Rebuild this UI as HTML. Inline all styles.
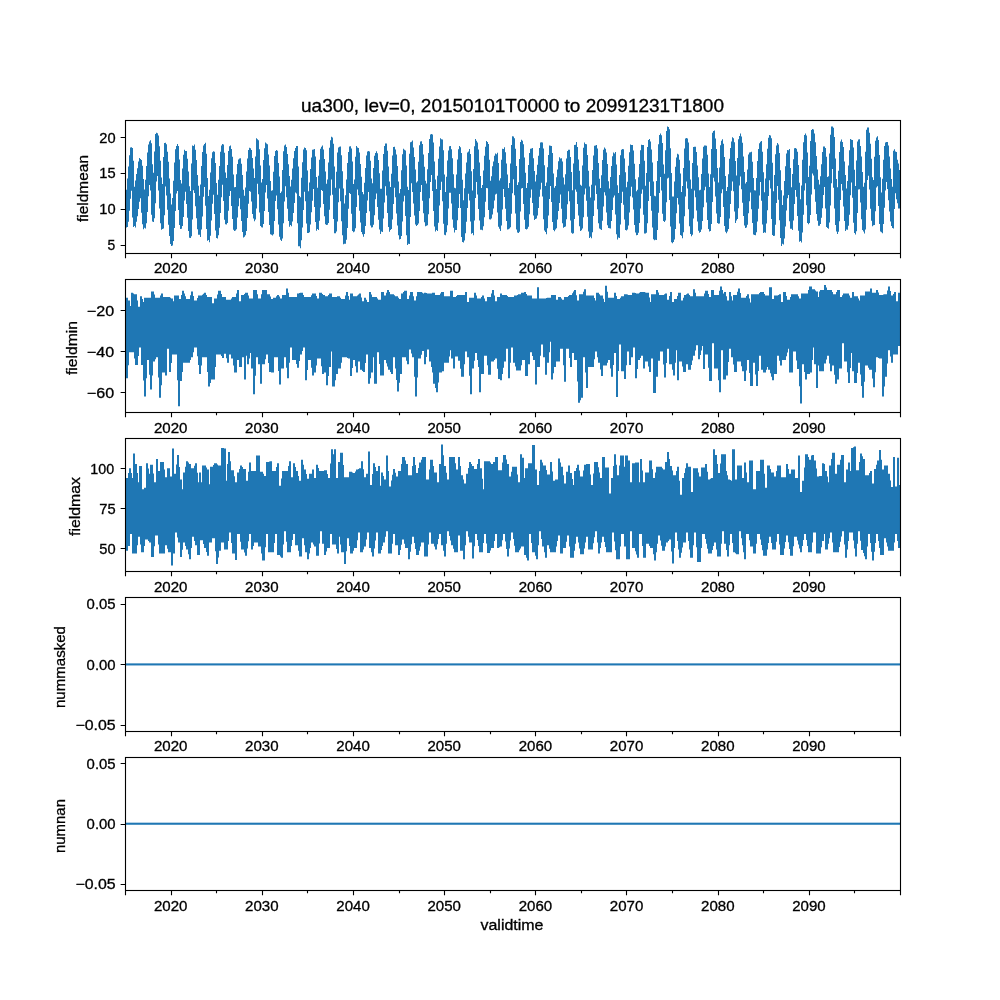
<!DOCTYPE html><html><head><meta charset="utf-8"><style>html,body{margin:0;padding:0;background:#fff;}svg{display:block;}text{font-family:"Liberation Sans",sans-serif;fill:#000;stroke:#000;stroke-width:0.3px;}</style></head><body>
<svg width="1000" height="1000" viewBox="0 0 1000 1000">
<rect width="1000" height="1000" fill="#fff"/>
<path d="M125.0 190.0 L126.0 190.0 L126.0 189.8 L127.0 189.8 L127.0 178.4 L128.0 178.4 L128.0 166.5 L129.0 166.5 L129.0 155.2 L130.0 155.2 L130.0 147.6 L131.0 147.6 L131.0 147.2 L132.0 147.2 L132.0 148.1 L133.0 148.1 L133.0 160.8 L134.0 160.8 L134.0 186.7 L135.0 186.7 L135.0 180.6 L136.0 180.6 L136.0 173.9 L137.0 173.9 L137.0 168.3 L138.0 168.3 L138.0 161.5 L139.0 161.5 L139.0 157.9 L140.0 157.9 L140.0 158.9 L141.0 158.9 L141.0 160.0 L142.0 160.0 L142.0 165.7 L143.0 165.7 L143.0 179.0 L144.0 179.0 L144.0 189.4 L145.0 189.4 L145.0 179.8 L146.0 179.8 L146.0 166.1 L147.0 166.1 L147.0 152.4 L148.0 152.4 L148.0 144.5 L149.0 144.5 L149.0 141.5 L150.0 141.5 L150.0 140.3 L151.0 140.3 L151.0 143.2 L152.0 143.2 L152.0 164.2 L153.0 164.2 L153.0 172.8 L154.0 172.8 L154.0 151.6 L155.0 151.6 L155.0 133.9 L156.0 133.9 L156.0 132.8 L157.0 132.8 L157.0 133.3 L158.0 133.3 L158.0 135.5 L159.0 135.5 L159.0 146.2 L160.0 146.2 L160.0 160.7 L161.0 160.7 L161.0 177.5 L162.0 177.5 L162.0 184.1 L163.0 184.1 L163.0 157.1 L164.0 157.1 L164.0 143.0 L165.0 143.0 L165.0 142.8 L166.0 142.8 L166.0 144.3 L167.0 144.3 L167.0 151.8 L168.0 151.8 L168.0 161.7 L169.0 161.7 L169.0 178.5 L170.0 178.5 L170.0 193.5 L171.0 193.5 L171.0 204.5 L172.0 204.5 L172.0 198.1 L173.0 198.1 L173.0 180.8 L174.0 180.8 L174.0 162.5 L175.0 162.5 L175.0 149.3 L176.0 149.3 L176.0 146.1 L177.0 146.1 L177.0 143.9 L178.0 143.9 L178.0 145.9 L179.0 145.9 L179.0 159.5 L180.0 159.5 L180.0 180.1 L181.0 180.1 L181.0 183.6 L182.0 183.6 L182.0 168.5 L183.0 168.5 L183.0 154.7 L184.0 154.7 L184.0 149.7 L185.0 149.7 L185.0 150.9 L186.0 150.9 L186.0 150.9 L187.0 150.9 L187.0 158.8 L188.0 158.8 L188.0 171.6 L189.0 171.6 L189.0 186.2 L190.0 186.2 L190.0 190.9 L191.0 190.9 L191.0 163.4 L192.0 163.4 L192.0 145.4 L193.0 145.4 L193.0 145.9 L194.0 145.9 L194.0 144.4 L195.0 144.4 L195.0 149.8 L196.0 149.8 L196.0 159.9 L197.0 159.9 L197.0 175.1 L198.0 175.1 L198.0 185.8 L199.0 185.8 L199.0 195.8 L200.0 195.8 L200.0 184.4 L201.0 184.4 L201.0 165.9 L202.0 165.9 L202.0 152.0 L203.0 152.0 L203.0 145.6 L204.0 145.6 L204.0 144.0 L205.0 144.0 L205.0 142.7 L206.0 142.7 L206.0 153.7 L207.0 153.7 L207.0 177.9 L208.0 177.9 L208.0 195.9 L209.0 195.9 L209.0 189.7 L210.0 189.7 L210.0 172.4 L211.0 172.4 L211.0 158.2 L212.0 158.2 L212.0 152.3 L213.0 152.3 L213.0 151.2 L214.0 151.2 L214.0 151.8 L215.0 151.8 L215.0 162.9 L216.0 162.9 L216.0 183.1 L217.0 183.1 L217.0 194.7 L218.0 194.7 L218.0 179.8 L219.0 179.8 L219.0 166.1 L220.0 166.1 L220.0 151.7 L221.0 151.7 L221.0 145.5 L222.0 145.5 L222.0 144.0 L223.0 144.0 L223.0 144.4 L224.0 144.4 L224.0 152.8 L225.0 152.8 L225.0 172.4 L226.0 172.4 L226.0 178.0 L227.0 178.0 L227.0 165.1 L228.0 165.1 L228.0 151.1 L229.0 151.1 L229.0 146.3 L230.0 146.3 L230.0 145.4 L231.0 145.4 L231.0 149.1 L232.0 149.1 L232.0 156.7 L233.0 156.7 L233.0 174.5 L234.0 174.5 L234.0 187.2 L235.0 187.2 L235.0 186.9 L236.0 186.9 L236.0 174.2 L237.0 174.2 L237.0 163.9 L238.0 163.9 L238.0 159.5 L239.0 159.5 L239.0 158.4 L240.0 158.4 L240.0 158.2 L241.0 158.2 L241.0 163.7 L242.0 163.7 L242.0 174.9 L243.0 174.9 L243.0 189.7 L244.0 189.7 L244.0 195.8 L245.0 195.8 L245.0 187.4 L246.0 187.4 L246.0 171.4 L247.0 171.4 L247.0 158.6 L248.0 158.6 L248.0 149.9 L249.0 149.9 L249.0 147.7 L250.0 147.7 L250.0 148.3 L251.0 148.3 L251.0 150.1 L252.0 150.1 L252.0 158.0 L253.0 158.0 L253.0 168.5 L254.0 168.5 L254.0 178.0 L255.0 178.0 L255.0 156.5 L256.0 156.5 L256.0 138.3 L257.0 138.3 L257.0 139.3 L258.0 139.3 L258.0 140.3 L259.0 140.3 L259.0 149.2 L260.0 149.2 L260.0 165.5 L261.0 165.5 L261.0 182.5 L262.0 182.5 L262.0 179.0 L263.0 179.0 L263.0 160.0 L264.0 160.0 L264.0 148.3 L265.0 148.3 L265.0 142.5 L266.0 142.5 L266.0 143.4 L267.0 143.4 L267.0 144.3 L268.0 144.3 L268.0 154.6 L269.0 154.6 L269.0 165.5 L270.0 165.5 L270.0 181.0 L271.0 181.0 L271.0 190.8 L272.0 190.8 L272.0 190.3 L273.0 190.3 L273.0 171.8 L274.0 171.8 L274.0 156.1 L275.0 156.1 L275.0 151.0 L276.0 151.0 L276.0 150.0 L277.0 150.0 L277.0 150.7 L278.0 150.7 L278.0 163.1 L279.0 163.1 L279.0 176.5 L280.0 176.5 L280.0 193.0 L281.0 193.0 L281.0 191.4 L282.0 191.4 L282.0 170.0 L283.0 170.0 L283.0 151.3 L284.0 151.3 L284.0 145.5 L285.0 145.5 L285.0 144.5 L286.0 144.5 L286.0 147.1 L287.0 147.1 L287.0 153.9 L288.0 153.9 L288.0 164.3 L289.0 164.3 L289.0 176.0 L290.0 176.0 L290.0 186.6 L291.0 186.6 L291.0 179.7 L292.0 179.7 L292.0 168.6 L293.0 168.6 L293.0 158.3 L294.0 158.3 L294.0 151.1 L295.0 151.1 L295.0 148.0 L296.0 148.0 L296.0 146.1 L297.0 146.1 L297.0 146.0 L298.0 146.0 L298.0 166.5 L299.0 166.5 L299.0 196.1 L300.0 196.1 L300.0 197.3 L301.0 197.3 L301.0 177.7 L302.0 177.7 L302.0 162.3 L303.0 162.3 L303.0 149.4 L304.0 149.4 L304.0 147.5 L305.0 147.5 L305.0 148.1 L306.0 148.1 L306.0 150.2 L307.0 150.2 L307.0 170.6 L308.0 170.6 L308.0 191.2 L309.0 191.2 L309.0 182.6 L310.0 182.6 L310.0 169.0 L311.0 169.0 L311.0 157.6 L312.0 157.6 L312.0 149.7 L313.0 149.7 L313.0 149.6 L314.0 149.6 L314.0 149.0 L315.0 149.0 L315.0 156.6 L316.0 156.6 L316.0 177.1 L317.0 177.1 L317.0 187.8 L318.0 187.8 L318.0 175.8 L319.0 175.8 L319.0 159.8 L320.0 159.8 L320.0 148.8 L321.0 148.8 L321.0 146.8 L322.0 146.8 L322.0 145.4 L323.0 145.4 L323.0 149.5 L324.0 149.5 L324.0 159.1 L325.0 159.1 L325.0 171.6 L326.0 171.6 L326.0 183.7 L327.0 183.7 L327.0 179.6 L328.0 179.6 L328.0 162.4 L329.0 162.4 L329.0 147.8 L330.0 147.8 L330.0 140.2 L331.0 140.2 L331.0 136.8 L332.0 136.8 L332.0 137.6 L333.0 137.6 L333.0 143.8 L334.0 143.8 L334.0 166.5 L335.0 166.5 L335.0 187.8 L336.0 187.8 L336.0 171.7 L337.0 171.7 L337.0 152.5 L338.0 152.5 L338.0 147.6 L339.0 147.6 L339.0 146.7 L340.0 146.7 L340.0 146.6 L341.0 146.6 L341.0 155.2 L342.0 155.2 L342.0 171.3 L343.0 171.3 L343.0 188.6 L344.0 188.6 L344.0 203.5 L345.0 203.5 L345.0 195.2 L346.0 195.2 L346.0 179.4 L347.0 179.4 L347.0 162.9 L348.0 162.9 L348.0 152.0 L349.0 152.0 L349.0 146.4 L350.0 146.4 L350.0 146.3 L351.0 146.3 L351.0 148.6 L352.0 148.6 L352.0 161.4 L353.0 161.4 L353.0 183.9 L354.0 183.9 L354.0 179.6 L355.0 179.6 L355.0 156.7 L356.0 156.7 L356.0 146.1 L357.0 146.1 L357.0 147.4 L358.0 147.4 L358.0 147.9 L359.0 147.9 L359.0 152.4 L360.0 152.4 L360.0 163.9 L361.0 163.9 L361.0 176.8 L362.0 176.8 L362.0 192.1 L363.0 192.1 L363.0 194.3 L364.0 194.3 L364.0 182.7 L365.0 182.7 L365.0 168.0 L366.0 168.0 L366.0 155.5 L367.0 155.5 L367.0 151.4 L368.0 151.4 L368.0 151.0 L369.0 151.0 L369.0 151.4 L370.0 151.4 L370.0 160.7 L371.0 160.7 L371.0 178.4 L372.0 178.4 L372.0 183.3 L373.0 183.3 L373.0 168.1 L374.0 168.1 L374.0 155.8 L375.0 155.8 L375.0 152.9 L376.0 152.9 L376.0 151.3 L377.0 151.3 L377.0 153.3 L378.0 153.3 L378.0 159.9 L379.0 159.9 L379.0 173.3 L380.0 173.3 L380.0 188.7 L381.0 188.7 L381.0 188.7 L382.0 188.7 L382.0 170.4 L383.0 170.4 L383.0 154.1 L384.0 154.1 L384.0 145.9 L385.0 145.9 L385.0 143.5 L386.0 143.5 L386.0 143.5 L387.0 143.5 L387.0 150.8 L388.0 150.8 L388.0 166.5 L389.0 166.5 L389.0 181.6 L390.0 181.6 L390.0 186.9 L391.0 186.9 L391.0 173.8 L392.0 173.8 L392.0 155.6 L393.0 155.6 L393.0 147.0 L394.0 147.0 L394.0 146.8 L395.0 146.8 L395.0 149.5 L396.0 149.5 L396.0 154.4 L397.0 154.4 L397.0 166.1 L398.0 166.1 L398.0 181.4 L399.0 181.4 L399.0 193.2 L400.0 193.2 L400.0 189.0 L401.0 189.0 L401.0 170.3 L402.0 170.3 L402.0 154.2 L403.0 154.2 L403.0 148.7 L404.0 148.7 L404.0 149.8 L405.0 149.8 L405.0 150.6 L406.0 150.6 L406.0 165.5 L407.0 165.5 L407.0 186.7 L408.0 186.7 L408.0 190.1 L409.0 190.1 L409.0 153.7 L410.0 153.7 L410.0 142.2 L411.0 142.2 L411.0 141.7 L412.0 141.7 L412.0 140.5 L413.0 140.5 L413.0 147.6 L414.0 147.6 L414.0 157.1 L415.0 157.1 L415.0 169.6 L416.0 169.6 L416.0 182.4 L417.0 182.4 L417.0 181.2 L418.0 181.2 L418.0 161.8 L419.0 161.8 L419.0 145.2 L420.0 145.2 L420.0 141.5 L421.0 141.5 L421.0 141.2 L422.0 141.2 L422.0 143.9 L423.0 143.9 L423.0 154.5 L424.0 154.5 L424.0 166.8 L425.0 166.8 L425.0 180.8 L426.0 180.8 L426.0 183.4 L427.0 183.4 L427.0 169.2 L428.0 169.2 L428.0 152.9 L429.0 152.9 L429.0 138.9 L430.0 138.9 L430.0 134.4 L431.0 134.4 L431.0 134.0 L432.0 134.0 L432.0 134.6 L433.0 134.6 L433.0 142.6 L434.0 142.6 L434.0 161.5 L435.0 161.5 L435.0 179.4 L436.0 179.4 L436.0 189.0 L437.0 189.0 L437.0 175.7 L438.0 175.7 L438.0 158.8 L439.0 158.8 L439.0 146.4 L440.0 146.4 L440.0 138.3 L441.0 138.3 L441.0 139.3 L442.0 139.3 L442.0 139.4 L443.0 139.4 L443.0 150.3 L444.0 150.3 L444.0 174.6 L445.0 174.6 L445.0 191.9 L446.0 191.9 L446.0 176.7 L447.0 176.7 L447.0 160.4 L448.0 160.4 L448.0 150.6 L449.0 150.6 L449.0 146.3 L450.0 146.3 L450.0 146.0 L451.0 146.0 L451.0 149.2 L452.0 149.2 L452.0 158.2 L453.0 158.2 L453.0 174.2 L454.0 174.2 L454.0 187.7 L455.0 187.7 L455.0 188.3 L456.0 188.3 L456.0 174.4 L457.0 174.4 L457.0 159.6 L458.0 159.6 L458.0 149.2 L459.0 149.2 L459.0 146.0 L460.0 146.0 L460.0 147.2 L461.0 147.2 L461.0 153.0 L462.0 153.0 L462.0 179.7 L463.0 179.7 L463.0 200.3 L464.0 200.3 L464.0 188.2 L465.0 188.2 L465.0 173.4 L466.0 173.4 L466.0 162.5 L467.0 162.5 L467.0 152.4 L468.0 152.4 L468.0 151.6 L469.0 151.6 L469.0 149.1 L470.0 149.1 L470.0 153.9 L471.0 153.9 L471.0 171.2 L472.0 171.2 L472.0 190.6 L473.0 190.6 L473.0 168.9 L474.0 168.9 L474.0 146.2 L475.0 146.2 L475.0 139.0 L476.0 139.0 L476.0 140.7 L477.0 140.7 L477.0 142.5 L478.0 142.5 L478.0 149.5 L479.0 149.5 L479.0 162.4 L480.0 162.4 L480.0 175.9 L481.0 175.9 L481.0 188.0 L482.0 188.0 L482.0 184.9 L483.0 184.9 L483.0 170.4 L484.0 170.4 L484.0 155.8 L485.0 155.8 L485.0 146.7 L486.0 146.7 L486.0 141.1 L487.0 141.1 L487.0 142.1 L488.0 142.1 L488.0 143.9 L489.0 143.9 L489.0 159.8 L490.0 159.8 L490.0 180.7 L491.0 180.7 L491.0 176.2 L492.0 176.2 L492.0 166.2 L493.0 166.2 L493.0 161.4 L494.0 161.4 L494.0 155.8 L495.0 155.8 L495.0 153.5 L496.0 153.5 L496.0 154.3 L497.0 154.3 L497.0 152.8 L498.0 152.8 L498.0 163.0 L499.0 163.0 L499.0 180.6 L500.0 180.6 L500.0 178.2 L501.0 178.2 L501.0 159.8 L502.0 159.8 L502.0 148.8 L503.0 148.8 L503.0 149.0 L504.0 149.0 L504.0 147.2 L505.0 147.2 L505.0 152.2 L506.0 152.2 L506.0 163.5 L507.0 163.5 L507.0 174.5 L508.0 174.5 L508.0 188.1 L509.0 188.1 L509.0 182.9 L510.0 182.9 L510.0 163.4 L511.0 163.4 L511.0 144.9 L512.0 144.9 L512.0 136.2 L513.0 136.2 L513.0 136.4 L514.0 136.4 L514.0 138.3 L515.0 138.3 L515.0 148.7 L516.0 148.7 L516.0 165.9 L517.0 165.9 L517.0 184.9 L518.0 184.9 L518.0 182.2 L519.0 182.2 L519.0 158.9 L520.0 158.9 L520.0 142.0 L521.0 142.0 L521.0 139.8 L522.0 139.8 L522.0 140.8 L523.0 140.8 L523.0 144.3 L524.0 144.3 L524.0 157.6 L525.0 157.6 L525.0 172.8 L526.0 172.8 L526.0 188.0 L527.0 188.0 L527.0 182.9 L528.0 182.9 L528.0 165.0 L529.0 165.0 L529.0 153.0 L530.0 153.0 L530.0 148.7 L531.0 148.7 L531.0 148.4 L532.0 148.4 L532.0 148.0 L533.0 148.0 L533.0 158.2 L534.0 158.2 L534.0 171.1 L535.0 171.1 L535.0 181.6 L536.0 181.6 L536.0 174.8 L537.0 174.8 L537.0 164.8 L538.0 164.8 L538.0 155.7 L539.0 155.7 L539.0 147.9 L540.0 147.9 L540.0 142.6 L541.0 142.6 L541.0 142.3 L542.0 142.3 L542.0 142.6 L543.0 142.6 L543.0 148.5 L544.0 148.5 L544.0 165.2 L545.0 165.2 L545.0 186.1 L546.0 186.1 L546.0 182.6 L547.0 182.6 L547.0 167.3 L548.0 167.3 L548.0 155.0 L549.0 155.0 L549.0 145.6 L550.0 145.6 L550.0 145.8 L551.0 145.8 L551.0 145.9 L552.0 145.9 L552.0 152.9 L553.0 152.9 L553.0 173.6 L554.0 173.6 L554.0 187.7 L555.0 187.7 L555.0 186.0 L556.0 186.0 L556.0 177.3 L557.0 177.3 L557.0 169.6 L558.0 169.6 L558.0 161.2 L559.0 161.2 L559.0 157.2 L560.0 157.2 L560.0 158.6 L561.0 158.6 L561.0 158.2 L562.0 158.2 L562.0 161.4 L563.0 161.4 L563.0 177.4 L564.0 177.4 L564.0 184.5 L565.0 184.5 L565.0 174.2 L566.0 174.2 L566.0 158.5 L567.0 158.5 L567.0 151.0 L568.0 151.0 L568.0 149.7 L569.0 149.7 L569.0 149.8 L570.0 149.8 L570.0 157.0 L571.0 157.0 L571.0 171.9 L572.0 171.9 L572.0 190.2 L573.0 190.2 L573.0 163.4 L574.0 163.4 L574.0 144.9 L575.0 144.9 L575.0 144.7 L576.0 144.7 L576.0 142.1 L577.0 142.1 L577.0 146.9 L578.0 146.9 L578.0 159.4 L579.0 159.4 L579.0 170.8 L580.0 170.8 L580.0 184.8 L581.0 184.8 L581.0 185.7 L582.0 185.7 L582.0 165.5 L583.0 165.5 L583.0 147.8 L584.0 147.8 L584.0 142.4 L585.0 142.4 L585.0 143.9 L586.0 143.9 L586.0 144.3 L587.0 144.3 L587.0 154.9 L588.0 154.9 L588.0 170.8 L589.0 170.8 L589.0 186.6 L590.0 186.6 L590.0 197.5 L591.0 197.5 L591.0 184.7 L592.0 184.7 L592.0 170.0 L593.0 170.0 L593.0 155.6 L594.0 155.6 L594.0 145.8 L595.0 145.8 L595.0 145.4 L596.0 145.4 L596.0 145.1 L597.0 145.1 L597.0 148.6 L598.0 148.6 L598.0 163.0 L599.0 163.0 L599.0 178.7 L600.0 178.7 L600.0 187.9 L601.0 187.9 L601.0 175.2 L602.0 175.2 L602.0 159.9 L603.0 159.9 L603.0 149.7 L604.0 149.7 L604.0 147.5 L605.0 147.5 L605.0 148.8 L606.0 148.8 L606.0 152.4 L607.0 152.4 L607.0 164.1 L608.0 164.1 L608.0 181.3 L609.0 181.3 L609.0 188.4 L610.0 188.4 L610.0 177.1 L611.0 177.1 L611.0 165.9 L612.0 165.9 L612.0 156.3 L613.0 156.3 L613.0 152.6 L614.0 152.6 L614.0 153.5 L615.0 153.5 L615.0 152.0 L616.0 152.0 L616.0 164.6 L617.0 164.6 L617.0 185.2 L618.0 185.2 L618.0 192.9 L619.0 192.9 L619.0 175.1 L620.0 175.1 L620.0 155.2 L621.0 155.2 L621.0 149.7 L622.0 149.7 L622.0 149.0 L623.0 149.0 L623.0 149.2 L624.0 149.2 L624.0 158.6 L625.0 158.6 L625.0 172.2 L626.0 172.2 L626.0 187.3 L627.0 187.3 L627.0 181.7 L628.0 181.7 L628.0 165.8 L629.0 165.8 L629.0 152.2 L630.0 152.2 L630.0 144.4 L631.0 144.4 L631.0 145.0 L632.0 145.0 L632.0 145.1 L633.0 145.1 L633.0 150.6 L634.0 150.6 L634.0 163.8 L635.0 163.8 L635.0 179.3 L636.0 179.3 L636.0 191.2 L637.0 191.2 L637.0 189.7 L638.0 189.7 L638.0 177.3 L639.0 177.3 L639.0 164.1 L640.0 164.1 L640.0 150.2 L641.0 150.2 L641.0 144.7 L642.0 144.7 L642.0 145.1 L643.0 145.1 L643.0 145.1 L644.0 145.1 L644.0 160.8 L645.0 160.8 L645.0 185.7 L646.0 185.7 L646.0 172.9 L647.0 172.9 L647.0 147.1 L648.0 147.1 L648.0 139.9 L649.0 139.9 L649.0 139.0 L650.0 139.0 L650.0 141.6 L651.0 141.6 L651.0 149.5 L652.0 149.5 L652.0 162.5 L653.0 162.5 L653.0 181.6 L654.0 181.6 L654.0 195.8 L655.0 195.8 L655.0 196.3 L656.0 196.3 L656.0 181.0 L657.0 181.0 L657.0 161.0 L658.0 161.0 L658.0 144.2 L659.0 144.2 L659.0 135.1 L660.0 135.1 L660.0 133.4 L661.0 133.4 L661.0 135.3 L662.0 135.3 L662.0 143.1 L663.0 143.1 L663.0 164.4 L664.0 164.4 L664.0 173.8 L665.0 173.8 L665.0 150.2 L666.0 150.2 L666.0 130.9 L667.0 130.9 L667.0 126.4 L668.0 126.4 L668.0 127.0 L669.0 127.0 L669.0 129.3 L670.0 129.3 L670.0 148.2 L671.0 148.2 L671.0 173.1 L672.0 173.1 L672.0 196.6 L673.0 196.6 L673.0 196.5 L674.0 196.5 L674.0 181.5 L675.0 181.5 L675.0 166.8 L676.0 166.8 L676.0 157.4 L677.0 157.4 L677.0 153.7 L678.0 153.7 L678.0 154.4 L679.0 154.4 L679.0 159.7 L680.0 159.7 L680.0 173.4 L681.0 173.4 L681.0 192.1 L682.0 192.1 L682.0 186.0 L683.0 186.0 L683.0 168.0 L684.0 168.0 L684.0 148.5 L685.0 148.5 L685.0 138.6 L686.0 138.6 L686.0 138.1 L687.0 138.1 L687.0 138.4 L688.0 138.4 L688.0 142.4 L689.0 142.4 L689.0 160.5 L690.0 160.5 L690.0 179.4 L691.0 179.4 L691.0 188.8 L692.0 188.8 L692.0 162.9 L693.0 162.9 L693.0 147.0 L694.0 147.0 L694.0 146.8 L695.0 146.8 L695.0 146.8 L696.0 146.8 L696.0 152.0 L697.0 152.0 L697.0 165.4 L698.0 165.4 L698.0 177.3 L699.0 177.3 L699.0 190.3 L700.0 190.3 L700.0 189.8 L701.0 189.8 L701.0 174.1 L702.0 174.1 L702.0 158.5 L703.0 158.5 L703.0 146.8 L704.0 146.8 L704.0 145.4 L705.0 145.4 L705.0 145.5 L706.0 145.5 L706.0 145.7 L707.0 145.7 L707.0 154.8 L708.0 154.8 L708.0 173.6 L709.0 173.6 L709.0 187.1 L710.0 187.1 L710.0 174.2 L711.0 174.2 L711.0 149.0 L712.0 149.0 L712.0 132.7 L713.0 132.7 L713.0 131.1 L714.0 131.1 L714.0 130.6 L715.0 130.6 L715.0 138.5 L716.0 138.5 L716.0 148.9 L717.0 148.9 L717.0 168.0 L718.0 168.0 L718.0 182.4 L719.0 182.4 L719.0 167.5 L720.0 167.5 L720.0 145.2 L721.0 145.2 L721.0 140.7 L722.0 140.7 L722.0 139.2 L723.0 139.2 L723.0 143.7 L724.0 143.7 L724.0 157.0 L725.0 157.0 L725.0 176.0 L726.0 176.0 L726.0 191.1 L727.0 191.1 L727.0 187.0 L728.0 187.0 L728.0 174.2 L729.0 174.2 L729.0 158.8 L730.0 158.8 L730.0 148.0 L731.0 148.0 L731.0 141.5 L732.0 141.5 L732.0 137.3 L733.0 137.3 L733.0 138.3 L734.0 138.3 L734.0 142.2 L735.0 142.2 L735.0 161.1 L736.0 161.1 L736.0 175.5 L737.0 175.5 L737.0 157.9 L738.0 157.9 L738.0 139.2 L739.0 139.2 L739.0 135.9 L740.0 135.9 L740.0 133.6 L741.0 133.6 L741.0 136.5 L742.0 136.5 L742.0 142.7 L743.0 142.7 L743.0 156.5 L744.0 156.5 L744.0 171.9 L745.0 171.9 L745.0 183.5 L746.0 183.5 L746.0 182.1 L747.0 182.1 L747.0 169.4 L748.0 169.4 L748.0 154.6 L749.0 154.6 L749.0 152.5 L750.0 152.5 L750.0 152.3 L751.0 152.3 L751.0 151.7 L752.0 151.7 L752.0 161.7 L753.0 161.7 L753.0 178.1 L754.0 178.1 L754.0 190.3 L755.0 190.3 L755.0 190.5 L756.0 190.5 L756.0 178.0 L757.0 178.0 L757.0 160.9 L758.0 160.9 L758.0 149.0 L759.0 149.0 L759.0 143.3 L760.0 143.3 L760.0 141.7 L761.0 141.7 L761.0 141.1 L762.0 141.1 L762.0 151.8 L763.0 151.8 L763.0 172.2 L764.0 172.2 L764.0 192.3 L765.0 192.3 L765.0 178.4 L766.0 178.4 L766.0 164.3 L767.0 164.3 L767.0 148.7 L768.0 148.7 L768.0 137.7 L769.0 137.7 L769.0 135.1 L770.0 135.1 L770.0 135.6 L771.0 135.6 L771.0 138.2 L772.0 138.2 L772.0 162.7 L773.0 162.7 L773.0 191.3 L774.0 191.3 L774.0 175.1 L775.0 175.1 L775.0 154.3 L776.0 154.3 L776.0 145.5 L777.0 145.5 L777.0 143.1 L778.0 143.1 L778.0 144.5 L779.0 144.5 L779.0 153.1 L780.0 153.1 L780.0 170.3 L781.0 170.3 L781.0 190.3 L782.0 190.3 L782.0 205.1 L783.0 205.1 L783.0 195.4 L784.0 195.4 L784.0 180.9 L785.0 180.9 L785.0 166.3 L786.0 166.3 L786.0 153.4 L787.0 153.4 L787.0 150.1 L788.0 150.1 L788.0 150.2 L789.0 150.2 L789.0 149.0 L790.0 149.0 L790.0 168.1 L791.0 168.1 L791.0 187.2 L792.0 187.2 L792.0 174.1 L793.0 174.1 L793.0 159.2 L794.0 159.2 L794.0 148.2 L795.0 148.2 L795.0 147.9 L796.0 147.9 L796.0 148.8 L797.0 148.8 L797.0 151.7 L798.0 151.7 L798.0 165.1 L799.0 165.1 L799.0 182.7 L800.0 182.7 L800.0 199.2 L801.0 199.2 L801.0 185.5 L802.0 185.5 L802.0 159.7 L803.0 159.7 L803.0 142.3 L804.0 142.3 L804.0 134.9 L805.0 134.9 L805.0 133.4 L806.0 133.4 L806.0 135.4 L807.0 135.4 L807.0 152.4 L808.0 152.4 L808.0 176.9 L809.0 176.9 L809.0 165.7 L810.0 165.7 L810.0 140.9 L811.0 140.9 L811.0 130.0 L812.0 130.0 L812.0 128.9 L813.0 128.9 L813.0 129.6 L814.0 129.6 L814.0 133.6 L815.0 133.6 L815.0 142.3 L816.0 142.3 L816.0 155.9 L817.0 155.9 L817.0 169.5 L818.0 169.5 L818.0 179.8 L819.0 179.8 L819.0 184.5 L820.0 184.5 L820.0 176.2 L821.0 176.2 L821.0 164.3 L822.0 164.3 L822.0 152.1 L823.0 152.1 L823.0 146.6 L824.0 146.6 L824.0 146.6 L825.0 146.6 L825.0 148.1 L826.0 148.1 L826.0 156.8 L827.0 156.8 L827.0 177.1 L828.0 177.1 L828.0 176.2 L829.0 176.2 L829.0 153.5 L830.0 153.5 L830.0 134.7 L831.0 134.7 L831.0 126.4 L832.0 126.4 L832.0 126.5 L833.0 126.5 L833.0 127.7 L834.0 127.7 L834.0 136.9 L835.0 136.9 L835.0 158.4 L836.0 158.4 L836.0 178.9 L837.0 178.9 L837.0 187.3 L838.0 187.3 L838.0 170.7 L839.0 170.7 L839.0 151.9 L840.0 151.9 L840.0 141.5 L841.0 141.5 L841.0 139.6 L842.0 139.6 L842.0 142.0 L843.0 142.0 L843.0 146.9 L844.0 146.9 L844.0 161.5 L845.0 161.5 L845.0 174.9 L846.0 174.9 L846.0 188.4 L847.0 188.4 L847.0 180.9 L848.0 180.9 L848.0 165.5 L849.0 165.5 L849.0 150.2 L850.0 150.2 L850.0 139.1 L851.0 139.1 L851.0 139.8 L852.0 139.8 L852.0 140.1 L853.0 140.1 L853.0 147.6 L854.0 147.6 L854.0 169.7 L855.0 169.7 L855.0 186.0 L856.0 186.0 L856.0 160.5 L857.0 160.5 L857.0 141.5 L858.0 141.5 L858.0 139.6 L859.0 139.6 L859.0 139.2 L860.0 139.2 L860.0 145.9 L861.0 145.9 L861.0 156.4 L862.0 156.4 L862.0 172.1 L863.0 172.1 L863.0 186.7 L864.0 186.7 L864.0 182.7 L865.0 182.7 L865.0 151.8 L866.0 151.8 L866.0 129.8 L867.0 129.8 L867.0 127.4 L868.0 127.4 L868.0 127.5 L869.0 127.5 L869.0 132.8 L870.0 132.8 L870.0 143.8 L871.0 143.8 L871.0 158.7 L872.0 158.7 L872.0 177.3 L873.0 177.3 L873.0 180.0 L874.0 180.0 L874.0 156.7 L875.0 156.7 L875.0 140.8 L876.0 140.8 L876.0 137.6 L877.0 137.6 L877.0 136.2 L878.0 136.2 L878.0 140.0 L879.0 140.0 L879.0 155.0 L880.0 155.0 L880.0 177.3 L881.0 177.3 L881.0 192.6 L882.0 192.6 L882.0 178.8 L883.0 178.8 L883.0 159.7 L884.0 159.7 L884.0 146.0 L885.0 146.0 L885.0 142.4 L886.0 142.4 L886.0 142.1 L887.0 142.1 L887.0 141.9 L888.0 141.9 L888.0 145.5 L889.0 145.5 L889.0 156.4 L890.0 156.4 L890.0 168.4 L891.0 168.4 L891.0 179.0 L892.0 179.0 L892.0 186.8 L893.0 186.8 L893.0 150.8 L894.0 150.8 L894.0 149.2 L895.0 149.2 L895.0 151.6 L896.0 151.6 L896.0 152.0 L897.0 152.0 L897.0 159.8 L898.0 159.8 L898.0 163.4 L899.0 163.4 L899.0 170.1 L900.0 170.1 L900.0 208.4 L899.0 208.4 L899.0 208.4 L898.0 208.4 L898.0 203.2 L897.0 203.2 L897.0 199.2 L896.0 199.2 L896.0 193.2 L895.0 193.2 L895.0 208.9 L894.0 208.9 L894.0 228.6 L893.0 228.6 L893.0 228.1 L892.0 228.1 L892.0 226.0 L891.0 226.0 L891.0 221.6 L890.0 221.6 L890.0 211.6 L889.0 211.6 L889.0 200.3 L888.0 200.3 L888.0 189.1 L887.0 189.1 L887.0 181.9 L886.0 181.9 L886.0 190.6 L885.0 190.6 L885.0 207.8 L884.0 207.8 L884.0 223.9 L883.0 223.9 L883.0 233.3 L882.0 233.3 L882.0 232.2 L881.0 232.2 L881.0 231.5 L880.0 231.5 L880.0 224.1 L879.0 224.1 L879.0 206.0 L878.0 206.0 L878.0 186.3 L877.0 186.3 L877.0 187.4 L876.0 187.4 L876.0 211.3 L875.0 211.3 L875.0 225.0 L874.0 225.0 L874.0 225.3 L873.0 225.3 L873.0 226.3 L872.0 226.3 L872.0 220.7 L871.0 220.7 L871.0 208.8 L870.0 208.8 L870.0 189.5 L869.0 189.5 L869.0 175.7 L868.0 175.7 L868.0 180.1 L867.0 180.1 L867.0 209.8 L866.0 209.8 L866.0 229.5 L865.0 229.5 L865.0 233.4 L864.0 233.4 L864.0 231.4 L863.0 231.4 L863.0 230.0 L862.0 230.0 L862.0 219.3 L861.0 219.3 L861.0 202.5 L860.0 202.5 L860.0 189.3 L859.0 189.3 L859.0 189.4 L858.0 189.4 L858.0 212.9 L857.0 212.9 L857.0 231.3 L856.0 231.3 L856.0 234.4 L855.0 234.4 L855.0 233.1 L854.0 233.1 L854.0 222.7 L853.0 222.7 L853.0 197.7 L852.0 197.7 L852.0 182.4 L851.0 182.4 L851.0 195.2 L850.0 195.2 L850.0 214.8 L849.0 214.8 L849.0 225.8 L848.0 225.8 L848.0 229.7 L847.0 229.7 L847.0 229.6 L846.0 229.6 L846.0 231.1 L845.0 231.1 L845.0 221.1 L844.0 221.1 L844.0 206.5 L843.0 206.5 L843.0 190.5 L842.0 190.5 L842.0 184.0 L841.0 184.0 L841.0 199.9 L840.0 199.9 L840.0 221.3 L839.0 221.3 L839.0 231.8 L838.0 231.8 L838.0 233.9 L837.0 233.9 L837.0 231.6 L836.0 231.6 L836.0 225.0 L835.0 225.0 L835.0 208.4 L834.0 208.4 L834.0 187.7 L833.0 187.7 L833.0 169.1 L832.0 169.1 L832.0 183.2 L831.0 183.2 L831.0 205.4 L830.0 205.4 L830.0 222.6 L829.0 222.6 L829.0 228.8 L828.0 228.8 L828.0 227.9 L827.0 227.9 L827.0 226.9 L826.0 226.9 L826.0 208.4 L825.0 208.4 L825.0 187.0 L824.0 187.0 L824.0 194.9 L823.0 194.9 L823.0 208.3 L822.0 208.3 L822.0 217.7 L821.0 217.7 L821.0 224.1 L820.0 224.1 L820.0 225.7 L819.0 225.7 L819.0 225.8 L818.0 225.8 L818.0 220.7 L817.0 220.7 L817.0 214.0 L816.0 214.0 L816.0 201.7 L815.0 201.7 L815.0 189.3 L814.0 189.3 L814.0 175.6 L813.0 175.6 L813.0 173.6 L812.0 173.6 L812.0 194.6 L811.0 194.6 L811.0 215.1 L810.0 215.1 L810.0 223.1 L809.0 223.1 L809.0 224.2 L808.0 224.2 L808.0 222.9 L807.0 222.9 L807.0 205.2 L806.0 205.2 L806.0 183.2 L805.0 183.2 L805.0 190.5 L804.0 190.5 L804.0 214.8 L803.0 214.8 L803.0 232.5 L802.0 232.5 L802.0 242.4 L801.0 242.4 L801.0 241.0 L800.0 241.0 L800.0 241.8 L799.0 241.8 L799.0 230.8 L798.0 230.8 L798.0 216.0 L797.0 216.0 L797.0 196.8 L796.0 196.8 L796.0 189.9 L795.0 189.9 L795.0 204.0 L794.0 204.0 L794.0 220.6 L793.0 220.6 L793.0 230.0 L792.0 230.0 L792.0 228.7 L791.0 228.7 L791.0 228.8 L790.0 228.8 L790.0 221.2 L789.0 221.2 L789.0 195.0 L788.0 195.0 L788.0 198.2 L787.0 198.2 L787.0 210.6 L786.0 210.6 L786.0 226.4 L785.0 226.4 L785.0 238.5 L784.0 238.5 L784.0 244.4 L783.0 244.4 L783.0 243.7 L782.0 243.7 L782.0 246.0 L781.0 246.0 L781.0 237.9 L780.0 237.9 L780.0 220.3 L779.0 220.3 L779.0 199.7 L778.0 199.7 L778.0 186.0 L777.0 186.0 L777.0 203.1 L776.0 203.1 L776.0 224.8 L775.0 224.8 L775.0 235.7 L774.0 235.7 L774.0 235.9 L773.0 235.9 L773.0 235.1 L772.0 235.1 L772.0 219.1 L771.0 219.1 L771.0 188.4 L770.0 188.4 L770.0 180.3 L769.0 180.3 L769.0 195.9 L768.0 195.9 L768.0 210.3 L767.0 210.3 L767.0 223.6 L766.0 223.6 L766.0 232.8 L765.0 232.8 L765.0 232.3 L764.0 232.3 L764.0 233.0 L763.0 233.0 L763.0 224.5 L762.0 224.5 L762.0 200.7 L761.0 200.7 L761.0 182.1 L760.0 182.1 L760.0 195.5 L759.0 195.5 L759.0 208.8 L758.0 208.8 L758.0 221.5 L757.0 221.5 L757.0 232.3 L756.0 232.3 L756.0 235.3 L755.0 235.3 L755.0 234.9 L754.0 234.9 L754.0 234.4 L753.0 234.4 L753.0 223.1 L752.0 223.1 L752.0 209.3 L751.0 209.3 L751.0 192.5 L750.0 192.5 L750.0 201.2 L749.0 201.2 L749.0 213.3 L748.0 213.3 L748.0 224.8 L747.0 224.8 L747.0 227.5 L746.0 227.5 L746.0 228.0 L745.0 228.0 L745.0 225.4 L744.0 225.4 L744.0 215.9 L743.0 215.9 L743.0 202.7 L742.0 202.7 L742.0 189.3 L741.0 189.3 L741.0 176.6 L740.0 176.6 L740.0 185.6 L739.0 185.6 L739.0 208.3 L738.0 208.3 L738.0 219.0 L737.0 219.0 L737.0 220.6 L736.0 220.6 L736.0 223.0 L735.0 223.0 L735.0 211.4 L734.0 211.4 L734.0 191.2 L733.0 191.2 L733.0 181.5 L732.0 181.5 L732.0 190.7 L731.0 190.7 L731.0 204.0 L730.0 204.0 L730.0 218.5 L729.0 218.5 L729.0 229.0 L728.0 229.0 L728.0 231.6 L727.0 231.6 L727.0 233.3 L726.0 233.3 L726.0 231.8 L725.0 231.8 L725.0 226.0 L724.0 226.0 L724.0 207.0 L723.0 207.0 L723.0 189.3 L722.0 189.3 L722.0 193.2 L721.0 193.2 L721.0 216.9 L720.0 216.9 L720.0 223.5 L719.0 223.5 L719.0 223.8 L718.0 223.8 L718.0 223.1 L717.0 223.1 L717.0 213.5 L716.0 213.5 L716.0 196.4 L715.0 196.4 L715.0 181.6 L714.0 181.6 L714.0 177.8 L713.0 177.8 L713.0 202.0 L712.0 202.0 L712.0 223.9 L711.0 223.9 L711.0 231.0 L710.0 231.0 L710.0 231.4 L709.0 231.4 L709.0 229.0 L708.0 229.0 L708.0 220.0 L707.0 220.0 L707.0 202.4 L706.0 202.4 L706.0 186.7 L705.0 186.7 L705.0 190.2 L704.0 190.2 L704.0 207.3 L703.0 207.3 L703.0 221.1 L702.0 221.1 L702.0 229.5 L701.0 229.5 L701.0 231.9 L700.0 231.9 L700.0 232.7 L699.0 232.7 L699.0 230.8 L698.0 230.8 L698.0 221.5 L697.0 221.5 L697.0 210.5 L696.0 210.5 L696.0 197.3 L695.0 197.3 L695.0 190.6 L694.0 190.6 L694.0 218.4 L693.0 218.4 L693.0 234.7 L692.0 234.7 L692.0 236.3 L691.0 236.3 L691.0 233.9 L690.0 233.9 L690.0 226.2 L689.0 226.2 L689.0 209.2 L688.0 209.2 L688.0 188.5 L687.0 188.5 L687.0 181.6 L686.0 181.6 L686.0 196.6 L685.0 196.6 L685.0 216.2 L684.0 216.2 L684.0 232.3 L683.0 232.3 L683.0 238.2 L682.0 238.2 L682.0 235.8 L681.0 235.8 L681.0 235.0 L680.0 235.0 L680.0 223.4 L679.0 223.4 L679.0 204.6 L678.0 204.6 L678.0 197.9 L677.0 197.9 L677.0 213.3 L676.0 213.3 L676.0 229.1 L675.0 229.1 L675.0 239.5 L674.0 239.5 L674.0 242.0 L673.0 242.0 L673.0 243.2 L672.0 243.2 L672.0 242.2 L671.0 242.2 L671.0 226.5 L670.0 226.5 L670.0 200.0 L669.0 200.0 L669.0 177.8 L668.0 177.8 L668.0 178.5 L667.0 178.5 L667.0 202.3 L666.0 202.3 L666.0 220.4 L665.0 220.4 L665.0 222.1 L664.0 222.1 L664.0 220.9 L663.0 220.9 L663.0 213.7 L662.0 213.7 L662.0 190.6 L661.0 190.6 L661.0 177.0 L660.0 177.0 L660.0 193.1 L659.0 193.1 L659.0 212.7 L658.0 212.7 L658.0 229.9 L657.0 229.9 L657.0 240.0 L656.0 240.0 L656.0 239.8 L655.0 239.8 L655.0 240.2 L654.0 240.2 L654.0 239.3 L653.0 239.3 L653.0 227.5 L652.0 227.5 L652.0 210.8 L651.0 210.8 L651.0 196.0 L650.0 196.0 L650.0 181.7 L649.0 181.7 L649.0 201.1 L648.0 201.1 L648.0 223.2 L647.0 223.2 L647.0 232.8 L646.0 232.8 L646.0 233.6 L645.0 233.6 L645.0 233.4 L644.0 233.4 L644.0 214.8 L643.0 214.8 L643.0 189.6 L642.0 189.6 L642.0 193.8 L641.0 193.8 L641.0 208.5 L640.0 208.5 L640.0 222.9 L639.0 222.9 L639.0 232.8 L638.0 232.8 L638.0 235.1 L637.0 235.1 L637.0 235.2 L636.0 235.2 L636.0 232.4 L635.0 232.4 L635.0 224.9 L634.0 224.9 L634.0 209.6 L633.0 209.6 L633.0 197.4 L632.0 197.4 L632.0 186.7 L631.0 186.7 L631.0 196.2 L630.0 196.2 L630.0 212.6 L629.0 212.6 L629.0 225.6 L628.0 225.6 L628.0 229.5 L627.0 229.5 L627.0 230.6 L626.0 230.6 L626.0 229.9 L625.0 229.9 L625.0 219.5 L624.0 219.5 L624.0 204.8 L623.0 204.8 L623.0 191.8 L622.0 191.8 L622.0 203.1 L621.0 203.1 L621.0 224.5 L620.0 224.5 L620.0 237.9 L619.0 237.9 L619.0 237.5 L618.0 237.5 L618.0 239.6 L617.0 239.6 L617.0 234.2 L616.0 234.2 L616.0 214.6 L615.0 214.6 L615.0 195.4 L614.0 195.4 L614.0 197.5 L613.0 197.5 L613.0 209.9 L612.0 209.9 L612.0 220.9 L611.0 220.9 L611.0 228.5 L610.0 228.5 L610.0 228.3 L609.0 228.3 L609.0 228.0 L608.0 228.0 L608.0 225.2 L607.0 225.2 L607.0 212.5 L606.0 212.5 L606.0 195.6 L605.0 195.6 L605.0 192.2 L604.0 192.2 L604.0 206.5 L603.0 206.5 L603.0 220.7 L602.0 220.7 L602.0 230.0 L601.0 230.0 L601.0 229.2 L600.0 229.2 L600.0 228.6 L599.0 228.6 L599.0 223.2 L598.0 223.2 L598.0 209.2 L597.0 209.2 L597.0 194.1 L596.0 194.1 L596.0 185.4 L595.0 185.4 L595.0 200.5 L594.0 200.5 L594.0 215.9 L593.0 215.9 L593.0 232.3 L592.0 232.3 L592.0 238.3 L591.0 238.3 L591.0 236.8 L590.0 236.8 L590.0 238.1 L589.0 238.1 L589.0 231.6 L588.0 231.6 L588.0 216.8 L587.0 216.8 L587.0 200.7 L586.0 200.7 L586.0 188.4 L585.0 188.4 L585.0 194.5 L584.0 194.5 L584.0 217.2 L583.0 217.2 L583.0 228.4 L582.0 228.4 L582.0 230.2 L581.0 230.2 L581.0 231.0 L580.0 231.0 L580.0 226.2 L579.0 226.2 L579.0 215.4 L578.0 215.4 L578.0 204.0 L577.0 204.0 L577.0 191.7 L576.0 191.7 L576.0 189.6 L575.0 189.6 L575.0 218.9 L574.0 218.9 L574.0 233.3 L573.0 233.3 L573.0 233.7 L572.0 233.7 L572.0 232.8 L571.0 232.8 L571.0 220.5 L570.0 220.5 L570.0 201.2 L569.0 201.2 L569.0 191.3 L568.0 191.3 L568.0 204.3 L567.0 204.3 L567.0 219.3 L566.0 219.3 L566.0 226.6 L565.0 226.6 L565.0 227.0 L564.0 227.0 L564.0 227.8 L563.0 227.8 L563.0 223.2 L562.0 223.2 L562.0 208.7 L561.0 208.7 L561.0 194.6 L560.0 194.6 L560.0 203.0 L559.0 203.0 L559.0 211.0 L558.0 211.0 L558.0 219.5 L557.0 219.5 L557.0 228.2 L556.0 228.2 L556.0 229.6 L555.0 229.6 L555.0 231.2 L554.0 231.2 L554.0 230.1 L553.0 230.1 L553.0 221.9 L552.0 221.9 L552.0 202.1 L551.0 202.1 L551.0 186.1 L550.0 186.1 L550.0 198.9 L549.0 198.9 L549.0 215.5 L548.0 215.5 L548.0 228.2 L547.0 228.2 L547.0 234.2 L546.0 234.2 L546.0 231.9 L545.0 231.9 L545.0 230.5 L544.0 230.5 L544.0 219.2 L543.0 219.2 L543.0 196.5 L542.0 196.5 L542.0 182.8 L541.0 182.8 L541.0 189.6 L540.0 189.6 L540.0 196.8 L539.0 196.8 L539.0 208.0 L538.0 208.0 L538.0 215.4 L537.0 215.4 L537.0 218.4 L536.0 218.4 L536.0 218.9 L535.0 218.9 L535.0 220.1 L534.0 220.1 L534.0 215.4 L533.0 215.4 L533.0 202.9 L532.0 202.9 L532.0 189.6 L531.0 189.6 L531.0 197.8 L530.0 197.8 L530.0 214.2 L529.0 214.2 L529.0 226.7 L528.0 226.7 L528.0 228.8 L527.0 228.8 L527.0 229.5 L526.0 229.5 L526.0 229.1 L525.0 229.1 L525.0 219.7 L524.0 219.7 L524.0 203.9 L523.0 203.9 L523.0 187.9 L522.0 187.9 L522.0 188.5 L521.0 188.5 L521.0 211.6 L520.0 211.6 L520.0 231.7 L519.0 231.7 L519.0 233.0 L518.0 233.0 L518.0 232.5 L517.0 232.5 L517.0 229.4 L516.0 229.4 L516.0 213.6 L515.0 213.6 L515.0 195.2 L514.0 195.2 L514.0 179.2 L513.0 179.2 L513.0 193.3 L512.0 193.3 L512.0 213.7 L511.0 213.7 L511.0 227.3 L510.0 227.3 L510.0 228.5 L509.0 228.5 L509.0 229.2 L508.0 229.2 L508.0 229.4 L507.0 229.4 L507.0 221.1 L506.0 221.1 L506.0 208.7 L505.0 208.7 L505.0 197.0 L504.0 197.0 L504.0 188.9 L503.0 188.9 L503.0 209.6 L502.0 209.6 L502.0 225.4 L501.0 225.4 L501.0 231.1 L500.0 231.1 L500.0 228.8 L499.0 228.8 L499.0 226.7 L498.0 226.7 L498.0 212.5 L497.0 212.5 L497.0 193.7 L496.0 193.7 L496.0 194.4 L495.0 194.4 L495.0 200.4 L494.0 200.4 L494.0 208.4 L493.0 208.4 L493.0 214.4 L492.0 214.4 L492.0 218.6 L491.0 218.6 L491.0 219.5 L490.0 219.5 L490.0 219.2 L489.0 219.2 L489.0 209.9 L488.0 209.9 L488.0 188.3 L487.0 188.3 L487.0 188.0 L486.0 188.0 L486.0 201.7 L485.0 201.7 L485.0 217.3 L484.0 217.3 L484.0 226.2 L483.0 226.2 L483.0 230.3 L482.0 230.3 L482.0 229.7 L481.0 229.7 L481.0 229.7 L480.0 229.7 L480.0 220.6 L479.0 220.6 L479.0 209.1 L478.0 209.1 L478.0 194.6 L477.0 194.6 L477.0 182.1 L476.0 182.1 L476.0 197.9 L475.0 197.9 L475.0 220.6 L474.0 220.6 L474.0 235.3 L473.0 235.3 L473.0 232.9 L472.0 232.9 L472.0 233.8 L471.0 233.8 L471.0 221.5 L470.0 221.5 L470.0 200.4 L469.0 200.4 L469.0 193.7 L468.0 193.7 L468.0 207.9 L467.0 207.9 L467.0 221.7 L466.0 221.7 L466.0 233.3 L465.0 233.3 L465.0 240.5 L464.0 240.5 L464.0 242.6 L463.0 242.6 L463.0 241.9 L462.0 241.9 L462.0 237.0 L461.0 237.0 L461.0 207.9 L460.0 207.9 L460.0 193.9 L459.0 193.9 L459.0 208.0 L458.0 208.0 L458.0 220.3 L457.0 220.3 L457.0 230.0 L456.0 230.0 L456.0 230.0 L455.0 230.0 L455.0 232.5 L454.0 232.5 L454.0 227.7 L453.0 227.7 L453.0 219.6 L452.0 219.6 L452.0 203.5 L451.0 203.5 L451.0 192.7 L450.0 192.7 L450.0 192.7 L449.0 192.7 L449.0 208.6 L448.0 208.6 L448.0 225.3 L447.0 225.3 L447.0 232.2 L446.0 232.2 L446.0 235.3 L445.0 235.3 L445.0 234.7 L444.0 234.7 L444.0 223.7 L443.0 223.7 L443.0 201.3 L442.0 201.3 L442.0 181.7 L441.0 181.7 L441.0 190.0 L440.0 190.0 L440.0 205.6 L439.0 205.6 L439.0 222.8 L438.0 222.8 L438.0 231.1 L437.0 231.1 L437.0 230.1 L436.0 230.1 L436.0 231.4 L435.0 231.4 L435.0 226.5 L434.0 226.5 L434.0 211.0 L433.0 211.0 L433.0 191.0 L432.0 191.0 L432.0 175.1 L431.0 175.1 L431.0 182.0 L430.0 182.0 L430.0 198.2 L429.0 198.2 L429.0 214.2 L428.0 214.2 L428.0 225.2 L427.0 225.2 L427.0 225.7 L426.0 225.7 L426.0 226.3 L425.0 226.3 L425.0 222.2 L424.0 222.2 L424.0 213.2 L423.0 213.2 L423.0 200.8 L422.0 200.8 L422.0 184.9 L421.0 184.9 L421.0 191.9 L420.0 191.9 L420.0 210.9 L419.0 210.9 L419.0 223.4 L418.0 223.4 L418.0 225.0 L417.0 225.0 L417.0 225.9 L416.0 225.9 L416.0 224.4 L415.0 224.4 L415.0 215.5 L414.0 215.5 L414.0 203.5 L413.0 203.5 L413.0 191.9 L412.0 191.9 L412.0 183.3 L411.0 183.3 L411.0 217.0 L410.0 217.0 L410.0 244.1 L409.0 244.1 L409.0 243.8 L408.0 243.8 L408.0 245.1 L407.0 245.1 L407.0 235.3 L406.0 235.3 L406.0 216.0 L405.0 216.0 L405.0 195.8 L404.0 195.8 L404.0 201.6 L403.0 201.6 L403.0 221.5 L402.0 221.5 L402.0 236.0 L401.0 236.0 L401.0 239.1 L400.0 239.1 L400.0 239.4 L399.0 239.4 L399.0 235.3 L398.0 235.3 L398.0 225.6 L397.0 225.6 L397.0 213.5 L396.0 213.5 L396.0 197.2 L395.0 197.2 L395.0 187.8 L394.0 187.8 L394.0 204.1 L393.0 204.1 L393.0 219.5 L392.0 219.5 L392.0 229.1 L391.0 229.1 L391.0 230.1 L390.0 230.1 L390.0 231.8 L389.0 231.8 L389.0 227.0 L388.0 227.0 L388.0 213.0 L387.0 213.0 L387.0 195.6 L386.0 195.6 L386.0 186.3 L385.0 186.3 L385.0 202.4 L384.0 202.4 L384.0 218.4 L383.0 218.4 L383.0 231.9 L382.0 231.9 L382.0 231.5 L381.0 231.5 L381.0 234.1 L380.0 234.1 L380.0 229.6 L379.0 229.6 L379.0 219.8 L378.0 219.8 L378.0 207.1 L377.0 207.1 L377.0 193.5 L376.0 193.5 L376.0 199.2 L375.0 199.2 L375.0 215.2 L374.0 215.2 L374.0 224.8 L373.0 224.8 L373.0 227.3 L372.0 227.3 L372.0 227.4 L371.0 227.4 L371.0 225.5 L370.0 225.5 L370.0 211.3 L369.0 211.3 L369.0 192.1 L368.0 192.1 L368.0 200.5 L367.0 200.5 L367.0 213.0 L366.0 213.0 L366.0 225.9 L365.0 225.9 L365.0 234.1 L364.0 234.1 L364.0 236.8 L363.0 236.8 L363.0 234.2 L362.0 234.2 L362.0 232.1 L361.0 232.1 L361.0 222.5 L360.0 222.5 L360.0 210.7 L359.0 210.7 L359.0 195.2 L358.0 195.2 L358.0 189.5 L357.0 189.5 L357.0 207.1 L356.0 207.1 L356.0 228.3 L355.0 228.3 L355.0 231.4 L354.0 231.4 L354.0 232.2 L353.0 232.2 L353.0 230.9 L352.0 230.9 L352.0 213.7 L351.0 213.7 L351.0 193.9 L350.0 193.9 L350.0 193.0 L349.0 193.0 L349.0 208.7 L348.0 208.7 L348.0 228.0 L347.0 228.0 L347.0 239.7 L346.0 239.7 L346.0 243.7 L345.0 243.7 L345.0 243.7 L344.0 243.7 L344.0 244.2 L343.0 244.2 L343.0 235.3 L342.0 235.3 L342.0 221.3 L341.0 221.3 L341.0 201.3 L340.0 201.3 L340.0 188.5 L339.0 188.5 L339.0 202.3 L338.0 202.3 L338.0 221.6 L337.0 221.6 L337.0 231.4 L336.0 231.4 L336.0 233.2 L335.0 233.2 L335.0 233.3 L334.0 233.3 L334.0 219.0 L333.0 219.0 L333.0 194.8 L332.0 194.8 L332.0 179.5 L331.0 179.5 L331.0 195.6 L330.0 195.6 L330.0 209.8 L329.0 209.8 L329.0 222.9 L328.0 222.9 L328.0 224.7 L327.0 224.7 L327.0 225.1 L326.0 225.1 L326.0 224.2 L325.0 224.2 L325.0 216.3 L324.0 216.3 L324.0 204.1 L323.0 204.1 L323.0 191.1 L322.0 191.1 L322.0 190.1 L321.0 190.1 L321.0 207.4 L320.0 207.4 L320.0 220.8 L319.0 220.8 L319.0 230.1 L318.0 230.1 L318.0 229.0 L317.0 229.0 L317.0 230.8 L316.0 230.8 L316.0 222.0 L315.0 222.0 L315.0 207.0 L314.0 207.0 L314.0 189.1 L313.0 189.1 L313.0 200.8 L312.0 200.8 L312.0 212.3 L311.0 212.3 L311.0 224.4 L310.0 224.4 L310.0 232.2 L309.0 232.2 L309.0 232.9 L308.0 232.9 L308.0 233.0 L307.0 233.0 L307.0 223.4 L306.0 223.4 L306.0 201.3 L305.0 201.3 L305.0 191.8 L304.0 191.8 L304.0 209.9 L303.0 209.9 L303.0 227.5 L302.0 227.5 L302.0 240.2 L301.0 240.2 L301.0 248.2 L300.0 248.2 L300.0 246.3 L299.0 246.3 L299.0 246.3 L298.0 246.3 L298.0 223.3 L297.0 223.3 L297.0 193.5 L296.0 193.5 L296.0 192.6 L295.0 192.6 L295.0 202.9 L294.0 202.9 L294.0 212.9 L293.0 212.9 L293.0 221.4 L292.0 221.4 L292.0 226.2 L291.0 226.2 L291.0 225.0 L290.0 225.0 L290.0 226.7 L289.0 226.7 L289.0 220.9 L288.0 220.9 L288.0 208.7 L287.0 208.7 L287.0 197.2 L286.0 197.2 L286.0 186.2 L285.0 186.2 L285.0 201.5 L284.0 201.5 L284.0 223.2 L283.0 223.2 L283.0 238.5 L282.0 238.5 L282.0 241.1 L281.0 241.1 L281.0 239.7 L280.0 239.7 L280.0 236.7 L279.0 236.7 L279.0 224.4 L278.0 224.4 L278.0 209.3 L277.0 209.3 L277.0 195.6 L276.0 195.6 L276.0 201.1 L275.0 201.1 L275.0 221.0 L274.0 221.0 L274.0 234.3 L273.0 234.3 L273.0 235.6 L272.0 235.6 L272.0 234.7 L271.0 234.7 L271.0 234.2 L270.0 234.2 L270.0 224.9 L269.0 224.9 L269.0 211.9 L268.0 211.9 L268.0 198.6 L267.0 198.6 L267.0 185.1 L266.0 185.1 L266.0 192.4 L265.0 192.4 L265.0 210.9 L264.0 210.9 L264.0 223.9 L263.0 223.9 L263.0 227.4 L262.0 227.4 L262.0 227.2 L261.0 227.2 L261.0 225.9 L260.0 225.9 L260.0 212.6 L259.0 212.6 L259.0 194.3 L258.0 194.3 L258.0 183.7 L257.0 183.7 L257.0 208.6 L256.0 208.6 L256.0 219.4 L255.0 219.4 L255.0 221.3 L254.0 221.3 L254.0 218.4 L253.0 218.4 L253.0 214.1 L252.0 214.1 L252.0 201.5 L251.0 201.5 L251.0 191.8 L250.0 191.8 L250.0 191.1 L249.0 191.1 L249.0 203.7 L248.0 203.7 L248.0 217.9 L247.0 217.9 L247.0 230.9 L246.0 230.9 L246.0 235.2 L245.0 235.2 L245.0 236.7 L244.0 236.7 L244.0 237.4 L243.0 237.4 L243.0 232.0 L242.0 232.0 L242.0 221.0 L241.0 221.0 L241.0 209.3 L240.0 209.3 L240.0 198.3 L239.0 198.3 L239.0 206.3 L238.0 206.3 L238.0 217.5 L237.0 217.5 L237.0 229.2 L236.0 229.2 L236.0 230.4 L235.0 230.4 L235.0 231.0 L234.0 231.0 L234.0 229.7 L233.0 229.7 L233.0 218.9 L232.0 218.9 L232.0 205.9 L231.0 205.9 L231.0 191.1 L230.0 191.1 L230.0 196.1 L229.0 196.1 L229.0 210.8 L228.0 210.8 L228.0 223.0 L227.0 223.0 L227.0 224.5 L226.0 224.5 L226.0 224.3 L225.0 224.3 L225.0 219.7 L224.0 219.7 L224.0 200.9 L223.0 200.9 L223.0 184.7 L222.0 184.7 L222.0 197.3 L221.0 197.3 L221.0 213.0 L220.0 213.0 L220.0 227.7 L219.0 227.7 L219.0 235.3 L218.0 235.3 L218.0 238.4 L217.0 238.4 L217.0 238.1 L216.0 238.1 L216.0 230.5 L215.0 230.5 L215.0 213.9 L214.0 213.9 L214.0 194.8 L213.0 194.8 L213.0 203.7 L212.0 203.7 L212.0 220.4 L211.0 220.4 L211.0 235.8 L210.0 235.8 L210.0 242.2 L209.0 242.2 L209.0 239.9 L208.0 239.9 L208.0 240.8 L207.0 240.8 L207.0 228.9 L206.0 228.9 L206.0 205.8 L205.0 205.8 L205.0 187.0 L204.0 187.0 L204.0 196.8 L203.0 196.8 L203.0 216.5 L202.0 216.5 L202.0 229.6 L201.0 229.6 L201.0 236.9 L200.0 236.9 L200.0 234.8 L199.0 234.8 L199.0 234.7 L198.0 234.7 L198.0 229.3 L197.0 229.3 L197.0 218.3 L196.0 218.3 L196.0 206.2 L195.0 206.2 L195.0 192.9 L194.0 192.9 L194.0 190.2 L193.0 190.2 L193.0 219.4 L192.0 219.4 L192.0 236.3 L191.0 236.3 L191.0 238.1 L190.0 238.1 L190.0 237.8 L189.0 237.8 L189.0 231.0 L188.0 231.0 L188.0 217.8 L187.0 217.8 L187.0 204.1 L186.0 204.1 L186.0 191.7 L185.0 191.7 L185.0 200.5 L184.0 200.5 L184.0 217.0 L183.0 217.0 L183.0 226.1 L182.0 226.1 L182.0 228.8 L181.0 228.8 L181.0 229.0 L180.0 229.0 L180.0 224.9 L179.0 224.9 L179.0 210.0 L178.0 210.0 L178.0 190.9 L177.0 190.9 L177.0 193.5 L176.0 193.5 L176.0 211.1 L175.0 211.1 L175.0 227.9 L174.0 227.9 L174.0 240.9 L173.0 240.9 L173.0 245.5 L172.0 245.5 L172.0 245.9 L171.0 245.9 L171.0 244.1 L170.0 244.1 L170.0 236.1 L169.0 236.1 L169.0 224.8 L168.0 224.8 L168.0 209.8 L167.0 209.8 L167.0 195.5 L166.0 195.5 L166.0 186.6 L165.0 186.6 L165.0 215.2 L164.0 215.2 L164.0 228.4 L163.0 228.4 L163.0 228.9 L162.0 228.9 L162.0 229.7 L161.0 229.7 L161.0 223.2 L160.0 223.2 L160.0 208.4 L159.0 208.4 L159.0 190.4 L158.0 190.4 L158.0 176.1 L157.0 176.1 L157.0 181.4 L156.0 181.4 L156.0 203.3 L155.0 203.3 L155.0 218.3 L154.0 218.3 L154.0 222.0 L153.0 222.0 L153.0 221.6 L152.0 221.6 L152.0 214.7 L151.0 214.7 L151.0 190.4 L150.0 190.4 L150.0 185.0 L149.0 185.0 L149.0 196.3 L148.0 196.3 L148.0 211.9 L147.0 211.9 L147.0 223.3 L146.0 223.3 L146.0 228.6 L145.0 228.6 L145.0 227.7 L144.0 227.7 L144.0 229.3 L143.0 229.3 L143.0 224.2 L142.0 224.2 L142.0 212.8 L141.0 212.8 L141.0 198.3 L140.0 198.3 L140.0 201.8 L139.0 201.8 L139.0 209.1 L138.0 209.1 L138.0 216.2 L137.0 216.2 L137.0 221.8 L136.0 221.8 L136.0 227.4 L135.0 227.4 L135.0 225.9 L134.0 225.9 L134.0 226.9 L133.0 226.9 L133.0 217.4 L132.0 217.4 L132.0 190.7 L131.0 190.7 L131.0 198.7 L130.0 198.7 L130.0 210.7 L129.0 210.7 L129.0 221.7 L128.0 221.7 L128.0 227.0 L127.0 227.0 L127.0 227.4 L126.0 227.4 L126.0 226.4 L125.0 226.4Z" fill="#1f77b4"/>
<path d="M125.0 297.7 L126.0 297.7 L126.0 297.7 L127.0 297.7 L127.0 297.7 L128.0 297.7 L128.0 300.5 L129.0 300.5 L129.0 300.5 L130.0 300.5 L130.0 306.1 L131.0 306.1 L131.0 292.8 L132.0 292.8 L132.0 292.8 L133.0 292.8 L133.0 293.5 L134.0 293.5 L134.0 294.2 L135.0 294.2 L135.0 294.2 L136.0 294.2 L136.0 294.2 L137.0 294.2 L137.0 300.5 L138.0 300.5 L138.0 306.8 L139.0 306.8 L139.0 306.8 L140.0 306.8 L140.0 296.3 L141.0 296.3 L141.0 296.3 L142.0 296.3 L142.0 299.1 L143.0 299.1 L143.0 301.9 L144.0 301.9 L144.0 297.7 L145.0 297.7 L145.0 297.7 L146.0 297.7 L146.0 297.7 L147.0 297.7 L147.0 297.7 L148.0 297.7 L148.0 297.7 L149.0 297.7 L149.0 297.7 L150.0 297.7 L150.0 297.7 L151.0 297.7 L151.0 291.4 L152.0 291.4 L152.0 291.4 L153.0 291.4 L153.0 291.4 L154.0 291.4 L154.0 294.5 L155.0 294.5 L155.0 297.7 L156.0 297.7 L156.0 297.7 L157.0 297.7 L157.0 297.7 L158.0 297.7 L158.0 297.7 L159.0 297.7 L159.0 297.7 L160.0 297.7 L160.0 295.6 L161.0 295.6 L161.0 293.5 L162.0 293.5 L162.0 293.5 L163.0 293.5 L163.0 297.0 L164.0 297.0 L164.0 297.0 L165.0 297.0 L165.0 297.0 L166.0 297.0 L166.0 297.0 L167.0 297.0 L167.0 297.0 L168.0 297.0 L168.0 297.0 L169.0 297.0 L169.0 297.0 L170.0 297.0 L170.0 297.7 L171.0 297.7 L171.0 298.4 L172.0 298.4 L172.0 298.4 L173.0 298.4 L173.0 301.2 L174.0 301.2 L174.0 295.6 L175.0 295.6 L175.0 295.6 L176.0 295.6 L176.0 295.6 L177.0 295.6 L177.0 295.6 L178.0 295.6 L178.0 295.6 L179.0 295.6 L179.0 299.1 L180.0 299.1 L180.0 299.1 L181.0 299.1 L181.0 294.9 L182.0 294.9 L182.0 290.7 L183.0 290.7 L183.0 290.7 L184.0 290.7 L184.0 293.5 L185.0 293.5 L185.0 296.3 L186.0 296.3 L186.0 299.1 L187.0 299.1 L187.0 299.1 L188.0 299.1 L188.0 299.1 L189.0 299.1 L189.0 299.1 L190.0 299.1 L190.0 295.2 L191.0 295.2 L191.0 291.4 L192.0 291.4 L192.0 291.4 L193.0 291.4 L193.0 295.9 L194.0 295.9 L194.0 300.5 L195.0 300.5 L195.0 300.5 L196.0 300.5 L196.0 300.5 L197.0 300.5 L197.0 298.1 L198.0 298.1 L198.0 295.6 L199.0 295.6 L199.0 295.6 L200.0 295.6 L200.0 295.6 L201.0 295.6 L201.0 295.6 L202.0 295.6 L202.0 294.7 L203.0 294.7 L203.0 293.7 L204.0 293.7 L204.0 292.8 L205.0 292.8 L205.0 292.8 L206.0 292.8 L206.0 294.9 L207.0 294.9 L207.0 297.0 L208.0 297.0 L208.0 297.0 L209.0 297.0 L209.0 297.0 L210.0 297.0 L210.0 297.0 L211.0 297.0 L211.0 297.0 L212.0 297.0 L212.0 303.3 L213.0 303.3 L213.0 303.3 L214.0 303.3 L214.0 298.4 L215.0 298.4 L215.0 298.4 L216.0 298.4 L216.0 298.4 L217.0 298.4 L217.0 294.5 L218.0 294.5 L218.0 290.7 L219.0 290.7 L219.0 290.7 L220.0 290.7 L220.0 290.7 L221.0 290.7 L221.0 293.9 L222.0 293.9 L222.0 297.0 L223.0 297.0 L223.0 297.0 L224.0 297.0 L224.0 297.0 L225.0 297.0 L225.0 297.0 L226.0 297.0 L226.0 299.8 L227.0 299.8 L227.0 299.8 L228.0 299.8 L228.0 299.8 L229.0 299.8 L229.0 299.8 L230.0 299.8 L230.0 299.8 L231.0 299.8 L231.0 298.4 L232.0 298.4 L232.0 297.0 L233.0 297.0 L233.0 297.0 L234.0 297.0 L234.0 297.0 L235.0 297.0 L235.0 297.0 L236.0 297.0 L236.0 293.5 L237.0 293.5 L237.0 290.0 L238.0 290.0 L238.0 290.0 L239.0 290.0 L239.0 301.2 L240.0 301.2 L240.0 301.2 L241.0 301.2 L241.0 294.9 L242.0 294.9 L242.0 294.9 L243.0 294.9 L243.0 294.9 L244.0 294.9 L244.0 293.9 L245.0 293.9 L245.0 292.8 L246.0 292.8 L246.0 292.8 L247.0 292.8 L247.0 292.8 L248.0 292.8 L248.0 295.6 L249.0 295.6 L249.0 298.4 L250.0 298.4 L250.0 298.4 L251.0 298.4 L251.0 298.4 L252.0 298.4 L252.0 298.4 L253.0 298.4 L253.0 290.0 L254.0 290.0 L254.0 290.0 L255.0 290.0 L255.0 290.0 L256.0 290.0 L256.0 290.0 L257.0 290.0 L257.0 294.2 L258.0 294.2 L258.0 298.4 L259.0 298.4 L259.0 298.4 L260.0 298.4 L260.0 298.4 L261.0 298.4 L261.0 294.2 L262.0 294.2 L262.0 290.0 L263.0 290.0 L263.0 290.0 L264.0 290.0 L264.0 290.0 L265.0 290.0 L265.0 290.0 L266.0 290.0 L266.0 290.0 L267.0 290.0 L267.0 294.2 L268.0 294.2 L268.0 294.2 L269.0 294.2 L269.0 294.2 L270.0 294.2 L270.0 296.6 L271.0 296.6 L271.0 299.1 L272.0 299.1 L272.0 299.1 L273.0 299.1 L273.0 297.7 L274.0 297.7 L274.0 297.7 L275.0 297.7 L275.0 297.7 L276.0 297.7 L276.0 296.3 L277.0 296.3 L277.0 294.9 L278.0 294.9 L278.0 294.9 L279.0 294.9 L279.0 296.6 L280.0 296.6 L280.0 298.4 L281.0 298.4 L281.0 298.4 L282.0 298.4 L282.0 294.9 L283.0 294.9 L283.0 294.9 L284.0 294.9 L284.0 294.9 L285.0 294.9 L285.0 294.9 L286.0 294.9 L286.0 288.6 L287.0 288.6 L287.0 288.6 L288.0 288.6 L288.0 292.8 L289.0 292.8 L289.0 297.0 L290.0 297.0 L290.0 297.0 L291.0 297.0 L291.0 297.0 L292.0 297.0 L292.0 297.0 L293.0 297.0 L293.0 297.0 L294.0 297.0 L294.0 297.0 L295.0 297.0 L295.0 297.0 L296.0 297.0 L296.0 297.0 L297.0 297.0 L297.0 293.5 L298.0 293.5 L298.0 293.5 L299.0 293.5 L299.0 293.1 L300.0 293.1 L300.0 292.8 L301.0 292.8 L301.0 292.8 L302.0 292.8 L302.0 292.8 L303.0 292.8 L303.0 294.9 L304.0 294.9 L304.0 297.0 L305.0 297.0 L305.0 297.0 L306.0 297.0 L306.0 297.0 L307.0 297.0 L307.0 297.0 L308.0 297.0 L308.0 297.0 L309.0 297.0 L309.0 297.0 L310.0 297.0 L310.0 297.0 L311.0 297.0 L311.0 295.2 L312.0 295.2 L312.0 293.5 L313.0 293.5 L313.0 293.5 L314.0 293.5 L314.0 293.5 L315.0 293.5 L315.0 293.5 L316.0 293.5 L316.0 295.9 L317.0 295.9 L317.0 298.4 L318.0 298.4 L318.0 298.4 L319.0 298.4 L319.0 292.8 L320.0 292.8 L320.0 292.8 L321.0 292.8 L321.0 292.8 L322.0 292.8 L322.0 293.9 L323.0 293.9 L323.0 294.9 L324.0 294.9 L324.0 294.9 L325.0 294.9 L325.0 296.3 L326.0 296.3 L326.0 296.3 L327.0 296.3 L327.0 296.3 L328.0 296.3 L328.0 294.9 L329.0 294.9 L329.0 293.5 L330.0 293.5 L330.0 293.5 L331.0 293.5 L331.0 293.5 L332.0 293.5 L332.0 297.0 L333.0 297.0 L333.0 297.0 L334.0 297.0 L334.0 297.0 L335.0 297.0 L335.0 297.0 L336.0 297.0 L336.0 297.0 L337.0 297.0 L337.0 296.3 L338.0 296.3 L338.0 296.3 L339.0 296.3 L339.0 296.3 L340.0 296.3 L340.0 297.7 L341.0 297.7 L341.0 299.1 L342.0 299.1 L342.0 299.1 L343.0 299.1 L343.0 299.1 L344.0 299.1 L344.0 299.1 L345.0 299.1 L345.0 295.6 L346.0 295.6 L346.0 292.1 L347.0 292.1 L347.0 292.1 L348.0 292.1 L348.0 296.0 L349.0 296.0 L349.0 299.8 L350.0 299.8 L350.0 293.5 L351.0 293.5 L351.0 293.5 L352.0 293.5 L352.0 293.5 L353.0 293.5 L353.0 296.3 L354.0 296.3 L354.0 296.3 L355.0 296.3 L355.0 296.3 L356.0 296.3 L356.0 296.3 L357.0 296.3 L357.0 295.4 L358.0 295.4 L358.0 294.4 L359.0 294.4 L359.0 293.5 L360.0 293.5 L360.0 293.5 L361.0 293.5 L361.0 297.4 L362.0 297.4 L362.0 301.2 L363.0 301.2 L363.0 301.2 L364.0 301.2 L364.0 297.7 L365.0 297.7 L365.0 297.7 L366.0 297.7 L366.0 299.8 L367.0 299.8 L367.0 301.9 L368.0 301.9 L368.0 301.9 L369.0 301.9 L369.0 292.1 L370.0 292.1 L370.0 292.1 L371.0 292.1 L371.0 294.6 L372.0 294.6 L372.0 297.0 L373.0 297.0 L373.0 297.0 L374.0 297.0 L374.0 297.0 L375.0 297.0 L375.0 297.0 L376.0 297.0 L376.0 297.0 L377.0 297.0 L377.0 298.4 L378.0 298.4 L378.0 299.8 L379.0 299.8 L379.0 299.8 L380.0 299.8 L380.0 299.8 L381.0 299.8 L381.0 292.1 L382.0 292.1 L382.0 292.1 L383.0 292.1 L383.0 292.1 L384.0 292.1 L384.0 295.6 L385.0 295.6 L385.0 295.6 L386.0 295.6 L386.0 292.8 L387.0 292.8 L387.0 290.0 L388.0 290.0 L388.0 290.0 L389.0 290.0 L389.0 292.1 L390.0 292.1 L390.0 294.2 L391.0 294.2 L391.0 294.2 L392.0 294.2 L392.0 294.2 L393.0 294.2 L393.0 294.2 L394.0 294.2 L394.0 295.2 L395.0 295.2 L395.0 296.3 L396.0 296.3 L396.0 296.3 L397.0 296.3 L397.0 296.3 L398.0 296.3 L398.0 297.7 L399.0 297.7 L399.0 299.1 L400.0 299.1 L400.0 299.1 L401.0 299.1 L401.0 293.5 L402.0 293.5 L402.0 293.5 L403.0 293.5 L403.0 292.1 L404.0 292.1 L404.0 290.7 L405.0 290.7 L405.0 290.7 L406.0 290.7 L406.0 290.7 L407.0 290.7 L407.0 299.1 L408.0 299.1 L408.0 299.1 L409.0 299.1 L409.0 295.6 L410.0 295.6 L410.0 292.1 L411.0 292.1 L411.0 292.1 L412.0 292.1 L412.0 292.1 L413.0 292.1 L413.0 296.3 L414.0 296.3 L414.0 300.5 L415.0 300.5 L415.0 300.5 L416.0 300.5 L416.0 296.3 L417.0 296.3 L417.0 292.1 L418.0 292.1 L418.0 292.1 L419.0 292.1 L419.0 292.1 L420.0 292.1 L420.0 292.1 L421.0 292.1 L421.0 292.1 L422.0 292.1 L422.0 292.8 L423.0 292.8 L423.0 293.5 L424.0 293.5 L424.0 292.8 L425.0 292.8 L425.0 292.8 L426.0 292.8 L426.0 293.1 L427.0 293.1 L427.0 293.5 L428.0 293.5 L428.0 293.5 L429.0 293.5 L429.0 293.5 L430.0 293.5 L430.0 293.5 L431.0 293.5 L431.0 293.5 L432.0 293.5 L432.0 292.8 L433.0 292.8 L433.0 292.8 L434.0 292.8 L434.0 292.8 L435.0 292.8 L435.0 294.9 L436.0 294.9 L436.0 294.9 L437.0 294.9 L437.0 294.9 L438.0 294.9 L438.0 294.9 L439.0 294.9 L439.0 294.9 L440.0 294.9 L440.0 293.5 L441.0 293.5 L441.0 292.1 L442.0 292.1 L442.0 292.1 L443.0 292.1 L443.0 292.1 L444.0 292.1 L444.0 296.3 L445.0 296.3 L445.0 296.3 L446.0 296.3 L446.0 296.3 L447.0 296.3 L447.0 296.3 L448.0 296.3 L448.0 296.3 L449.0 296.3 L449.0 296.3 L450.0 296.3 L450.0 290.7 L451.0 290.7 L451.0 290.7 L452.0 290.7 L452.0 290.7 L453.0 290.7 L453.0 297.0 L454.0 297.0 L454.0 297.0 L455.0 297.0 L455.0 297.0 L456.0 297.0 L456.0 295.9 L457.0 295.9 L457.0 294.9 L458.0 294.9 L458.0 294.9 L459.0 294.9 L459.0 294.9 L460.0 294.9 L460.0 294.9 L461.0 294.9 L461.0 294.9 L462.0 294.9 L462.0 294.9 L463.0 294.9 L463.0 294.9 L464.0 294.9 L464.0 294.9 L465.0 294.9 L465.0 292.1 L466.0 292.1 L466.0 292.1 L467.0 292.1 L467.0 301.9 L468.0 301.9 L468.0 301.9 L469.0 301.9 L469.0 297.7 L470.0 297.7 L470.0 297.7 L471.0 297.7 L471.0 297.7 L472.0 297.7 L472.0 297.7 L473.0 297.7 L473.0 297.7 L474.0 297.7 L474.0 292.8 L475.0 292.8 L475.0 292.8 L476.0 292.8 L476.0 295.6 L477.0 295.6 L477.0 298.4 L478.0 298.4 L478.0 298.4 L479.0 298.4 L479.0 298.4 L480.0 298.4 L480.0 298.4 L481.0 298.4 L481.0 297.0 L482.0 297.0 L482.0 295.6 L483.0 295.6 L483.0 295.6 L484.0 295.6 L484.0 298.4 L485.0 298.4 L485.0 301.2 L486.0 301.2 L486.0 301.2 L487.0 301.2 L487.0 297.0 L488.0 297.0 L488.0 297.0 L489.0 297.0 L489.0 297.0 L490.0 297.0 L490.0 297.0 L491.0 297.0 L491.0 293.5 L492.0 293.5 L492.0 290.0 L493.0 290.0 L493.0 290.0 L494.0 290.0 L494.0 295.6 L495.0 295.6 L495.0 301.2 L496.0 301.2 L496.0 301.2 L497.0 301.2 L497.0 297.0 L498.0 297.0 L498.0 297.0 L499.0 297.0 L499.0 297.0 L500.0 297.0 L500.0 293.5 L501.0 293.5 L501.0 293.5 L502.0 293.5 L502.0 294.9 L503.0 294.9 L503.0 294.9 L504.0 294.9 L504.0 294.9 L505.0 294.9 L505.0 294.9 L506.0 294.9 L506.0 294.9 L507.0 294.9 L507.0 295.9 L508.0 295.9 L508.0 297.0 L509.0 297.0 L509.0 297.0 L510.0 297.0 L510.0 297.0 L511.0 297.0 L511.0 297.0 L512.0 297.0 L512.0 297.0 L513.0 297.0 L513.0 297.0 L514.0 297.0 L514.0 295.6 L515.0 295.6 L515.0 295.6 L516.0 295.6 L516.0 295.6 L517.0 295.6 L517.0 294.9 L518.0 294.9 L518.0 294.2 L519.0 294.2 L519.0 294.2 L520.0 294.2 L520.0 294.2 L521.0 294.2 L521.0 292.8 L522.0 292.8 L522.0 292.8 L523.0 292.8 L523.0 292.8 L524.0 292.8 L524.0 292.1 L525.0 292.1 L525.0 292.1 L526.0 292.1 L526.0 293.9 L527.0 293.9 L527.0 295.6 L528.0 295.6 L528.0 295.6 L529.0 295.6 L529.0 295.6 L530.0 295.6 L530.0 295.6 L531.0 295.6 L531.0 295.6 L532.0 295.6 L532.0 298.4 L533.0 298.4 L533.0 298.4 L534.0 298.4 L534.0 298.4 L535.0 298.4 L535.0 298.4 L536.0 298.4 L536.0 298.4 L537.0 298.4 L537.0 287.2 L538.0 287.2 L538.0 287.2 L539.0 287.2 L539.0 298.4 L540.0 298.4 L540.0 298.4 L541.0 298.4 L541.0 298.4 L542.0 298.4 L542.0 298.4 L543.0 298.4 L543.0 298.4 L544.0 298.4 L544.0 298.4 L545.0 298.4 L545.0 298.4 L546.0 298.4 L546.0 298.0 L547.0 298.0 L547.0 297.7 L548.0 297.7 L548.0 297.7 L549.0 297.7 L549.0 297.7 L550.0 297.7 L550.0 297.7 L551.0 297.7 L551.0 294.9 L552.0 294.9 L552.0 294.9 L553.0 294.9 L553.0 294.9 L554.0 294.9 L554.0 294.9 L555.0 294.9 L555.0 294.9 L556.0 294.9 L556.0 299.8 L557.0 299.8 L557.0 299.8 L558.0 299.8 L558.0 297.0 L559.0 297.0 L559.0 297.0 L560.0 297.0 L560.0 297.0 L561.0 297.0 L561.0 298.4 L562.0 298.4 L562.0 299.8 L563.0 299.8 L563.0 299.8 L564.0 299.8 L564.0 297.0 L565.0 297.0 L565.0 297.0 L566.0 297.0 L566.0 297.0 L567.0 297.0 L567.0 297.0 L568.0 297.0 L568.0 295.9 L569.0 295.9 L569.0 294.9 L570.0 294.9 L570.0 294.9 L571.0 294.9 L571.0 294.9 L572.0 294.9 L572.0 293.3 L573.0 293.3 L573.0 291.6 L574.0 291.6 L574.0 290.0 L575.0 290.0 L575.0 290.0 L576.0 290.0 L576.0 295.2 L577.0 295.2 L577.0 300.5 L578.0 300.5 L578.0 300.5 L579.0 300.5 L579.0 294.2 L580.0 294.2 L580.0 294.2 L581.0 294.2 L581.0 294.2 L582.0 294.2 L582.0 294.2 L583.0 294.2 L583.0 291.8 L584.0 291.8 L584.0 289.3 L585.0 289.3 L585.0 289.3 L586.0 289.3 L586.0 295.6 L587.0 295.6 L587.0 295.6 L588.0 295.6 L588.0 295.6 L589.0 295.6 L589.0 295.6 L590.0 295.6 L590.0 295.6 L591.0 295.6 L591.0 295.6 L592.0 295.6 L592.0 295.6 L593.0 295.6 L593.0 295.6 L594.0 295.6 L594.0 298.1 L595.0 298.1 L595.0 300.5 L596.0 300.5 L596.0 292.8 L597.0 292.8 L597.0 292.8 L598.0 292.8 L598.0 292.8 L599.0 292.8 L599.0 294.2 L600.0 294.2 L600.0 295.6 L601.0 295.6 L601.0 295.6 L602.0 295.6 L602.0 295.6 L603.0 295.6 L603.0 298.8 L604.0 298.8 L604.0 301.9 L605.0 301.9 L605.0 285.8 L606.0 285.8 L606.0 285.8 L607.0 285.8 L607.0 291.8 L608.0 291.8 L608.0 297.7 L609.0 297.7 L609.0 297.7 L610.0 297.7 L610.0 297.7 L611.0 297.7 L611.0 297.7 L612.0 297.7 L612.0 297.7 L613.0 297.7 L613.0 297.7 L614.0 297.7 L614.0 292.8 L615.0 292.8 L615.0 292.8 L616.0 292.8 L616.0 296.0 L617.0 296.0 L617.0 299.1 L618.0 299.1 L618.0 299.1 L619.0 299.1 L619.0 299.1 L620.0 299.1 L620.0 297.7 L621.0 297.7 L621.0 296.3 L622.0 296.3 L622.0 296.3 L623.0 296.3 L623.0 296.3 L624.0 296.3 L624.0 294.2 L625.0 294.2 L625.0 294.2 L626.0 294.2 L626.0 294.2 L627.0 294.2 L627.0 294.5 L628.0 294.5 L628.0 294.9 L629.0 294.9 L629.0 294.9 L630.0 294.9 L630.0 294.9 L631.0 294.9 L631.0 294.9 L632.0 294.9 L632.0 292.8 L633.0 292.8 L633.0 292.8 L634.0 292.8 L634.0 292.8 L635.0 292.8 L635.0 293.1 L636.0 293.1 L636.0 293.5 L637.0 293.5 L637.0 293.5 L638.0 293.5 L638.0 293.5 L639.0 293.5 L639.0 292.8 L640.0 292.8 L640.0 292.1 L641.0 292.1 L641.0 292.1 L642.0 292.1 L642.0 292.1 L643.0 292.1 L643.0 292.1 L644.0 292.1 L644.0 292.1 L645.0 292.1 L645.0 292.5 L646.0 292.5 L646.0 292.8 L647.0 292.8 L647.0 292.8 L648.0 292.8 L648.0 292.8 L649.0 292.8 L649.0 297.4 L650.0 297.4 L650.0 301.9 L651.0 301.9 L651.0 294.2 L652.0 294.2 L652.0 294.2 L653.0 294.2 L653.0 294.2 L654.0 294.2 L654.0 294.2 L655.0 294.2 L655.0 294.2 L656.0 294.2 L656.0 290.0 L657.0 290.0 L657.0 290.0 L658.0 290.0 L658.0 292.4 L659.0 292.4 L659.0 294.9 L660.0 294.9 L660.0 294.9 L661.0 294.9 L661.0 294.9 L662.0 294.9 L662.0 294.9 L663.0 294.9 L663.0 294.9 L664.0 294.9 L664.0 294.2 L665.0 294.2 L665.0 293.5 L666.0 293.5 L666.0 293.5 L667.0 293.5 L667.0 299.8 L668.0 299.8 L668.0 299.8 L669.0 299.8 L669.0 296.0 L670.0 296.0 L670.0 292.1 L671.0 292.1 L671.0 292.1 L672.0 292.1 L672.0 301.9 L673.0 301.9 L673.0 301.9 L674.0 301.9 L674.0 299.1 L675.0 299.1 L675.0 299.1 L676.0 299.1 L676.0 299.1 L677.0 299.1 L677.0 296.0 L678.0 296.0 L678.0 292.8 L679.0 292.8 L679.0 292.8 L680.0 292.8 L680.0 292.8 L681.0 292.8 L681.0 300.5 L682.0 300.5 L682.0 300.5 L683.0 300.5 L683.0 297.7 L684.0 297.7 L684.0 294.9 L685.0 294.9 L685.0 294.9 L686.0 294.9 L686.0 294.2 L687.0 294.2 L687.0 293.5 L688.0 293.5 L688.0 293.5 L689.0 293.5 L689.0 294.9 L690.0 294.9 L690.0 296.3 L691.0 296.3 L691.0 296.3 L692.0 296.3 L692.0 296.3 L693.0 296.3 L693.0 289.3 L694.0 289.3 L694.0 289.3 L695.0 289.3 L695.0 292.8 L696.0 292.8 L696.0 296.3 L697.0 296.3 L697.0 296.3 L698.0 296.3 L698.0 296.3 L699.0 296.3 L699.0 296.3 L700.0 296.3 L700.0 296.3 L701.0 296.3 L701.0 296.3 L702.0 296.3 L702.0 296.3 L703.0 296.3 L703.0 296.3 L704.0 296.3 L704.0 293.5 L705.0 293.5 L705.0 290.7 L706.0 290.7 L706.0 290.7 L707.0 290.7 L707.0 290.7 L708.0 290.7 L708.0 293.9 L709.0 293.9 L709.0 297.0 L710.0 297.0 L710.0 297.0 L711.0 297.0 L711.0 290.0 L712.0 290.0 L712.0 290.0 L713.0 290.0 L713.0 290.0 L714.0 290.0 L714.0 294.9 L715.0 294.9 L715.0 294.9 L716.0 294.9 L716.0 294.9 L717.0 294.9 L717.0 294.9 L718.0 294.9 L718.0 294.9 L719.0 294.9 L719.0 290.7 L720.0 290.7 L720.0 286.5 L721.0 286.5 L721.0 286.5 L722.0 286.5 L722.0 290.0 L723.0 290.0 L723.0 293.5 L724.0 293.5 L724.0 292.1 L725.0 292.1 L725.0 292.1 L726.0 292.1 L726.0 296.3 L727.0 296.3 L727.0 300.5 L728.0 300.5 L728.0 300.5 L729.0 300.5 L729.0 292.1 L730.0 292.1 L730.0 292.1 L731.0 292.1 L731.0 296.3 L732.0 296.3 L732.0 300.5 L733.0 300.5 L733.0 294.9 L734.0 294.9 L734.0 294.9 L735.0 294.9 L735.0 294.9 L736.0 294.9 L736.0 294.9 L737.0 294.9 L737.0 291.8 L738.0 291.8 L738.0 288.6 L739.0 288.6 L739.0 288.6 L740.0 288.6 L740.0 293.1 L741.0 293.1 L741.0 297.7 L742.0 297.7 L742.0 297.7 L743.0 297.7 L743.0 297.7 L744.0 297.7 L744.0 297.7 L745.0 297.7 L745.0 297.7 L746.0 297.7 L746.0 295.9 L747.0 295.9 L747.0 294.2 L748.0 294.2 L748.0 294.2 L749.0 294.2 L749.0 298.4 L750.0 298.4 L750.0 302.6 L751.0 302.6 L751.0 294.2 L752.0 294.2 L752.0 294.2 L753.0 294.2 L753.0 294.2 L754.0 294.2 L754.0 294.2 L755.0 294.2 L755.0 294.2 L756.0 294.2 L756.0 294.2 L757.0 294.2 L757.0 294.2 L758.0 294.2 L758.0 294.2 L759.0 294.2 L759.0 293.1 L760.0 293.1 L760.0 292.1 L761.0 292.1 L761.0 292.1 L762.0 292.1 L762.0 292.1 L763.0 292.1 L763.0 292.1 L764.0 292.1 L764.0 293.9 L765.0 293.9 L765.0 295.6 L766.0 295.6 L766.0 295.6 L767.0 295.6 L767.0 295.6 L768.0 295.6 L768.0 295.6 L769.0 295.6 L769.0 287.2 L770.0 287.2 L770.0 287.2 L771.0 287.2 L771.0 287.2 L772.0 287.2 L772.0 299.1 L773.0 299.1 L773.0 299.1 L774.0 299.1 L774.0 295.6 L775.0 295.6 L775.0 295.6 L776.0 295.6 L776.0 295.6 L777.0 295.6 L777.0 295.6 L778.0 295.6 L778.0 294.9 L779.0 294.9 L779.0 294.2 L780.0 294.2 L780.0 294.2 L781.0 294.2 L781.0 301.9 L782.0 301.9 L782.0 301.9 L783.0 301.9 L783.0 292.1 L784.0 292.1 L784.0 292.1 L785.0 292.1 L785.0 292.1 L786.0 292.1 L786.0 296.0 L787.0 296.0 L787.0 299.8 L788.0 299.8 L788.0 299.8 L789.0 299.8 L789.0 299.8 L790.0 299.8 L790.0 297.0 L791.0 297.0 L791.0 294.2 L792.0 294.2 L792.0 294.2 L793.0 294.2 L793.0 294.2 L794.0 294.2 L794.0 294.2 L795.0 294.2 L795.0 294.2 L796.0 294.2 L796.0 294.2 L797.0 294.2 L797.0 294.2 L798.0 294.2 L798.0 296.3 L799.0 296.3 L799.0 298.4 L800.0 298.4 L800.0 298.4 L801.0 298.4 L801.0 293.5 L802.0 293.5 L802.0 293.5 L803.0 293.5 L803.0 293.5 L804.0 293.5 L804.0 293.5 L805.0 293.5 L805.0 293.5 L806.0 293.5 L806.0 293.5 L807.0 293.5 L807.0 293.5 L808.0 293.5 L808.0 290.0 L809.0 290.0 L809.0 286.5 L810.0 286.5 L810.0 286.5 L811.0 286.5 L811.0 286.5 L812.0 286.5 L812.0 289.3 L813.0 289.3 L813.0 289.3 L814.0 289.3 L814.0 289.3 L815.0 289.3 L815.0 290.4 L816.0 290.4 L816.0 291.4 L817.0 291.4 L817.0 291.4 L818.0 291.4 L818.0 297.0 L819.0 297.0 L819.0 291.4 L820.0 291.4 L820.0 290.0 L821.0 290.0 L821.0 290.0 L822.0 290.0 L822.0 290.0 L823.0 290.0 L823.0 290.0 L824.0 290.0 L824.0 285.1 L825.0 285.1 L825.0 285.1 L826.0 285.1 L826.0 287.6 L827.0 287.6 L827.0 290.0 L828.0 290.0 L828.0 290.0 L829.0 290.0 L829.0 290.0 L830.0 290.0 L830.0 290.0 L831.0 290.0 L831.0 290.0 L832.0 290.0 L832.0 292.1 L833.0 292.1 L833.0 294.2 L834.0 294.2 L834.0 294.2 L835.0 294.2 L835.0 294.2 L836.0 294.2 L836.0 292.1 L837.0 292.1 L837.0 290.0 L838.0 290.0 L838.0 290.0 L839.0 290.0 L839.0 290.0 L840.0 290.0 L840.0 297.0 L841.0 297.0 L841.0 297.0 L842.0 297.0 L842.0 295.2 L843.0 295.2 L843.0 293.5 L844.0 293.5 L844.0 293.5 L845.0 293.5 L845.0 293.5 L846.0 293.5 L846.0 293.5 L847.0 293.5 L847.0 293.5 L848.0 293.5 L848.0 293.5 L849.0 293.5 L849.0 295.6 L850.0 295.6 L850.0 297.7 L851.0 297.7 L851.0 297.7 L852.0 297.7 L852.0 292.1 L853.0 292.1 L853.0 292.1 L854.0 292.1 L854.0 296.3 L855.0 296.3 L855.0 296.3 L856.0 296.3 L856.0 296.3 L857.0 296.3 L857.0 296.3 L858.0 296.3 L858.0 298.4 L859.0 298.4 L859.0 300.5 L860.0 300.5 L860.0 295.6 L861.0 295.6 L861.0 295.6 L862.0 295.6 L862.0 295.6 L863.0 295.6 L863.0 295.6 L864.0 295.6 L864.0 295.6 L865.0 295.6 L865.0 291.4 L866.0 291.4 L866.0 291.4 L867.0 291.4 L867.0 291.4 L868.0 291.4 L868.0 291.4 L869.0 291.4 L869.0 291.4 L870.0 291.4 L870.0 288.6 L871.0 288.6 L871.0 288.6 L872.0 288.6 L872.0 292.8 L873.0 292.8 L873.0 292.8 L874.0 292.8 L874.0 292.8 L875.0 292.8 L875.0 292.8 L876.0 292.8 L876.0 290.0 L877.0 290.0 L877.0 290.0 L878.0 290.0 L878.0 292.4 L879.0 292.4 L879.0 294.9 L880.0 294.9 L880.0 294.9 L881.0 294.9 L881.0 294.9 L882.0 294.9 L882.0 294.9 L883.0 294.9 L883.0 294.5 L884.0 294.5 L884.0 294.2 L885.0 294.2 L885.0 294.2 L886.0 294.2 L886.0 294.2 L887.0 294.2 L887.0 290.4 L888.0 290.4 L888.0 286.5 L889.0 286.5 L889.0 286.5 L890.0 286.5 L890.0 291.1 L891.0 291.1 L891.0 295.6 L892.0 295.6 L892.0 295.6 L893.0 295.6 L893.0 293.9 L894.0 293.9 L894.0 292.1 L895.0 292.1 L895.0 292.1 L896.0 292.1 L896.0 301.2 L897.0 301.2 L897.0 301.2 L898.0 301.2 L898.0 292.8 L899.0 292.8 L899.0 292.8 L900.0 292.8 L900.0 346.0 L899.0 346.0 L899.0 346.0 L898.0 346.0 L898.0 354.4 L897.0 354.4 L897.0 354.4 L896.0 354.4 L896.0 354.4 L895.0 354.4 L895.0 354.4 L894.0 354.4 L894.0 354.4 L893.0 354.4 L893.0 362.8 L892.0 362.8 L892.0 362.8 L891.0 362.8 L891.0 356.5 L890.0 356.5 L890.0 350.2 L889.0 350.2 L889.0 350.2 L888.0 350.2 L888.0 363.5 L887.0 363.5 L887.0 376.8 L886.0 376.8 L886.0 376.8 L885.0 376.8 L885.0 386.6 L884.0 386.6 L884.0 396.4 L883.0 396.4 L883.0 396.4 L882.0 396.4 L882.0 358.6 L881.0 358.6 L881.0 358.6 L880.0 358.6 L880.0 358.6 L879.0 358.6 L879.0 357.9 L878.0 357.9 L878.0 357.2 L877.0 357.2 L877.0 357.2 L876.0 357.2 L876.0 372.2 L875.0 372.2 L875.0 387.3 L874.0 387.3 L874.0 387.3 L873.0 387.3 L873.0 378.6 L872.0 378.6 L872.0 369.8 L871.0 369.8 L871.0 369.8 L870.0 369.8 L870.0 369.8 L869.0 369.8 L869.0 367.7 L868.0 367.7 L868.0 365.6 L867.0 365.6 L867.0 365.6 L866.0 365.6 L866.0 365.6 L865.0 365.6 L865.0 381.7 L864.0 381.7 L864.0 397.8 L863.0 397.8 L863.0 397.8 L862.0 397.8 L862.0 386.1 L861.0 386.1 L861.0 374.5 L860.0 374.5 L860.0 362.8 L859.0 362.8 L859.0 362.8 L858.0 362.8 L858.0 373.0 L857.0 373.0 L857.0 383.1 L856.0 383.1 L856.0 383.1 L855.0 383.1 L855.0 383.1 L854.0 383.1 L854.0 371.2 L853.0 371.2 L853.0 371.2 L852.0 371.2 L852.0 353.0 L851.0 353.0 L851.0 368.1 L850.0 368.1 L850.0 383.1 L849.0 383.1 L849.0 383.1 L848.0 383.1 L848.0 372.2 L847.0 372.2 L847.0 361.4 L846.0 361.4 L846.0 361.4 L845.0 361.4 L845.0 361.4 L844.0 361.4 L844.0 343.2 L843.0 343.2 L843.0 343.2 L842.0 343.2 L842.0 368.4 L841.0 368.4 L841.0 368.4 L840.0 368.4 L840.0 368.4 L839.0 368.4 L839.0 379.6 L838.0 379.6 L838.0 379.6 L837.0 379.6 L837.0 383.8 L836.0 383.8 L836.0 383.8 L835.0 383.8 L835.0 374.7 L834.0 374.7 L834.0 365.6 L833.0 365.6 L833.0 365.6 L832.0 365.6 L832.0 371.2 L831.0 371.2 L831.0 371.2 L830.0 371.2 L830.0 363.5 L829.0 363.5 L829.0 355.8 L828.0 355.8 L828.0 355.8 L827.0 355.8 L827.0 359.6 L826.0 359.6 L826.0 363.5 L825.0 363.5 L825.0 363.5 L824.0 363.5 L824.0 371.2 L823.0 371.2 L823.0 371.2 L822.0 371.2 L822.0 371.2 L821.0 371.2 L821.0 371.2 L820.0 371.2 L820.0 371.2 L819.0 371.2 L819.0 365.6 L818.0 365.6 L818.0 388.0 L817.0 388.0 L817.0 388.0 L816.0 388.0 L816.0 364.2 L815.0 364.2 L815.0 364.2 L814.0 364.2 L814.0 347.4 L813.0 347.4 L813.0 360.0 L812.0 360.0 L812.0 372.6 L811.0 372.6 L811.0 372.6 L810.0 372.6 L810.0 374.0 L809.0 374.0 L809.0 374.0 L808.0 374.0 L808.0 374.0 L807.0 374.0 L807.0 379.6 L806.0 379.6 L806.0 379.6 L805.0 379.6 L805.0 371.9 L804.0 371.9 L804.0 364.2 L803.0 364.2 L803.0 364.2 L802.0 364.2 L802.0 403.4 L801.0 403.4 L801.0 403.4 L800.0 403.4 L800.0 386.2 L799.0 386.2 L799.0 369.1 L798.0 369.1 L798.0 369.1 L797.0 369.1 L797.0 360.4 L796.0 360.4 L796.0 351.6 L795.0 351.6 L795.0 351.6 L794.0 351.6 L794.0 351.6 L793.0 351.6 L793.0 372.6 L792.0 372.6 L792.0 372.6 L791.0 372.6 L791.0 372.6 L790.0 372.6 L790.0 372.6 L789.0 372.6 L789.0 348.8 L788.0 348.8 L788.0 352.5 L787.0 352.5 L787.0 356.3 L786.0 356.3 L786.0 360.0 L785.0 360.0 L785.0 360.0 L784.0 360.0 L784.0 360.0 L783.0 360.0 L783.0 360.0 L782.0 360.0 L782.0 365.6 L781.0 365.6 L781.0 365.6 L780.0 365.6 L780.0 360.7 L779.0 360.7 L779.0 355.8 L778.0 355.8 L778.0 355.8 L777.0 355.8 L777.0 374.0 L776.0 374.0 L776.0 374.0 L775.0 374.0 L775.0 374.0 L774.0 374.0 L774.0 380.3 L773.0 380.3 L773.0 380.3 L772.0 380.3 L772.0 376.8 L771.0 376.8 L771.0 373.3 L770.0 373.3 L770.0 369.8 L769.0 369.8 L769.0 369.8 L768.0 369.8 L768.0 367.0 L767.0 367.0 L767.0 369.8 L766.0 369.8 L766.0 372.6 L765.0 372.6 L765.0 372.6 L764.0 372.6 L764.0 372.6 L763.0 372.6 L763.0 369.8 L762.0 369.8 L762.0 369.8 L761.0 369.8 L761.0 355.8 L760.0 355.8 L760.0 355.8 L759.0 355.8 L759.0 370.9 L758.0 370.9 L758.0 385.9 L757.0 385.9 L757.0 385.9 L756.0 385.9 L756.0 374.4 L755.0 374.4 L755.0 362.8 L754.0 362.8 L754.0 362.8 L753.0 362.8 L753.0 385.9 L752.0 385.9 L752.0 385.9 L751.0 385.9 L751.0 385.9 L750.0 385.9 L750.0 372.9 L749.0 372.9 L749.0 360.0 L748.0 360.0 L748.0 360.0 L747.0 360.0 L747.0 370.5 L746.0 370.5 L746.0 381.0 L745.0 381.0 L745.0 381.0 L744.0 381.0 L744.0 371.2 L743.0 371.2 L743.0 371.2 L742.0 371.2 L742.0 366.3 L741.0 366.3 L741.0 361.4 L740.0 361.4 L740.0 361.4 L739.0 361.4 L739.0 361.4 L738.0 361.4 L738.0 361.4 L737.0 361.4 L737.0 371.9 L736.0 371.9 L736.0 371.9 L735.0 371.9 L735.0 371.9 L734.0 371.9 L734.0 364.5 L733.0 364.5 L733.0 357.2 L732.0 357.2 L732.0 357.2 L731.0 357.2 L731.0 348.8 L730.0 348.8 L730.0 348.8 L729.0 348.8 L729.0 362.1 L728.0 362.1 L728.0 375.4 L727.0 375.4 L727.0 375.4 L726.0 375.4 L726.0 379.6 L725.0 379.6 L725.0 379.6 L724.0 379.6 L724.0 379.6 L723.0 379.6 L723.0 350.2 L722.0 350.2 L722.0 350.2 L721.0 350.2 L721.0 392.2 L720.0 392.2 L720.0 392.2 L719.0 392.2 L719.0 380.3 L718.0 380.3 L718.0 368.4 L717.0 368.4 L717.0 368.4 L716.0 368.4 L716.0 368.4 L715.0 368.4 L715.0 368.4 L714.0 368.4 L714.0 343.2 L713.0 343.2 L713.0 343.2 L712.0 343.2 L712.0 381.0 L711.0 381.0 L711.0 381.0 L710.0 381.0 L710.0 381.0 L709.0 381.0 L709.0 367.7 L708.0 367.7 L708.0 354.4 L707.0 354.4 L707.0 354.4 L706.0 354.4 L706.0 354.4 L705.0 354.4 L705.0 369.1 L704.0 369.1 L704.0 369.1 L703.0 369.1 L703.0 346.0 L702.0 346.0 L702.0 350.4 L701.0 350.4 L701.0 354.9 L700.0 354.9 L700.0 359.3 L699.0 359.3 L699.0 359.3 L698.0 359.3 L698.0 345.3 L697.0 345.3 L697.0 345.3 L696.0 345.3 L696.0 350.6 L695.0 350.6 L695.0 355.8 L694.0 355.8 L694.0 355.8 L693.0 355.8 L693.0 360.5 L692.0 360.5 L692.0 365.1 L691.0 365.1 L691.0 369.8 L690.0 369.8 L690.0 369.8 L689.0 369.8 L689.0 369.8 L688.0 369.8 L688.0 364.2 L687.0 364.2 L687.0 364.2 L686.0 364.2 L686.0 371.9 L685.0 371.9 L685.0 371.9 L684.0 371.9 L684.0 371.9 L683.0 371.9 L683.0 366.6 L682.0 366.6 L682.0 361.4 L681.0 361.4 L681.0 361.4 L680.0 361.4 L680.0 361.4 L679.0 361.4 L679.0 380.3 L678.0 380.3 L678.0 380.3 L677.0 380.3 L677.0 350.2 L676.0 350.2 L676.0 362.8 L675.0 362.8 L675.0 375.4 L674.0 375.4 L674.0 375.4 L673.0 375.4 L673.0 369.8 L672.0 369.8 L672.0 364.2 L671.0 364.2 L671.0 364.2 L670.0 364.2 L670.0 364.2 L669.0 364.2 L669.0 348.8 L668.0 348.8 L668.0 348.8 L667.0 348.8 L667.0 363.1 L666.0 363.1 L666.0 377.5 L665.0 377.5 L665.0 377.5 L664.0 377.5 L664.0 364.6 L663.0 364.6 L663.0 351.6 L662.0 351.6 L662.0 351.6 L661.0 351.6 L661.0 351.6 L660.0 351.6 L660.0 360.7 L659.0 360.7 L659.0 360.7 L658.0 360.7 L658.0 376.8 L657.0 376.8 L657.0 376.8 L656.0 376.8 L656.0 392.9 L655.0 392.9 L655.0 392.9 L654.0 392.9 L654.0 392.9 L653.0 392.9 L653.0 358.6 L652.0 358.6 L652.0 358.6 L651.0 358.6 L651.0 371.9 L650.0 371.9 L650.0 371.9 L649.0 371.9 L649.0 366.6 L648.0 366.6 L648.0 361.4 L647.0 361.4 L647.0 361.4 L646.0 361.4 L646.0 361.4 L645.0 361.4 L645.0 368.4 L644.0 368.4 L644.0 368.4 L643.0 368.4 L643.0 355.8 L642.0 355.8 L642.0 355.8 L641.0 355.8 L641.0 357.9 L640.0 357.9 L640.0 360.0 L639.0 360.0 L639.0 360.0 L638.0 360.0 L638.0 369.1 L637.0 369.1 L637.0 378.2 L636.0 378.2 L636.0 378.2 L635.0 378.2 L635.0 347.4 L634.0 347.4 L634.0 347.4 L633.0 347.4 L633.0 357.2 L632.0 357.2 L632.0 357.2 L631.0 357.2 L631.0 364.9 L630.0 364.9 L630.0 364.9 L629.0 364.9 L629.0 351.6 L628.0 351.6 L628.0 351.6 L627.0 351.6 L627.0 365.2 L626.0 365.2 L626.0 378.9 L625.0 378.9 L625.0 378.9 L624.0 378.9 L624.0 371.2 L623.0 371.2 L623.0 371.2 L622.0 371.2 L622.0 371.2 L621.0 371.2 L621.0 344.6 L620.0 344.6 L620.0 344.6 L619.0 344.6 L619.0 370.9 L618.0 370.9 L618.0 397.1 L617.0 397.1 L617.0 397.1 L616.0 397.1 L616.0 353.0 L615.0 353.0 L615.0 353.0 L614.0 353.0 L614.0 364.9 L613.0 364.9 L613.0 376.8 L612.0 376.8 L612.0 376.8 L611.0 376.8 L611.0 368.4 L610.0 368.4 L610.0 360.0 L609.0 360.0 L609.0 360.0 L608.0 360.0 L608.0 362.8 L607.0 362.8 L607.0 365.6 L606.0 365.6 L606.0 365.6 L605.0 365.6 L605.0 365.6 L604.0 365.6 L604.0 365.6 L603.0 365.6 L603.0 376.1 L602.0 376.1 L602.0 376.1 L601.0 376.1 L601.0 369.5 L600.0 369.5 L600.0 362.8 L599.0 362.8 L599.0 362.8 L598.0 362.8 L598.0 357.2 L597.0 357.2 L597.0 351.6 L596.0 351.6 L596.0 351.6 L595.0 351.6 L595.0 359.3 L594.0 359.3 L594.0 367.0 L593.0 367.0 L593.0 367.0 L592.0 367.0 L592.0 367.0 L591.0 367.0 L591.0 367.0 L590.0 367.0 L590.0 367.0 L589.0 367.0 L589.0 367.0 L588.0 367.0 L588.0 388.0 L587.0 388.0 L587.0 388.0 L586.0 388.0 L586.0 372.6 L585.0 372.6 L585.0 357.2 L584.0 357.2 L584.0 357.2 L583.0 357.2 L583.0 397.8 L582.0 397.8 L582.0 397.8 L581.0 397.8 L581.0 400.2 L580.0 400.2 L580.0 402.7 L579.0 402.7 L579.0 402.7 L578.0 402.7 L578.0 381.4 L577.0 381.4 L577.0 360.0 L576.0 360.0 L576.0 360.0 L575.0 360.0 L575.0 360.0 L574.0 360.0 L574.0 353.0 L573.0 353.0 L573.0 353.0 L572.0 353.0 L572.0 367.0 L571.0 367.0 L571.0 367.0 L570.0 367.0 L570.0 357.9 L569.0 357.9 L569.0 348.8 L568.0 348.8 L568.0 348.8 L567.0 348.8 L567.0 348.8 L566.0 348.8 L566.0 381.7 L565.0 381.7 L565.0 381.7 L564.0 381.7 L564.0 365.2 L563.0 365.2 L563.0 348.8 L562.0 348.8 L562.0 348.8 L561.0 348.8 L561.0 348.8 L560.0 348.8 L560.0 361.4 L559.0 361.4 L559.0 361.4 L558.0 361.4 L558.0 361.4 L557.0 361.4 L557.0 361.4 L556.0 361.4 L556.0 367.0 L555.0 367.0 L555.0 367.0 L554.0 367.0 L554.0 373.3 L553.0 373.3 L553.0 379.6 L552.0 379.6 L552.0 379.6 L551.0 379.6 L551.0 341.8 L550.0 341.8 L550.0 352.3 L549.0 352.3 L549.0 362.8 L548.0 362.8 L548.0 362.8 L547.0 362.8 L547.0 374.7 L546.0 374.7 L546.0 374.7 L545.0 374.7 L545.0 357.2 L544.0 357.2 L544.0 357.2 L543.0 357.2 L543.0 344.6 L542.0 344.6 L542.0 344.6 L541.0 344.6 L541.0 355.8 L540.0 355.8 L540.0 367.0 L539.0 367.0 L539.0 367.0 L538.0 367.0 L538.0 367.0 L537.0 367.0 L537.0 384.5 L536.0 384.5 L536.0 384.5 L535.0 384.5 L535.0 360.0 L534.0 360.0 L534.0 360.0 L533.0 360.0 L533.0 356.1 L532.0 356.1 L532.0 352.3 L531.0 352.3 L531.0 352.3 L530.0 352.3 L530.0 364.2 L529.0 364.2 L529.0 364.2 L528.0 364.2 L528.0 376.1 L527.0 376.1 L527.0 376.1 L526.0 376.1 L526.0 376.1 L525.0 376.1 L525.0 360.0 L524.0 360.0 L524.0 360.0 L523.0 360.0 L523.0 360.0 L522.0 360.0 L522.0 365.2 L521.0 365.2 L521.0 370.5 L520.0 370.5 L520.0 370.5 L519.0 370.5 L519.0 370.5 L518.0 370.5 L518.0 370.5 L517.0 370.5 L517.0 370.5 L516.0 370.5 L516.0 366.6 L515.0 366.6 L515.0 362.8 L514.0 362.8 L514.0 362.8 L513.0 362.8 L513.0 347.4 L512.0 347.4 L512.0 347.4 L511.0 347.4 L511.0 362.8 L510.0 362.8 L510.0 378.2 L509.0 378.2 L509.0 378.2 L508.0 378.2 L508.0 348.8 L507.0 348.8 L507.0 348.8 L506.0 348.8 L506.0 361.4 L505.0 361.4 L505.0 361.4 L504.0 361.4 L504.0 367.7 L503.0 367.7 L503.0 374.0 L502.0 374.0 L502.0 380.3 L501.0 380.3 L501.0 380.3 L500.0 380.3 L500.0 378.9 L499.0 378.9 L499.0 378.9 L498.0 378.9 L498.0 368.8 L497.0 368.8 L497.0 358.6 L496.0 358.6 L496.0 358.6 L495.0 358.6 L495.0 360.0 L494.0 360.0 L494.0 361.4 L493.0 361.4 L493.0 361.4 L492.0 361.4 L492.0 361.4 L491.0 361.4 L491.0 374.7 L490.0 374.7 L490.0 374.7 L489.0 374.7 L489.0 374.7 L488.0 374.7 L488.0 365.2 L487.0 365.2 L487.0 355.8 L486.0 355.8 L486.0 355.8 L485.0 355.8 L485.0 355.8 L484.0 355.8 L484.0 374.0 L483.0 374.0 L483.0 374.0 L482.0 374.0 L482.0 374.0 L481.0 374.0 L481.0 392.2 L480.0 392.2 L480.0 392.2 L479.0 392.2 L479.0 367.0 L478.0 367.0 L478.0 360.0 L477.0 360.0 L477.0 353.0 L476.0 353.0 L476.0 353.0 L475.0 353.0 L475.0 360.7 L474.0 360.7 L474.0 368.4 L473.0 368.4 L473.0 368.4 L472.0 368.4 L472.0 394.3 L471.0 394.3 L471.0 394.3 L470.0 394.3 L470.0 375.8 L469.0 375.8 L469.0 357.2 L468.0 357.2 L468.0 357.2 L467.0 357.2 L467.0 351.6 L466.0 351.6 L466.0 351.6 L465.0 351.6 L465.0 364.2 L464.0 364.2 L464.0 376.8 L463.0 376.8 L463.0 376.8 L462.0 376.8 L462.0 376.8 L461.0 376.8 L461.0 368.8 L460.0 368.8 L460.0 360.7 L459.0 360.7 L459.0 360.7 L458.0 360.7 L458.0 356.5 L457.0 356.5 L457.0 356.5 L456.0 356.5 L456.0 356.5 L455.0 356.5 L455.0 368.4 L454.0 368.4 L454.0 368.4 L453.0 368.4 L453.0 358.6 L452.0 358.6 L452.0 358.6 L451.0 358.6 L451.0 350.2 L450.0 350.2 L450.0 356.5 L449.0 356.5 L449.0 362.8 L448.0 362.8 L448.0 362.8 L447.0 362.8 L447.0 362.8 L446.0 362.8 L446.0 362.8 L445.0 362.8 L445.0 362.8 L444.0 362.8 L444.0 371.2 L443.0 371.2 L443.0 371.2 L442.0 371.2 L442.0 372.6 L441.0 372.6 L441.0 372.6 L440.0 372.6 L440.0 372.6 L439.0 372.6 L439.0 382.4 L438.0 382.4 L438.0 392.2 L437.0 392.2 L437.0 392.2 L436.0 392.2 L436.0 388.0 L435.0 388.0 L435.0 383.8 L434.0 383.8 L434.0 383.8 L433.0 383.8 L433.0 372.6 L432.0 372.6 L432.0 367.0 L431.0 367.0 L431.0 361.4 L430.0 361.4 L430.0 361.4 L429.0 361.4 L429.0 349.5 L428.0 349.5 L428.0 349.5 L427.0 349.5 L427.0 356.9 L426.0 356.9 L426.0 364.2 L425.0 364.2 L425.0 364.2 L424.0 364.2 L424.0 350.9 L423.0 350.9 L423.0 350.9 L422.0 350.9 L422.0 354.8 L421.0 354.8 L421.0 358.6 L420.0 358.6 L420.0 358.6 L419.0 358.6 L419.0 358.6 L418.0 358.6 L418.0 377.5 L417.0 377.5 L417.0 396.4 L416.0 396.4 L416.0 396.4 L415.0 396.4 L415.0 376.8 L414.0 376.8 L414.0 357.2 L413.0 357.2 L413.0 357.2 L412.0 357.2 L412.0 353.4 L411.0 353.4 L411.0 349.5 L410.0 349.5 L410.0 349.5 L409.0 349.5 L409.0 364.2 L408.0 364.2 L408.0 364.2 L407.0 364.2 L407.0 360.7 L406.0 360.7 L406.0 357.2 L405.0 357.2 L405.0 357.2 L404.0 357.2 L404.0 357.2 L403.0 357.2 L403.0 357.2 L402.0 357.2 L402.0 374.0 L401.0 374.0 L401.0 374.0 L400.0 374.0 L400.0 382.8 L399.0 382.8 L399.0 391.5 L398.0 391.5 L398.0 391.5 L397.0 391.5 L397.0 380.1 L396.0 380.1 L396.0 368.6 L395.0 368.6 L395.0 357.2 L394.0 357.2 L394.0 357.2 L393.0 357.2 L393.0 374.0 L392.0 374.0 L392.0 374.0 L391.0 374.0 L391.0 371.9 L390.0 371.9 L390.0 369.8 L389.0 369.8 L389.0 369.8 L388.0 369.8 L388.0 366.5 L387.0 366.5 L387.0 363.3 L386.0 363.3 L386.0 360.0 L385.0 360.0 L385.0 360.0 L384.0 360.0 L384.0 375.4 L383.0 375.4 L383.0 375.4 L382.0 375.4 L382.0 375.4 L381.0 375.4 L381.0 375.4 L380.0 375.4 L380.0 363.9 L379.0 363.9 L379.0 352.3 L378.0 352.3 L378.0 352.3 L377.0 352.3 L377.0 383.8 L376.0 383.8 L376.0 383.8 L375.0 383.8 L375.0 383.8 L374.0 383.8 L374.0 357.2 L373.0 357.2 L373.0 372.6 L372.0 372.6 L372.0 372.6 L371.0 372.6 L371.0 378.2 L370.0 378.2 L370.0 383.8 L369.0 383.8 L369.0 383.8 L368.0 383.8 L368.0 354.4 L367.0 354.4 L367.0 354.4 L366.0 354.4 L366.0 363.1 L365.0 363.1 L365.0 371.9 L364.0 371.9 L364.0 371.9 L363.0 371.9 L363.0 370.9 L362.0 370.9 L362.0 369.8 L361.0 369.8 L361.0 369.8 L360.0 369.8 L360.0 361.4 L359.0 361.4 L359.0 361.4 L358.0 361.4 L358.0 372.6 L357.0 372.6 L357.0 372.6 L356.0 372.6 L356.0 366.3 L355.0 366.3 L355.0 360.0 L354.0 360.0 L354.0 360.0 L353.0 360.0 L353.0 368.1 L352.0 368.1 L352.0 376.1 L351.0 376.1 L351.0 376.1 L350.0 376.1 L350.0 358.6 L349.0 358.6 L349.0 358.6 L348.0 358.6 L348.0 357.9 L347.0 357.9 L347.0 357.2 L346.0 357.2 L346.0 357.2 L345.0 357.2 L345.0 357.2 L344.0 357.2 L344.0 357.2 L343.0 357.2 L343.0 357.2 L342.0 357.2 L342.0 362.8 L341.0 362.8 L341.0 368.4 L340.0 368.4 L340.0 368.4 L339.0 368.4 L339.0 368.4 L338.0 368.4 L338.0 374.0 L337.0 374.0 L337.0 374.0 L336.0 374.0 L336.0 380.3 L335.0 380.3 L335.0 386.6 L334.0 386.6 L334.0 386.6 L333.0 386.6 L333.0 386.6 L332.0 386.6 L332.0 351.6 L331.0 351.6 L331.0 367.0 L330.0 367.0 L330.0 367.0 L329.0 367.0 L329.0 376.1 L328.0 376.1 L328.0 385.2 L327.0 385.2 L327.0 385.2 L326.0 385.2 L326.0 372.6 L325.0 372.6 L325.0 372.6 L324.0 372.6 L324.0 374.0 L323.0 374.0 L323.0 374.0 L322.0 374.0 L322.0 366.3 L321.0 366.3 L321.0 358.6 L320.0 358.6 L320.0 358.6 L319.0 358.6 L319.0 358.6 L318.0 358.6 L318.0 358.6 L317.0 358.6 L317.0 365.6 L316.0 365.6 L316.0 372.6 L315.0 372.6 L315.0 372.6 L314.0 372.6 L314.0 375.4 L313.0 375.4 L313.0 375.4 L312.0 375.4 L312.0 367.7 L311.0 367.7 L311.0 360.0 L310.0 360.0 L310.0 360.0 L309.0 360.0 L309.0 360.0 L308.0 360.0 L308.0 370.1 L307.0 370.1 L307.0 380.3 L306.0 380.3 L306.0 380.3 L305.0 380.3 L305.0 347.4 L304.0 347.4 L304.0 347.4 L303.0 347.4 L303.0 350.9 L302.0 350.9 L302.0 354.4 L301.0 354.4 L301.0 354.4 L300.0 354.4 L300.0 361.0 L299.0 361.0 L299.0 367.7 L298.0 367.7 L298.0 367.7 L297.0 367.7 L297.0 363.9 L296.0 363.9 L296.0 360.0 L295.0 360.0 L295.0 360.0 L294.0 360.0 L294.0 360.0 L293.0 360.0 L293.0 360.0 L292.0 360.0 L292.0 347.4 L291.0 347.4 L291.0 347.4 L290.0 347.4 L290.0 362.8 L289.0 362.8 L289.0 378.2 L288.0 378.2 L288.0 378.2 L287.0 378.2 L287.0 367.7 L286.0 367.7 L286.0 357.2 L285.0 357.2 L285.0 357.2 L284.0 357.2 L284.0 368.4 L283.0 368.4 L283.0 368.4 L282.0 368.4 L282.0 368.4 L281.0 368.4 L281.0 384.5 L280.0 384.5 L280.0 384.5 L279.0 384.5 L279.0 370.9 L278.0 370.9 L278.0 357.2 L277.0 357.2 L277.0 357.2 L276.0 357.2 L276.0 357.2 L275.0 357.2 L275.0 357.2 L274.0 357.2 L274.0 372.6 L273.0 372.6 L273.0 372.6 L272.0 372.6 L272.0 372.6 L271.0 372.6 L271.0 371.9 L270.0 371.9 L270.0 371.9 L269.0 371.9 L269.0 363.1 L268.0 363.1 L268.0 354.4 L267.0 354.4 L267.0 354.4 L266.0 354.4 L266.0 359.3 L265.0 359.3 L265.0 364.2 L264.0 364.2 L264.0 364.2 L263.0 364.2 L263.0 364.2 L262.0 364.2 L262.0 383.8 L261.0 383.8 L261.0 383.8 L260.0 383.8 L260.0 364.2 L259.0 364.2 L259.0 364.2 L258.0 364.2 L258.0 357.2 L257.0 357.2 L257.0 357.2 L256.0 357.2 L256.0 375.8 L255.0 375.8 L255.0 394.3 L254.0 394.3 L254.0 394.3 L253.0 394.3 L253.0 368.4 L252.0 368.4 L252.0 368.4 L251.0 368.4 L251.0 353.0 L250.0 353.0 L250.0 358.6 L249.0 358.6 L249.0 364.2 L248.0 364.2 L248.0 364.2 L247.0 364.2 L247.0 355.8 L246.0 355.8 L246.0 379.6 L245.0 379.6 L245.0 379.6 L244.0 379.6 L244.0 357.2 L243.0 357.2 L243.0 357.2 L242.0 357.2 L242.0 367.0 L241.0 367.0 L241.0 367.0 L240.0 367.0 L240.0 367.0 L239.0 367.0 L239.0 360.0 L238.0 360.0 L238.0 360.0 L237.0 360.0 L237.0 372.6 L236.0 372.6 L236.0 372.6 L235.0 372.6 L235.0 372.6 L234.0 372.6 L234.0 365.6 L233.0 365.6 L233.0 358.6 L232.0 358.6 L232.0 358.6 L231.0 358.6 L231.0 354.4 L230.0 354.4 L230.0 354.4 L229.0 354.4 L229.0 362.8 L228.0 362.8 L228.0 362.8 L227.0 362.8 L227.0 358.2 L226.0 358.2 L226.0 353.7 L225.0 353.7 L225.0 353.7 L224.0 353.7 L224.0 357.9 L223.0 357.9 L223.0 357.9 L222.0 357.9 L222.0 356.1 L221.0 356.1 L221.0 354.4 L220.0 354.4 L220.0 354.4 L219.0 354.4 L219.0 354.4 L218.0 354.4 L218.0 354.4 L217.0 354.4 L217.0 354.4 L216.0 354.4 L216.0 367.0 L215.0 367.0 L215.0 379.6 L214.0 379.6 L214.0 379.6 L213.0 379.6 L213.0 379.6 L212.0 379.6 L212.0 379.6 L211.0 379.6 L211.0 383.1 L210.0 383.1 L210.0 386.6 L209.0 386.6 L209.0 386.6 L208.0 386.6 L208.0 371.9 L207.0 371.9 L207.0 357.2 L206.0 357.2 L206.0 357.2 L205.0 357.2 L205.0 357.2 L204.0 357.2 L204.0 357.2 L203.0 357.2 L203.0 357.2 L202.0 357.2 L202.0 365.6 L201.0 365.6 L201.0 374.0 L200.0 374.0 L200.0 374.0 L199.0 374.0 L199.0 365.1 L198.0 365.1 L198.0 356.3 L197.0 356.3 L197.0 347.4 L196.0 347.4 L196.0 347.4 L195.0 347.4 L195.0 347.4 L194.0 347.4 L194.0 352.3 L193.0 352.3 L193.0 357.2 L192.0 357.2 L192.0 357.2 L191.0 357.2 L191.0 360.0 L190.0 360.0 L190.0 362.8 L189.0 362.8 L189.0 362.8 L188.0 362.8 L188.0 362.8 L187.0 362.8 L187.0 362.8 L186.0 362.8 L186.0 362.8 L185.0 362.8 L185.0 362.8 L184.0 362.8 L184.0 362.8 L183.0 362.8 L183.0 371.9 L182.0 371.9 L182.0 381.0 L181.0 381.0 L181.0 381.0 L180.0 381.0 L180.0 406.2 L179.0 406.2 L179.0 406.2 L178.0 406.2 L178.0 380.3 L177.0 380.3 L177.0 354.4 L176.0 354.4 L176.0 354.4 L175.0 354.4 L175.0 354.4 L174.0 354.4 L174.0 354.4 L173.0 354.4 L173.0 354.4 L172.0 354.4 L172.0 363.1 L171.0 363.1 L171.0 371.9 L170.0 371.9 L170.0 371.9 L169.0 371.9 L169.0 348.8 L168.0 348.8 L168.0 348.8 L167.0 348.8 L167.0 375.4 L166.0 375.4 L166.0 375.4 L165.0 375.4 L165.0 372.6 L164.0 372.6 L164.0 372.6 L163.0 372.6 L163.0 372.6 L162.0 372.6 L162.0 385.2 L161.0 385.2 L161.0 397.8 L160.0 397.8 L160.0 397.8 L159.0 397.8 L159.0 377.5 L158.0 377.5 L158.0 357.2 L157.0 357.2 L157.0 357.2 L156.0 357.2 L156.0 359.3 L155.0 359.3 L155.0 361.4 L154.0 361.4 L154.0 361.4 L153.0 361.4 L153.0 375.4 L152.0 375.4 L152.0 389.4 L151.0 389.4 L151.0 389.4 L150.0 389.4 L150.0 374.7 L149.0 374.7 L149.0 360.0 L148.0 360.0 L148.0 360.0 L147.0 360.0 L147.0 378.2 L146.0 378.2 L146.0 396.4 L145.0 396.4 L145.0 396.4 L144.0 396.4 L144.0 380.6 L143.0 380.6 L143.0 364.9 L142.0 364.9 L142.0 364.9 L141.0 364.9 L141.0 347.4 L140.0 347.4 L140.0 347.4 L139.0 347.4 L139.0 356.1 L138.0 356.1 L138.0 364.9 L137.0 364.9 L137.0 364.9 L136.0 364.9 L136.0 364.9 L135.0 364.9 L135.0 358.6 L134.0 358.6 L134.0 352.3 L133.0 352.3 L133.0 352.3 L132.0 352.3 L132.0 352.3 L131.0 352.3 L131.0 352.3 L130.0 352.3 L130.0 352.3 L129.0 352.3 L129.0 365.2 L128.0 365.2 L128.0 378.2 L127.0 378.2 L127.0 378.2 L126.0 378.2 L126.0 378.2 L125.0 378.2Z" fill="#1f77b4"/>
<path d="M125.0 478.0 L126.0 478.0 L126.0 478.0 L127.0 478.0 L127.0 478.0 L128.0 478.0 L128.0 473.1 L129.0 473.1 L129.0 468.2 L130.0 468.2 L130.0 468.2 L131.0 468.2 L131.0 473.1 L132.0 473.1 L132.0 478.0 L133.0 478.0 L133.0 453.5 L134.0 453.5 L134.0 453.5 L135.0 453.5 L135.0 464.0 L136.0 464.0 L136.0 464.0 L137.0 464.0 L137.0 473.1 L138.0 473.1 L138.0 482.2 L139.0 482.2 L139.0 466.1 L140.0 466.1 L140.0 466.1 L141.0 466.1 L141.0 466.1 L142.0 466.1 L142.0 489.2 L143.0 489.2 L143.0 489.2 L144.0 489.2 L144.0 487.8 L145.0 487.8 L145.0 487.8 L146.0 487.8 L146.0 463.3 L147.0 463.3 L147.0 463.3 L148.0 463.3 L148.0 468.6 L149.0 468.6 L149.0 473.8 L150.0 473.8 L150.0 464.7 L151.0 464.7 L151.0 464.7 L152.0 464.7 L152.0 464.7 L153.0 464.7 L153.0 473.4 L154.0 473.4 L154.0 482.2 L155.0 482.2 L155.0 482.2 L156.0 482.2 L156.0 459.1 L157.0 459.1 L157.0 459.1 L158.0 459.1 L158.0 471.0 L159.0 471.0 L159.0 471.0 L160.0 471.0 L160.0 461.9 L161.0 461.9 L161.0 461.9 L162.0 461.9 L162.0 461.9 L163.0 461.9 L163.0 461.9 L164.0 461.9 L164.0 469.6 L165.0 469.6 L165.0 477.3 L166.0 477.3 L166.0 477.3 L167.0 477.3 L167.0 468.2 L168.0 468.2 L168.0 468.2 L169.0 468.2 L169.0 468.2 L170.0 468.2 L170.0 476.6 L171.0 476.6 L171.0 476.6 L172.0 476.6 L172.0 448.6 L173.0 448.6 L173.0 448.6 L174.0 448.6 L174.0 473.8 L175.0 473.8 L175.0 473.8 L176.0 473.8 L176.0 464.4 L177.0 464.4 L177.0 454.9 L178.0 454.9 L178.0 454.9 L179.0 454.9 L179.0 467.1 L180.0 467.1 L180.0 479.4 L181.0 479.4 L181.0 479.4 L182.0 479.4 L182.0 489.2 L183.0 489.2 L183.0 472.4 L184.0 472.4 L184.0 472.4 L185.0 472.4 L185.0 466.8 L186.0 466.8 L186.0 461.2 L187.0 461.2 L187.0 461.2 L188.0 461.2 L188.0 462.6 L189.0 462.6 L189.0 464.0 L190.0 464.0 L190.0 464.0 L191.0 464.0 L191.0 468.2 L192.0 468.2 L192.0 468.2 L193.0 468.2 L193.0 468.2 L194.0 468.2 L194.0 465.8 L195.0 465.8 L195.0 463.3 L196.0 463.3 L196.0 463.3 L197.0 463.3 L197.0 472.8 L198.0 472.8 L198.0 482.2 L199.0 482.2 L199.0 472.4 L200.0 472.4 L200.0 472.4 L201.0 472.4 L201.0 482.2 L202.0 482.2 L202.0 465.4 L203.0 465.4 L203.0 465.4 L204.0 465.4 L204.0 465.4 L205.0 465.4 L205.0 465.4 L206.0 465.4 L206.0 467.5 L207.0 467.5 L207.0 469.6 L208.0 469.6 L208.0 469.6 L209.0 469.6 L209.0 484.3 L210.0 484.3 L210.0 466.8 L211.0 466.8 L211.0 466.8 L212.0 466.8 L212.0 466.8 L213.0 466.8 L213.0 465.1 L214.0 465.1 L214.0 463.3 L215.0 463.3 L215.0 463.3 L216.0 463.3 L216.0 463.3 L217.0 463.3 L217.0 464.4 L218.0 464.4 L218.0 465.4 L219.0 465.4 L219.0 465.4 L220.0 465.4 L220.0 465.4 L221.0 465.4 L221.0 447.9 L222.0 447.9 L222.0 447.9 L223.0 447.9 L223.0 447.9 L224.0 447.9 L224.0 448.6 L225.0 448.6 L225.0 448.6 L226.0 448.6 L226.0 480.8 L227.0 480.8 L227.0 464.0 L228.0 464.0 L228.0 452.1 L229.0 452.1 L229.0 452.1 L230.0 452.1 L230.0 461.2 L231.0 461.2 L231.0 470.3 L232.0 470.3 L232.0 470.3 L233.0 470.3 L233.0 470.3 L234.0 470.3 L234.0 476.2 L235.0 476.2 L235.0 482.2 L236.0 482.2 L236.0 482.2 L237.0 482.2 L237.0 472.4 L238.0 472.4 L238.0 472.4 L239.0 472.4 L239.0 468.9 L240.0 468.9 L240.0 465.4 L241.0 465.4 L241.0 465.4 L242.0 465.4 L242.0 467.1 L243.0 467.1 L243.0 468.9 L244.0 468.9 L244.0 468.9 L245.0 468.9 L245.0 468.9 L246.0 468.9 L246.0 480.8 L247.0 480.8 L247.0 480.8 L248.0 480.8 L248.0 471.7 L249.0 471.7 L249.0 462.6 L250.0 462.6 L250.0 462.6 L251.0 462.6 L251.0 471.0 L252.0 471.0 L252.0 471.0 L253.0 471.0 L253.0 471.0 L254.0 471.0 L254.0 471.0 L255.0 471.0 L255.0 471.0 L256.0 471.0 L256.0 455.6 L257.0 455.6 L257.0 455.6 L258.0 455.6 L258.0 455.6 L259.0 455.6 L259.0 455.6 L260.0 455.6 L260.0 471.7 L261.0 471.7 L261.0 471.7 L262.0 471.7 L262.0 471.7 L263.0 471.7 L263.0 473.8 L264.0 473.8 L264.0 475.9 L265.0 475.9 L265.0 475.9 L266.0 475.9 L266.0 461.9 L267.0 461.9 L267.0 461.9 L268.0 461.9 L268.0 461.9 L269.0 461.9 L269.0 461.5 L270.0 461.5 L270.0 461.2 L271.0 461.2 L271.0 461.2 L272.0 461.2 L272.0 471.0 L273.0 471.0 L273.0 471.0 L274.0 471.0 L274.0 471.0 L275.0 471.0 L275.0 471.0 L276.0 471.0 L276.0 467.1 L277.0 467.1 L277.0 463.3 L278.0 463.3 L278.0 463.3 L279.0 463.3 L279.0 485.7 L280.0 485.7 L280.0 485.7 L281.0 485.7 L281.0 478.4 L282.0 478.4 L282.0 471.0 L283.0 471.0 L283.0 471.0 L284.0 471.0 L284.0 471.0 L285.0 471.0 L285.0 471.0 L286.0 471.0 L286.0 471.0 L287.0 471.0 L287.0 471.0 L288.0 471.0 L288.0 466.1 L289.0 466.1 L289.0 461.2 L290.0 461.2 L290.0 461.2 L291.0 461.2 L291.0 477.3 L292.0 477.3 L292.0 477.3 L293.0 477.3 L293.0 463.3 L294.0 463.3 L294.0 463.3 L295.0 463.3 L295.0 467.1 L296.0 467.1 L296.0 471.0 L297.0 471.0 L297.0 471.0 L298.0 471.0 L298.0 475.9 L299.0 475.9 L299.0 480.8 L300.0 480.8 L300.0 480.8 L301.0 480.8 L301.0 459.8 L302.0 459.8 L302.0 459.8 L303.0 459.8 L303.0 464.7 L304.0 464.7 L304.0 469.6 L305.0 469.6 L305.0 469.6 L306.0 469.6 L306.0 474.1 L307.0 474.1 L307.0 478.7 L308.0 478.7 L308.0 478.7 L309.0 478.7 L309.0 473.8 L310.0 473.8 L310.0 473.8 L311.0 473.8 L311.0 473.8 L312.0 473.8 L312.0 469.6 L313.0 469.6 L313.0 469.6 L314.0 469.6 L314.0 478.0 L315.0 478.0 L315.0 478.0 L316.0 478.0 L316.0 464.7 L317.0 464.7 L317.0 464.7 L318.0 464.7 L318.0 467.9 L319.0 467.9 L319.0 471.0 L320.0 471.0 L320.0 471.0 L321.0 471.0 L321.0 471.0 L322.0 471.0 L322.0 471.0 L323.0 471.0 L323.0 471.0 L324.0 471.0 L324.0 470.3 L325.0 470.3 L325.0 470.3 L326.0 470.3 L326.0 470.3 L327.0 470.3 L327.0 474.1 L328.0 474.1 L328.0 478.0 L329.0 478.0 L329.0 478.0 L330.0 478.0 L330.0 463.6 L331.0 463.6 L331.0 449.3 L332.0 449.3 L332.0 449.3 L333.0 449.3 L333.0 454.2 L334.0 454.2 L334.0 449.3 L335.0 449.3 L335.0 449.3 L336.0 449.3 L336.0 478.0 L337.0 478.0 L337.0 478.0 L338.0 478.0 L338.0 461.9 L339.0 461.9 L339.0 461.9 L340.0 461.9 L340.0 452.8 L341.0 452.8 L341.0 452.8 L342.0 452.8 L342.0 452.8 L343.0 452.8 L343.0 465.1 L344.0 465.1 L344.0 477.3 L345.0 477.3 L345.0 477.3 L346.0 477.3 L346.0 477.3 L347.0 477.3 L347.0 477.3 L348.0 477.3 L348.0 477.3 L349.0 477.3 L349.0 471.7 L350.0 471.7 L350.0 471.7 L351.0 471.7 L351.0 471.7 L352.0 471.7 L352.0 472.4 L353.0 472.4 L353.0 473.1 L354.0 473.1 L354.0 473.1 L355.0 473.1 L355.0 471.4 L356.0 471.4 L356.0 469.6 L357.0 469.6 L357.0 469.6 L358.0 469.6 L358.0 468.9 L359.0 468.9 L359.0 468.2 L360.0 468.2 L360.0 468.2 L361.0 468.2 L361.0 461.2 L362.0 461.2 L362.0 461.2 L363.0 461.2 L363.0 469.2 L364.0 469.2 L364.0 477.3 L365.0 477.3 L365.0 477.3 L366.0 477.3 L366.0 473.8 L367.0 473.8 L367.0 473.8 L368.0 473.8 L368.0 451.4 L369.0 451.4 L369.0 451.4 L370.0 451.4 L370.0 485.0 L371.0 485.0 L371.0 485.0 L372.0 485.0 L372.0 474.1 L373.0 474.1 L373.0 463.3 L374.0 463.3 L374.0 463.3 L375.0 463.3 L375.0 467.1 L376.0 467.1 L376.0 471.0 L377.0 471.0 L377.0 471.0 L378.0 471.0 L378.0 466.1 L379.0 466.1 L379.0 466.1 L380.0 466.1 L380.0 485.7 L381.0 485.7 L381.0 472.4 L382.0 472.4 L382.0 472.4 L383.0 472.4 L383.0 475.9 L384.0 475.9 L384.0 479.4 L385.0 479.4 L385.0 479.4 L386.0 479.4 L386.0 455.6 L387.0 455.6 L387.0 455.6 L388.0 455.6 L388.0 471.0 L389.0 471.0 L389.0 486.4 L390.0 486.4 L390.0 486.4 L391.0 486.4 L391.0 480.6 L392.0 480.6 L392.0 474.7 L393.0 474.7 L393.0 468.9 L394.0 468.9 L394.0 468.9 L395.0 468.9 L395.0 472.8 L396.0 472.8 L396.0 476.6 L397.0 476.6 L397.0 476.6 L398.0 476.6 L398.0 471.0 L399.0 471.0 L399.0 471.0 L400.0 471.0 L400.0 471.0 L401.0 471.0 L401.0 464.0 L402.0 464.0 L402.0 457.0 L403.0 457.0 L403.0 457.0 L404.0 457.0 L404.0 457.0 L405.0 457.0 L405.0 460.5 L406.0 460.5 L406.0 464.0 L407.0 464.0 L407.0 464.0 L408.0 464.0 L408.0 475.2 L409.0 475.2 L409.0 475.2 L410.0 475.2 L410.0 475.2 L411.0 475.2 L411.0 475.2 L412.0 475.2 L412.0 466.1 L413.0 466.1 L413.0 457.0 L414.0 457.0 L414.0 457.0 L415.0 457.0 L415.0 465.1 L416.0 465.1 L416.0 473.1 L417.0 473.1 L417.0 473.1 L418.0 473.1 L418.0 467.9 L419.0 467.9 L419.0 462.6 L420.0 462.6 L420.0 462.6 L421.0 462.6 L421.0 459.8 L422.0 459.8 L422.0 457.0 L423.0 457.0 L423.0 457.0 L424.0 457.0 L424.0 457.0 L425.0 457.0 L425.0 457.0 L426.0 457.0 L426.0 479.4 L427.0 479.4 L427.0 479.4 L428.0 479.4 L428.0 479.4 L429.0 479.4 L429.0 469.6 L430.0 469.6 L430.0 459.8 L431.0 459.8 L431.0 459.8 L432.0 459.8 L432.0 459.8 L433.0 459.8 L433.0 466.1 L434.0 466.1 L434.0 472.4 L435.0 472.4 L435.0 472.4 L436.0 472.4 L436.0 472.4 L437.0 472.4 L437.0 482.2 L438.0 482.2 L438.0 482.2 L439.0 482.2 L439.0 464.0 L440.0 464.0 L440.0 464.0 L441.0 464.0 L441.0 444.4 L442.0 444.4 L442.0 444.4 L443.0 444.4 L443.0 455.2 L444.0 455.2 L444.0 466.1 L445.0 466.1 L445.0 466.1 L446.0 466.1 L446.0 472.8 L447.0 472.8 L447.0 479.4 L448.0 479.4 L448.0 479.4 L449.0 479.4 L449.0 457.0 L450.0 457.0 L450.0 457.0 L451.0 457.0 L451.0 457.0 L452.0 457.0 L452.0 457.0 L453.0 457.0 L453.0 457.0 L454.0 457.0 L454.0 457.0 L455.0 457.0 L455.0 463.3 L456.0 463.3 L456.0 469.6 L457.0 469.6 L457.0 469.6 L458.0 469.6 L458.0 457.0 L459.0 457.0 L459.0 457.0 L460.0 457.0 L460.0 466.1 L461.0 466.1 L461.0 475.2 L462.0 475.2 L462.0 475.2 L463.0 475.2 L463.0 479.4 L464.0 479.4 L464.0 483.6 L465.0 483.6 L465.0 483.6 L466.0 483.6 L466.0 473.8 L467.0 473.8 L467.0 473.8 L468.0 473.8 L468.0 467.9 L469.0 467.9 L469.0 461.9 L470.0 461.9 L470.0 461.9 L471.0 461.9 L471.0 464.0 L472.0 464.0 L472.0 466.1 L473.0 466.1 L473.0 466.1 L474.0 466.1 L474.0 468.9 L475.0 468.9 L475.0 468.9 L476.0 468.9 L476.0 468.9 L477.0 468.9 L477.0 464.0 L478.0 464.0 L478.0 459.1 L479.0 459.1 L479.0 459.1 L480.0 459.1 L480.0 468.2 L481.0 468.2 L481.0 468.2 L482.0 468.2 L482.0 478.7 L483.0 478.7 L483.0 489.2 L484.0 489.2 L484.0 461.2 L485.0 461.2 L485.0 461.2 L486.0 461.2 L486.0 461.2 L487.0 461.2 L487.0 461.2 L488.0 461.2 L488.0 461.2 L489.0 461.2 L489.0 461.2 L490.0 461.2 L490.0 462.6 L491.0 462.6 L491.0 464.0 L492.0 464.0 L492.0 464.0 L493.0 464.0 L493.0 461.9 L494.0 461.9 L494.0 461.9 L495.0 461.9 L495.0 457.0 L496.0 457.0 L496.0 457.0 L497.0 457.0 L497.0 457.0 L498.0 457.0 L498.0 470.3 L499.0 470.3 L499.0 470.3 L500.0 470.3 L500.0 470.3 L501.0 470.3 L501.0 470.3 L502.0 470.3 L502.0 462.6 L503.0 462.6 L503.0 454.9 L504.0 454.9 L504.0 454.9 L505.0 454.9 L505.0 454.9 L506.0 454.9 L506.0 459.4 L507.0 459.4 L507.0 464.0 L508.0 464.0 L508.0 464.0 L509.0 464.0 L509.0 476.6 L510.0 476.6 L510.0 476.6 L511.0 476.6 L511.0 471.7 L512.0 471.7 L512.0 466.8 L513.0 466.8 L513.0 466.8 L514.0 466.8 L514.0 466.8 L515.0 466.8 L515.0 466.8 L516.0 466.8 L516.0 466.8 L517.0 466.8 L517.0 474.5 L518.0 474.5 L518.0 482.2 L519.0 482.2 L519.0 482.2 L520.0 482.2 L520.0 454.2 L521.0 454.2 L521.0 454.2 L522.0 454.2 L522.0 457.7 L523.0 457.7 L523.0 457.7 L524.0 457.7 L524.0 478.0 L525.0 478.0 L525.0 468.2 L526.0 468.2 L526.0 468.2 L527.0 468.2 L527.0 468.2 L528.0 468.2 L528.0 463.3 L529.0 463.3 L529.0 463.3 L530.0 463.3 L530.0 463.3 L531.0 463.3 L531.0 463.3 L532.0 463.3 L532.0 445.1 L533.0 445.1 L533.0 445.1 L534.0 445.1 L534.0 445.1 L535.0 445.1 L535.0 469.6 L536.0 469.6 L536.0 469.6 L537.0 469.6 L537.0 485.0 L538.0 485.0 L538.0 485.0 L539.0 485.0 L539.0 471.0 L540.0 471.0 L540.0 459.8 L541.0 459.8 L541.0 459.8 L542.0 459.8 L542.0 462.6 L543.0 462.6 L543.0 465.4 L544.0 465.4 L544.0 465.4 L545.0 465.4 L545.0 465.4 L546.0 465.4 L546.0 469.9 L547.0 469.9 L547.0 474.5 L548.0 474.5 L548.0 474.5 L549.0 474.5 L549.0 474.5 L550.0 474.5 L550.0 461.9 L551.0 461.9 L551.0 461.9 L552.0 461.9 L552.0 471.4 L553.0 471.4 L553.0 480.8 L554.0 480.8 L554.0 480.8 L555.0 480.8 L555.0 479.4 L556.0 479.4 L556.0 479.4 L557.0 479.4 L557.0 479.4 L558.0 479.4 L558.0 458.4 L559.0 458.4 L559.0 458.4 L560.0 458.4 L560.0 462.6 L561.0 462.6 L561.0 466.8 L562.0 466.8 L562.0 466.8 L563.0 466.8 L563.0 475.2 L564.0 475.2 L564.0 483.6 L565.0 483.6 L565.0 483.6 L566.0 483.6 L566.0 471.7 L567.0 471.7 L567.0 471.7 L568.0 471.7 L568.0 465.4 L569.0 465.4 L569.0 465.4 L570.0 465.4 L570.0 473.1 L571.0 473.1 L571.0 473.1 L572.0 473.1 L572.0 479.1 L573.0 479.1 L573.0 485.0 L574.0 485.0 L574.0 471.0 L575.0 471.0 L575.0 471.0 L576.0 471.0 L576.0 467.9 L577.0 467.9 L577.0 464.7 L578.0 464.7 L578.0 464.7 L579.0 464.7 L579.0 470.6 L580.0 470.6 L580.0 476.6 L581.0 476.6 L581.0 476.6 L582.0 476.6 L582.0 476.6 L583.0 476.6 L583.0 470.6 L584.0 470.6 L584.0 464.7 L585.0 464.7 L585.0 464.7 L586.0 464.7 L586.0 464.0 L587.0 464.0 L587.0 464.0 L588.0 464.0 L588.0 464.0 L589.0 464.0 L589.0 464.0 L590.0 464.0 L590.0 474.5 L591.0 474.5 L591.0 485.0 L592.0 485.0 L592.0 485.0 L593.0 485.0 L593.0 473.4 L594.0 473.4 L594.0 461.9 L595.0 461.9 L595.0 461.9 L596.0 461.9 L596.0 461.9 L597.0 461.9 L597.0 461.9 L598.0 461.9 L598.0 467.3 L599.0 467.3 L599.0 472.6 L600.0 472.6 L600.0 478.0 L601.0 478.0 L601.0 478.0 L602.0 478.0 L602.0 457.0 L603.0 457.0 L603.0 457.0 L604.0 457.0 L604.0 457.0 L605.0 457.0 L605.0 467.5 L606.0 467.5 L606.0 467.5 L607.0 467.5 L607.0 467.5 L608.0 467.5 L608.0 467.5 L609.0 467.5 L609.0 493.4 L610.0 493.4 L610.0 493.4 L611.0 493.4 L611.0 478.0 L612.0 478.0 L612.0 478.0 L613.0 478.0 L613.0 466.1 L614.0 466.1 L614.0 454.2 L615.0 454.2 L615.0 454.2 L616.0 454.2 L616.0 464.7 L617.0 464.7 L617.0 475.2 L618.0 475.2 L618.0 475.2 L619.0 475.2 L619.0 465.4 L620.0 465.4 L620.0 455.6 L621.0 455.6 L621.0 455.6 L622.0 455.6 L622.0 455.6 L623.0 455.6 L623.0 455.6 L624.0 455.6 L624.0 466.8 L625.0 466.8 L625.0 455.6 L626.0 455.6 L626.0 455.6 L627.0 455.6 L627.0 455.6 L628.0 455.6 L628.0 460.5 L629.0 460.5 L629.0 460.5 L630.0 460.5 L630.0 482.2 L631.0 482.2 L631.0 482.2 L632.0 482.2 L632.0 463.3 L633.0 463.3 L633.0 463.3 L634.0 463.3 L634.0 463.3 L635.0 463.3 L635.0 462.6 L636.0 462.6 L636.0 462.6 L637.0 462.6 L637.0 462.6 L638.0 462.6 L638.0 462.6 L639.0 462.6 L639.0 482.2 L640.0 482.2 L640.0 459.1 L641.0 459.1 L641.0 459.1 L642.0 459.1 L642.0 470.6 L643.0 470.6 L643.0 482.2 L644.0 482.2 L644.0 482.2 L645.0 482.2 L645.0 472.4 L646.0 472.4 L646.0 472.4 L647.0 472.4 L647.0 472.4 L648.0 472.4 L648.0 472.4 L649.0 472.4 L649.0 460.5 L650.0 460.5 L650.0 460.5 L651.0 460.5 L651.0 460.5 L652.0 460.5 L652.0 469.2 L653.0 469.2 L653.0 478.0 L654.0 478.0 L654.0 478.0 L655.0 478.0 L655.0 472.4 L656.0 472.4 L656.0 466.8 L657.0 466.8 L657.0 466.8 L658.0 466.8 L658.0 466.8 L659.0 466.8 L659.0 466.8 L660.0 466.8 L660.0 466.8 L661.0 466.8 L661.0 466.8 L662.0 466.8 L662.0 468.2 L663.0 468.2 L663.0 469.6 L664.0 469.6 L664.0 469.6 L665.0 469.6 L665.0 461.9 L666.0 461.9 L666.0 461.9 L667.0 461.9 L667.0 452.1 L668.0 452.1 L668.0 452.1 L669.0 452.1 L669.0 459.1 L670.0 459.1 L670.0 466.1 L671.0 466.1 L671.0 466.1 L672.0 466.1 L672.0 470.6 L673.0 470.6 L673.0 475.2 L674.0 475.2 L674.0 475.2 L675.0 475.2 L675.0 475.2 L676.0 475.2 L676.0 471.0 L677.0 471.0 L677.0 466.8 L678.0 466.8 L678.0 466.8 L679.0 466.8 L679.0 480.8 L680.0 480.8 L680.0 494.8 L681.0 494.8 L681.0 494.8 L682.0 494.8 L682.0 478.0 L683.0 478.0 L683.0 478.0 L684.0 478.0 L684.0 473.1 L685.0 473.1 L685.0 468.2 L686.0 468.2 L686.0 463.3 L687.0 463.3 L687.0 463.3 L688.0 463.3 L688.0 466.8 L689.0 466.8 L689.0 466.8 L690.0 466.8 L690.0 466.8 L691.0 466.8 L691.0 492.0 L692.0 492.0 L692.0 492.0 L693.0 492.0 L693.0 468.2 L694.0 468.2 L694.0 468.2 L695.0 468.2 L695.0 468.2 L696.0 468.2 L696.0 468.2 L697.0 468.2 L697.0 468.2 L698.0 468.2 L698.0 472.4 L699.0 472.4 L699.0 476.6 L700.0 476.6 L700.0 476.6 L701.0 476.6 L701.0 467.5 L702.0 467.5 L702.0 467.5 L703.0 467.5 L703.0 467.5 L704.0 467.5 L704.0 467.5 L705.0 467.5 L705.0 464.0 L706.0 464.0 L706.0 464.0 L707.0 464.0 L707.0 471.7 L708.0 471.7 L708.0 479.4 L709.0 479.4 L709.0 479.4 L710.0 479.4 L710.0 478.7 L711.0 478.7 L711.0 478.0 L712.0 478.0 L712.0 478.0 L713.0 478.0 L713.0 449.3 L714.0 449.3 L714.0 449.3 L715.0 449.3 L715.0 454.9 L716.0 454.9 L716.0 454.9 L717.0 454.9 L717.0 464.0 L718.0 464.0 L718.0 473.1 L719.0 473.1 L719.0 473.1 L720.0 473.1 L720.0 463.6 L721.0 463.6 L721.0 454.2 L722.0 454.2 L722.0 454.2 L723.0 454.2 L723.0 454.2 L724.0 454.2 L724.0 454.2 L725.0 454.2 L725.0 454.2 L726.0 454.2 L726.0 471.0 L727.0 471.0 L727.0 475.2 L728.0 475.2 L728.0 479.4 L729.0 479.4 L729.0 479.4 L730.0 479.4 L730.0 480.1 L731.0 480.1 L731.0 480.8 L732.0 480.8 L732.0 449.3 L733.0 449.3 L733.0 449.3 L734.0 449.3 L734.0 449.3 L735.0 449.3 L735.0 479.4 L736.0 479.4 L736.0 479.4 L737.0 479.4 L737.0 465.4 L738.0 465.4 L738.0 465.4 L739.0 465.4 L739.0 465.4 L740.0 465.4 L740.0 465.4 L741.0 465.4 L741.0 465.4 L742.0 465.4 L742.0 478.0 L743.0 478.0 L743.0 478.0 L744.0 478.0 L744.0 462.6 L745.0 462.6 L745.0 462.6 L746.0 462.6 L746.0 472.4 L747.0 472.4 L747.0 482.2 L748.0 482.2 L748.0 482.2 L749.0 482.2 L749.0 460.5 L750.0 460.5 L750.0 460.5 L751.0 460.5 L751.0 460.5 L752.0 460.5 L752.0 460.5 L753.0 460.5 L753.0 489.2 L754.0 489.2 L754.0 489.2 L755.0 489.2 L755.0 489.2 L756.0 489.2 L756.0 471.0 L757.0 471.0 L757.0 471.0 L758.0 471.0 L758.0 471.0 L759.0 471.0 L759.0 471.0 L760.0 471.0 L760.0 459.8 L761.0 459.8 L761.0 459.8 L762.0 459.8 L762.0 459.8 L763.0 459.8 L763.0 459.8 L764.0 459.8 L764.0 473.8 L765.0 473.8 L765.0 487.8 L766.0 487.8 L766.0 487.8 L767.0 487.8 L767.0 465.4 L768.0 465.4 L768.0 465.4 L769.0 465.4 L769.0 465.4 L770.0 465.4 L770.0 468.9 L771.0 468.9 L771.0 472.4 L772.0 472.4 L772.0 472.4 L773.0 472.4 L773.0 472.4 L774.0 472.4 L774.0 476.6 L775.0 476.6 L775.0 476.6 L776.0 476.6 L776.0 471.0 L777.0 471.0 L777.0 465.4 L778.0 465.4 L778.0 465.4 L779.0 465.4 L779.0 465.4 L780.0 465.4 L780.0 465.4 L781.0 465.4 L781.0 477.3 L782.0 477.3 L782.0 477.3 L783.0 477.3 L783.0 477.3 L784.0 477.3 L784.0 477.3 L785.0 477.3 L785.0 477.3 L786.0 477.3 L786.0 464.0 L787.0 464.0 L787.0 464.0 L788.0 464.0 L788.0 468.9 L789.0 468.9 L789.0 473.8 L790.0 473.8 L790.0 473.8 L791.0 473.8 L791.0 469.6 L792.0 469.6 L792.0 469.6 L793.0 469.6 L793.0 469.6 L794.0 469.6 L794.0 469.6 L795.0 469.6 L795.0 478.0 L796.0 478.0 L796.0 478.0 L797.0 478.0 L797.0 478.0 L798.0 478.0 L798.0 455.6 L799.0 455.6 L799.0 455.6 L800.0 455.6 L800.0 492.0 L801.0 492.0 L801.0 492.0 L802.0 492.0 L802.0 480.8 L803.0 480.8 L803.0 480.8 L804.0 480.8 L804.0 467.5 L805.0 467.5 L805.0 454.2 L806.0 454.2 L806.0 454.2 L807.0 454.2 L807.0 454.2 L808.0 454.2 L808.0 457.0 L809.0 457.0 L809.0 459.8 L810.0 459.8 L810.0 459.8 L811.0 459.8 L811.0 455.6 L812.0 455.6 L812.0 454.9 L813.0 454.9 L813.0 454.9 L814.0 454.9 L814.0 460.5 L815.0 460.5 L815.0 460.5 L816.0 460.5 L816.0 468.6 L817.0 468.6 L817.0 476.6 L818.0 476.6 L818.0 476.6 L819.0 476.6 L819.0 475.9 L820.0 475.9 L820.0 475.9 L821.0 475.9 L821.0 475.9 L822.0 475.9 L822.0 463.3 L823.0 463.3 L823.0 463.3 L824.0 463.3 L824.0 464.0 L825.0 464.0 L825.0 471.0 L826.0 471.0 L826.0 471.0 L827.0 471.0 L827.0 476.6 L828.0 476.6 L828.0 482.2 L829.0 482.2 L829.0 465.4 L830.0 465.4 L830.0 465.4 L831.0 465.4 L831.0 459.1 L832.0 459.1 L832.0 452.8 L833.0 452.8 L833.0 452.8 L834.0 452.8 L834.0 452.8 L835.0 452.8 L835.0 473.8 L836.0 473.8 L836.0 473.8 L837.0 473.8 L837.0 464.7 L838.0 464.7 L838.0 464.7 L839.0 464.7 L839.0 464.7 L840.0 464.7 L840.0 459.8 L841.0 459.8 L841.0 454.9 L842.0 454.9 L842.0 454.9 L843.0 454.9 L843.0 454.9 L844.0 454.9 L844.0 482.2 L845.0 482.2 L845.0 482.2 L846.0 482.2 L846.0 469.6 L847.0 469.6 L847.0 469.6 L848.0 469.6 L848.0 462.6 L849.0 462.6 L849.0 462.6 L850.0 462.6 L850.0 471.0 L851.0 471.0 L851.0 447.9 L852.0 447.9 L852.0 447.9 L853.0 447.9 L853.0 447.2 L854.0 447.2 L854.0 446.5 L855.0 446.5 L855.0 446.5 L856.0 446.5 L856.0 470.3 L857.0 470.3 L857.0 470.3 L858.0 470.3 L858.0 470.3 L859.0 470.3 L859.0 461.9 L860.0 461.9 L860.0 453.5 L861.0 453.5 L861.0 453.5 L862.0 453.5 L862.0 456.3 L863.0 456.3 L863.0 459.1 L864.0 459.1 L864.0 459.1 L865.0 459.1 L865.0 475.2 L866.0 475.2 L866.0 475.2 L867.0 475.2 L867.0 475.2 L868.0 475.2 L868.0 475.2 L869.0 475.2 L869.0 473.1 L870.0 473.1 L870.0 471.0 L871.0 471.0 L871.0 471.0 L872.0 471.0 L872.0 483.6 L873.0 483.6 L873.0 483.6 L874.0 483.6 L874.0 468.9 L875.0 468.9 L875.0 468.9 L876.0 468.9 L876.0 464.7 L877.0 464.7 L877.0 460.5 L878.0 460.5 L878.0 460.5 L879.0 460.5 L879.0 450.0 L880.0 450.0 L880.0 450.0 L881.0 450.0 L881.0 459.8 L882.0 459.8 L882.0 469.6 L883.0 469.6 L883.0 469.6 L884.0 469.6 L884.0 465.4 L885.0 465.4 L885.0 465.4 L886.0 465.4 L886.0 465.4 L887.0 465.4 L887.0 465.4 L888.0 465.4 L888.0 473.8 L889.0 473.8 L889.0 473.8 L890.0 473.8 L890.0 480.5 L891.0 480.5 L891.0 487.1 L892.0 487.1 L892.0 487.1 L893.0 487.1 L893.0 457.0 L894.0 457.0 L894.0 457.0 L895.0 457.0 L895.0 486.4 L896.0 486.4 L896.0 486.4 L897.0 486.4 L897.0 457.7 L898.0 457.7 L898.0 457.7 L899.0 457.7 L899.0 485.0 L900.0 485.0 L900.0 548.0 L899.0 548.0 L899.0 548.0 L898.0 548.0 L898.0 541.0 L897.0 541.0 L897.0 534.0 L896.0 534.0 L896.0 534.0 L895.0 534.0 L895.0 542.4 L894.0 542.4 L894.0 550.8 L893.0 550.8 L893.0 550.8 L892.0 550.8 L892.0 550.8 L891.0 550.8 L891.0 550.8 L890.0 550.8 L890.0 550.8 L889.0 550.8 L889.0 550.8 L888.0 550.8 L888.0 546.6 L887.0 546.6 L887.0 542.4 L886.0 542.4 L886.0 538.2 L885.0 538.2 L885.0 538.2 L884.0 538.2 L884.0 555.0 L883.0 555.0 L883.0 555.0 L882.0 555.0 L882.0 555.0 L881.0 555.0 L881.0 555.0 L880.0 555.0 L880.0 548.0 L879.0 548.0 L879.0 541.0 L878.0 541.0 L878.0 534.0 L877.0 534.0 L877.0 534.0 L876.0 534.0 L876.0 542.9 L875.0 542.9 L875.0 551.7 L874.0 551.7 L874.0 560.6 L873.0 560.6 L873.0 560.6 L872.0 560.6 L872.0 551.7 L871.0 551.7 L871.0 542.9 L870.0 542.9 L870.0 534.0 L869.0 534.0 L869.0 534.0 L868.0 534.0 L868.0 546.6 L867.0 546.6 L867.0 559.2 L866.0 559.2 L866.0 559.2 L865.0 559.2 L865.0 556.2 L864.0 556.2 L864.0 553.1 L863.0 553.1 L863.0 550.1 L862.0 550.1 L862.0 550.1 L861.0 550.1 L861.0 540.7 L860.0 540.7 L860.0 531.2 L859.0 531.2 L859.0 531.2 L858.0 531.2 L858.0 543.8 L857.0 543.8 L857.0 556.4 L856.0 556.4 L856.0 556.4 L855.0 556.4 L855.0 548.5 L854.0 548.5 L854.0 540.5 L853.0 540.5 L853.0 532.6 L852.0 532.6 L852.0 532.6 L851.0 532.6 L851.0 532.6 L850.0 532.6 L850.0 532.6 L849.0 532.6 L849.0 541.0 L848.0 541.0 L848.0 549.4 L847.0 549.4 L847.0 557.8 L846.0 557.8 L846.0 557.8 L845.0 557.8 L845.0 544.5 L844.0 544.5 L844.0 531.2 L843.0 531.2 L843.0 531.2 L842.0 531.2 L842.0 536.5 L841.0 536.5 L841.0 541.7 L840.0 541.7 L840.0 547.0 L839.0 547.0 L839.0 552.2 L838.0 552.2 L838.0 552.2 L837.0 552.2 L837.0 552.2 L836.0 552.2 L836.0 552.2 L835.0 552.2 L835.0 552.2 L834.0 552.2 L834.0 552.2 L833.0 552.2 L833.0 542.4 L832.0 542.4 L832.0 532.6 L831.0 532.6 L831.0 532.6 L830.0 532.6 L830.0 538.2 L829.0 538.2 L829.0 543.8 L828.0 543.8 L828.0 549.4 L827.0 549.4 L827.0 549.4 L826.0 549.4 L826.0 549.4 L825.0 549.4 L825.0 534.0 L824.0 534.0 L824.0 541.0 L823.0 541.0 L823.0 541.0 L822.0 541.0 L822.0 547.3 L821.0 547.3 L821.0 553.6 L820.0 553.6 L820.0 553.6 L819.0 553.6 L819.0 553.6 L818.0 553.6 L818.0 553.6 L817.0 553.6 L817.0 553.6 L816.0 553.6 L816.0 532.6 L815.0 532.6 L815.0 532.6 L814.0 532.6 L814.0 532.6 L813.0 532.6 L813.0 542.4 L812.0 542.4 L812.0 552.2 L811.0 552.2 L811.0 552.2 L810.0 552.2 L810.0 552.2 L809.0 552.2 L809.0 552.2 L808.0 552.2 L808.0 546.1 L807.0 546.1 L807.0 540.1 L806.0 540.1 L806.0 534.0 L805.0 534.0 L805.0 534.0 L804.0 534.0 L804.0 540.1 L803.0 540.1 L803.0 546.1 L802.0 546.1 L802.0 552.2 L801.0 552.2 L801.0 552.2 L800.0 552.2 L800.0 548.4 L799.0 548.4 L799.0 544.5 L798.0 544.5 L798.0 540.6 L797.0 540.6 L797.0 536.8 L796.0 536.8 L796.0 536.8 L795.0 536.8 L795.0 536.8 L794.0 536.8 L794.0 546.2 L793.0 546.2 L793.0 555.7 L792.0 555.7 L792.0 555.7 L791.0 555.7 L791.0 555.7 L790.0 555.7 L790.0 548.9 L789.0 548.9 L789.0 542.2 L788.0 542.2 L788.0 535.4 L787.0 535.4 L787.0 535.4 L786.0 535.4 L786.0 541.9 L785.0 541.9 L785.0 548.5 L784.0 548.5 L784.0 555.0 L783.0 555.0 L783.0 555.0 L782.0 555.0 L782.0 555.0 L781.0 555.0 L781.0 555.0 L780.0 555.0 L780.0 544.5 L779.0 544.5 L779.0 534.0 L778.0 534.0 L778.0 534.0 L777.0 534.0 L777.0 541.7 L776.0 541.7 L776.0 549.4 L775.0 549.4 L775.0 549.4 L774.0 549.4 L774.0 549.4 L773.0 549.4 L773.0 549.4 L772.0 549.4 L772.0 543.1 L771.0 543.1 L771.0 536.8 L770.0 536.8 L770.0 536.8 L769.0 536.8 L769.0 543.1 L768.0 543.1 L768.0 549.4 L767.0 549.4 L767.0 555.7 L766.0 555.7 L766.0 555.7 L765.0 555.7 L765.0 555.7 L764.0 555.7 L764.0 555.7 L763.0 555.7 L763.0 550.3 L762.0 550.3 L762.0 544.9 L761.0 544.9 L761.0 539.4 L760.0 539.4 L760.0 534.0 L759.0 534.0 L759.0 534.0 L758.0 534.0 L758.0 534.0 L757.0 534.0 L757.0 543.8 L756.0 543.8 L756.0 553.6 L755.0 553.6 L755.0 553.6 L754.0 553.6 L754.0 553.6 L753.0 553.6 L753.0 546.6 L752.0 546.6 L752.0 546.6 L751.0 546.6 L751.0 546.6 L750.0 546.6 L750.0 540.3 L749.0 540.3 L749.0 534.0 L748.0 534.0 L748.0 534.0 L747.0 534.0 L747.0 534.0 L746.0 534.0 L746.0 559.2 L745.0 559.2 L745.0 559.2 L744.0 559.2 L744.0 552.2 L743.0 552.2 L743.0 545.2 L742.0 545.2 L742.0 538.2 L741.0 538.2 L741.0 531.2 L740.0 531.2 L740.0 531.2 L739.0 531.2 L739.0 554.3 L738.0 554.3 L738.0 554.3 L737.0 554.3 L737.0 554.3 L736.0 554.3 L736.0 553.2 L735.0 553.2 L735.0 552.2 L734.0 552.2 L734.0 552.2 L733.0 552.2 L733.0 543.1 L732.0 543.1 L732.0 534.0 L731.0 534.0 L731.0 534.0 L730.0 534.0 L730.0 545.2 L729.0 545.2 L729.0 556.4 L728.0 556.4 L728.0 556.4 L727.0 556.4 L727.0 550.1 L726.0 550.1 L726.0 543.8 L725.0 543.8 L725.0 543.8 L724.0 543.8 L724.0 531.2 L723.0 531.2 L723.0 531.2 L722.0 531.2 L722.0 543.8 L721.0 543.8 L721.0 556.4 L720.0 556.4 L720.0 556.4 L719.0 556.4 L719.0 556.4 L718.0 556.4 L718.0 556.4 L717.0 556.4 L717.0 549.4 L716.0 549.4 L716.0 542.4 L715.0 542.4 L715.0 542.4 L714.0 542.4 L714.0 546.1 L713.0 546.1 L713.0 549.9 L712.0 549.9 L712.0 553.6 L711.0 553.6 L711.0 553.6 L710.0 553.6 L710.0 553.6 L709.0 553.6 L709.0 553.6 L708.0 553.6 L708.0 548.7 L707.0 548.7 L707.0 543.8 L706.0 543.8 L706.0 538.9 L705.0 538.9 L705.0 534.0 L704.0 534.0 L704.0 534.0 L703.0 534.0 L703.0 534.0 L702.0 534.0 L702.0 548.0 L701.0 548.0 L701.0 562.0 L700.0 562.0 L700.0 562.0 L699.0 562.0 L699.0 562.0 L698.0 562.0 L698.0 562.0 L697.0 562.0 L697.0 547.3 L696.0 547.3 L696.0 532.6 L695.0 532.6 L695.0 532.6 L694.0 532.6 L694.0 545.2 L693.0 545.2 L693.0 557.8 L692.0 557.8 L692.0 557.8 L691.0 557.8 L691.0 557.8 L690.0 557.8 L690.0 549.4 L689.0 549.4 L689.0 541.0 L688.0 541.0 L688.0 532.6 L687.0 532.6 L687.0 532.6 L686.0 532.6 L686.0 542.4 L685.0 542.4 L685.0 542.4 L684.0 542.4 L684.0 542.4 L683.0 542.4 L683.0 547.5 L682.0 547.5 L682.0 552.7 L681.0 552.7 L681.0 557.8 L680.0 557.8 L680.0 557.8 L679.0 557.8 L679.0 549.4 L678.0 549.4 L678.0 541.0 L677.0 541.0 L677.0 532.6 L676.0 532.6 L676.0 532.6 L675.0 532.6 L675.0 548.0 L674.0 548.0 L674.0 563.4 L673.0 563.4 L673.0 563.4 L672.0 563.4 L672.0 551.5 L671.0 551.5 L671.0 539.6 L670.0 539.6 L670.0 539.6 L669.0 539.6 L669.0 541.0 L668.0 541.0 L668.0 542.4 L667.0 542.4 L667.0 542.4 L666.0 542.4 L666.0 546.6 L665.0 546.6 L665.0 550.8 L664.0 550.8 L664.0 550.8 L663.0 550.8 L663.0 550.8 L662.0 550.8 L662.0 545.7 L661.0 545.7 L661.0 540.5 L660.0 540.5 L660.0 535.4 L659.0 535.4 L659.0 535.4 L658.0 535.4 L658.0 543.8 L657.0 543.8 L657.0 552.2 L656.0 552.2 L656.0 560.6 L655.0 560.6 L655.0 560.6 L654.0 560.6 L654.0 554.3 L653.0 554.3 L653.0 548.0 L652.0 548.0 L652.0 548.0 L651.0 548.0 L651.0 548.0 L650.0 548.0 L650.0 545.9 L649.0 545.9 L649.0 543.8 L648.0 543.8 L648.0 543.8 L647.0 543.8 L647.0 543.8 L646.0 543.8 L646.0 557.8 L645.0 557.8 L645.0 557.8 L644.0 557.8 L644.0 557.8 L643.0 557.8 L643.0 545.9 L642.0 545.9 L642.0 534.0 L641.0 534.0 L641.0 534.0 L640.0 534.0 L640.0 534.0 L639.0 534.0 L639.0 557.8 L638.0 557.8 L638.0 557.8 L637.0 557.8 L637.0 554.5 L636.0 554.5 L636.0 551.3 L635.0 551.3 L635.0 548.0 L634.0 548.0 L634.0 548.0 L633.0 548.0 L633.0 548.0 L632.0 548.0 L632.0 531.2 L631.0 531.2 L631.0 531.2 L630.0 531.2 L630.0 559.2 L629.0 559.2 L629.0 559.2 L628.0 559.2 L628.0 559.2 L627.0 559.2 L627.0 559.2 L626.0 559.2 L626.0 546.6 L625.0 546.6 L625.0 546.6 L624.0 546.6 L624.0 534.0 L623.0 534.0 L623.0 534.0 L622.0 534.0 L622.0 534.0 L621.0 534.0 L621.0 546.6 L620.0 546.6 L620.0 559.2 L619.0 559.2 L619.0 559.2 L618.0 559.2 L618.0 559.2 L617.0 559.2 L617.0 559.2 L616.0 559.2 L616.0 550.3 L615.0 550.3 L615.0 541.5 L614.0 541.5 L614.0 532.6 L613.0 532.6 L613.0 532.6 L612.0 532.6 L612.0 552.2 L611.0 552.2 L611.0 552.2 L610.0 552.2 L610.0 552.2 L609.0 552.2 L609.0 552.2 L608.0 552.2 L608.0 552.2 L607.0 552.2 L607.0 552.2 L606.0 552.2 L606.0 547.1 L605.0 547.1 L605.0 541.9 L604.0 541.9 L604.0 536.8 L603.0 536.8 L603.0 536.8 L602.0 536.8 L602.0 542.4 L601.0 542.4 L601.0 548.0 L600.0 548.0 L600.0 553.6 L599.0 553.6 L599.0 553.6 L598.0 553.6 L598.0 542.4 L597.0 542.4 L597.0 531.2 L596.0 531.2 L596.0 531.2 L595.0 531.2 L595.0 537.3 L594.0 537.3 L594.0 543.3 L593.0 543.3 L593.0 549.4 L592.0 549.4 L592.0 549.4 L591.0 549.4 L591.0 549.4 L590.0 549.4 L590.0 549.4 L589.0 549.4 L589.0 549.4 L588.0 549.4 L588.0 536.8 L587.0 536.8 L587.0 536.8 L586.0 536.8 L586.0 542.6 L585.0 542.6 L585.0 548.5 L584.0 548.5 L584.0 554.3 L583.0 554.3 L583.0 554.3 L582.0 554.3 L582.0 554.3 L581.0 554.3 L581.0 554.3 L580.0 554.3 L580.0 548.5 L579.0 548.5 L579.0 542.6 L578.0 542.6 L578.0 536.8 L577.0 536.8 L577.0 536.8 L576.0 536.8 L576.0 543.8 L575.0 543.8 L575.0 550.8 L574.0 550.8 L574.0 557.8 L573.0 557.8 L573.0 557.8 L572.0 557.8 L572.0 557.8 L571.0 557.8 L571.0 557.8 L570.0 557.8 L570.0 546.6 L569.0 546.6 L569.0 535.4 L568.0 535.4 L568.0 535.4 L567.0 535.4 L567.0 541.7 L566.0 541.7 L566.0 548.0 L565.0 548.0 L565.0 548.0 L564.0 548.0 L564.0 548.0 L563.0 548.0 L563.0 553.6 L562.0 553.6 L562.0 553.6 L561.0 553.6 L561.0 553.6 L560.0 553.6 L560.0 535.4 L559.0 535.4 L559.0 535.4 L558.0 535.4 L558.0 541.0 L557.0 541.0 L557.0 546.6 L556.0 546.6 L556.0 552.2 L555.0 552.2 L555.0 552.2 L554.0 552.2 L554.0 552.2 L553.0 552.2 L553.0 552.2 L552.0 552.2 L552.0 552.2 L551.0 552.2 L551.0 552.2 L550.0 552.2 L550.0 548.7 L549.0 548.7 L549.0 545.2 L548.0 545.2 L548.0 545.2 L547.0 545.2 L547.0 557.8 L546.0 557.8 L546.0 557.8 L545.0 557.8 L545.0 552.2 L544.0 552.2 L544.0 546.6 L543.0 546.6 L543.0 546.6 L542.0 546.6 L542.0 538.9 L541.0 538.9 L541.0 531.2 L540.0 531.2 L540.0 531.2 L539.0 531.2 L539.0 545.2 L538.0 545.2 L538.0 559.2 L537.0 559.2 L537.0 559.2 L536.0 559.2 L536.0 555.7 L535.0 555.7 L535.0 552.2 L534.0 552.2 L534.0 552.2 L533.0 552.2 L533.0 552.2 L532.0 552.2 L532.0 543.1 L531.0 543.1 L531.0 534.0 L530.0 534.0 L530.0 534.0 L529.0 534.0 L529.0 560.6 L528.0 560.6 L528.0 560.6 L527.0 560.6 L527.0 557.8 L526.0 557.8 L526.0 555.0 L525.0 555.0 L525.0 555.0 L524.0 555.0 L524.0 546.6 L523.0 546.6 L523.0 546.6 L522.0 546.6 L522.0 546.6 L521.0 546.6 L521.0 548.5 L520.0 548.5 L520.0 550.3 L519.0 550.3 L519.0 552.2 L518.0 552.2 L518.0 552.2 L517.0 552.2 L517.0 552.2 L516.0 552.2 L516.0 552.2 L515.0 552.2 L515.0 545.7 L514.0 545.7 L514.0 539.1 L513.0 539.1 L513.0 532.6 L512.0 532.6 L512.0 532.6 L511.0 532.6 L511.0 540.5 L510.0 540.5 L510.0 548.5 L509.0 548.5 L509.0 556.4 L508.0 556.4 L508.0 556.4 L507.0 556.4 L507.0 548.9 L506.0 548.9 L506.0 541.5 L505.0 541.5 L505.0 534.0 L504.0 534.0 L504.0 534.0 L503.0 534.0 L503.0 540.3 L502.0 540.3 L502.0 546.6 L501.0 546.6 L501.0 546.6 L500.0 546.6 L500.0 547.3 L499.0 547.3 L499.0 548.0 L498.0 548.0 L498.0 548.0 L497.0 548.0 L497.0 534.0 L496.0 534.0 L496.0 534.0 L495.0 534.0 L495.0 541.0 L494.0 541.0 L494.0 548.0 L493.0 548.0 L493.0 548.0 L492.0 548.0 L492.0 548.0 L491.0 548.0 L491.0 550.5 L490.0 550.5 L490.0 552.9 L489.0 552.9 L489.0 552.9 L488.0 552.9 L488.0 552.9 L487.0 552.9 L487.0 543.5 L486.0 543.5 L486.0 534.0 L485.0 534.0 L485.0 534.0 L484.0 534.0 L484.0 543.1 L483.0 543.1 L483.0 552.2 L482.0 552.2 L482.0 552.2 L481.0 552.2 L481.0 552.2 L480.0 552.2 L480.0 552.2 L479.0 552.2 L479.0 546.1 L478.0 546.1 L478.0 540.1 L477.0 540.1 L477.0 534.0 L476.0 534.0 L476.0 534.0 L475.0 534.0 L475.0 546.2 L474.0 546.2 L474.0 558.5 L473.0 558.5 L473.0 558.5 L472.0 558.5 L472.0 542.4 L471.0 542.4 L471.0 542.4 L470.0 542.4 L470.0 542.4 L469.0 542.4 L469.0 536.8 L468.0 536.8 L468.0 531.2 L467.0 531.2 L467.0 531.2 L466.0 531.2 L466.0 545.2 L465.0 545.2 L465.0 559.2 L464.0 559.2 L464.0 559.2 L463.0 559.2 L463.0 550.8 L462.0 550.8 L462.0 550.8 L461.0 550.8 L461.0 550.8 L460.0 550.8 L460.0 535.4 L459.0 535.4 L459.0 535.4 L458.0 535.4 L458.0 552.2 L457.0 552.2 L457.0 552.2 L456.0 552.2 L456.0 552.2 L455.0 552.2 L455.0 552.2 L454.0 552.2 L454.0 548.7 L453.0 548.7 L453.0 545.2 L452.0 545.2 L452.0 545.2 L451.0 545.2 L451.0 540.5 L450.0 540.5 L450.0 535.9 L449.0 535.9 L449.0 531.2 L448.0 531.2 L448.0 531.2 L447.0 531.2 L447.0 543.8 L446.0 543.8 L446.0 556.4 L445.0 556.4 L445.0 556.4 L444.0 556.4 L444.0 550.8 L443.0 550.8 L443.0 545.2 L442.0 545.2 L442.0 545.2 L441.0 545.2 L441.0 534.0 L440.0 534.0 L440.0 534.0 L439.0 534.0 L439.0 539.1 L438.0 539.1 L438.0 544.3 L437.0 544.3 L437.0 549.4 L436.0 549.4 L436.0 549.4 L435.0 549.4 L435.0 546.6 L434.0 546.6 L434.0 543.8 L433.0 543.8 L433.0 543.8 L432.0 543.8 L432.0 543.8 L431.0 543.8 L431.0 532.6 L430.0 532.6 L430.0 532.6 L429.0 532.6 L429.0 544.5 L428.0 544.5 L428.0 556.4 L427.0 556.4 L427.0 556.4 L426.0 556.4 L426.0 556.4 L425.0 556.4 L425.0 556.4 L424.0 556.4 L424.0 542.4 L423.0 542.4 L423.0 542.4 L422.0 542.4 L422.0 542.4 L421.0 542.4 L421.0 546.6 L420.0 546.6 L420.0 550.8 L419.0 550.8 L419.0 555.0 L418.0 555.0 L418.0 555.0 L417.0 555.0 L417.0 555.0 L416.0 555.0 L416.0 548.9 L415.0 548.9 L415.0 542.9 L414.0 542.9 L414.0 536.8 L413.0 536.8 L413.0 536.8 L412.0 536.8 L412.0 544.3 L411.0 544.3 L411.0 551.7 L410.0 551.7 L410.0 559.2 L409.0 559.2 L409.0 559.2 L408.0 559.2 L408.0 548.0 L407.0 548.0 L407.0 548.0 L406.0 548.0 L406.0 548.0 L405.0 548.0 L405.0 543.8 L404.0 543.8 L404.0 539.6 L403.0 539.6 L403.0 539.6 L402.0 539.6 L402.0 544.7 L401.0 544.7 L401.0 549.9 L400.0 549.9 L400.0 555.0 L399.0 555.0 L399.0 555.0 L398.0 555.0 L398.0 545.2 L397.0 545.2 L397.0 545.2 L396.0 545.2 L396.0 545.2 L395.0 545.2 L395.0 534.0 L394.0 534.0 L394.0 534.0 L393.0 534.0 L393.0 543.8 L392.0 543.8 L392.0 553.6 L391.0 553.6 L391.0 553.6 L390.0 553.6 L390.0 553.6 L389.0 553.6 L389.0 553.6 L388.0 553.6 L388.0 531.2 L387.0 531.2 L387.0 531.2 L386.0 531.2 L386.0 536.8 L385.0 536.8 L385.0 542.4 L384.0 542.4 L384.0 542.4 L383.0 542.4 L383.0 546.1 L382.0 546.1 L382.0 549.9 L381.0 549.9 L381.0 553.6 L380.0 553.6 L380.0 553.6 L379.0 553.6 L379.0 553.6 L378.0 553.6 L378.0 532.6 L377.0 532.6 L377.0 532.6 L376.0 532.6 L376.0 540.5 L375.0 540.5 L375.0 548.5 L374.0 548.5 L374.0 556.4 L373.0 556.4 L373.0 556.4 L372.0 556.4 L372.0 552.2 L371.0 552.2 L371.0 548.0 L370.0 548.0 L370.0 548.0 L369.0 548.0 L369.0 532.6 L368.0 532.6 L368.0 532.6 L367.0 532.6 L367.0 539.6 L366.0 539.6 L366.0 546.6 L365.0 546.6 L365.0 546.6 L364.0 546.6 L364.0 549.4 L363.0 549.4 L363.0 552.2 L362.0 552.2 L362.0 552.2 L361.0 552.2 L361.0 552.2 L360.0 552.2 L360.0 532.6 L359.0 532.6 L359.0 532.6 L358.0 532.6 L358.0 540.3 L357.0 540.3 L357.0 548.0 L356.0 548.0 L356.0 548.0 L355.0 548.0 L355.0 548.0 L354.0 548.0 L354.0 550.8 L353.0 550.8 L353.0 553.6 L352.0 553.6 L352.0 553.6 L351.0 553.6 L351.0 553.6 L350.0 553.6 L350.0 545.9 L349.0 545.9 L349.0 538.2 L348.0 538.2 L348.0 538.2 L347.0 538.2 L347.0 551.2 L346.0 551.2 L346.0 564.1 L345.0 564.1 L345.0 564.1 L344.0 564.1 L344.0 552.2 L343.0 552.2 L343.0 552.2 L342.0 552.2 L342.0 552.2 L341.0 552.2 L341.0 544.5 L340.0 544.5 L340.0 536.8 L339.0 536.8 L339.0 553.6 L338.0 553.6 L338.0 553.6 L337.0 553.6 L337.0 549.0 L336.0 549.0 L336.0 544.5 L335.0 544.5 L335.0 544.5 L334.0 544.5 L334.0 544.5 L333.0 544.5 L333.0 544.5 L332.0 544.5 L332.0 534.0 L331.0 534.0 L331.0 534.0 L330.0 534.0 L330.0 548.0 L329.0 548.0 L329.0 548.0 L328.0 548.0 L328.0 548.0 L327.0 548.0 L327.0 551.5 L326.0 551.5 L326.0 555.0 L325.0 555.0 L325.0 555.0 L324.0 555.0 L324.0 543.8 L323.0 543.8 L323.0 543.8 L322.0 543.8 L322.0 531.2 L321.0 531.2 L321.0 531.2 L320.0 531.2 L320.0 543.5 L319.0 543.5 L319.0 555.7 L318.0 555.7 L318.0 555.7 L317.0 555.7 L317.0 555.7 L316.0 555.7 L316.0 546.6 L315.0 546.6 L315.0 546.6 L314.0 546.6 L314.0 544.5 L313.0 544.5 L313.0 542.4 L312.0 542.4 L312.0 542.4 L311.0 542.4 L311.0 548.0 L310.0 548.0 L310.0 553.6 L309.0 553.6 L309.0 559.2 L308.0 559.2 L308.0 559.2 L307.0 559.2 L307.0 552.2 L306.0 552.2 L306.0 552.2 L305.0 552.2 L305.0 545.2 L304.0 545.2 L304.0 538.2 L303.0 538.2 L303.0 538.2 L302.0 538.2 L302.0 556.4 L301.0 556.4 L301.0 556.4 L300.0 556.4 L300.0 556.4 L299.0 556.4 L299.0 550.8 L298.0 550.8 L298.0 545.2 L297.0 545.2 L297.0 545.2 L296.0 545.2 L296.0 545.2 L295.0 545.2 L295.0 534.0 L294.0 534.0 L294.0 534.0 L293.0 534.0 L293.0 540.1 L292.0 540.1 L292.0 546.1 L291.0 546.1 L291.0 552.2 L290.0 552.2 L290.0 552.2 L289.0 552.2 L289.0 552.2 L288.0 552.2 L288.0 552.2 L287.0 552.2 L287.0 541.7 L286.0 541.7 L286.0 531.2 L285.0 531.2 L285.0 531.2 L284.0 531.2 L284.0 544.5 L283.0 544.5 L283.0 557.8 L282.0 557.8 L282.0 557.8 L281.0 557.8 L281.0 556.4 L280.0 556.4 L280.0 555.0 L279.0 555.0 L279.0 555.0 L278.0 555.0 L278.0 555.0 L277.0 555.0 L277.0 534.0 L276.0 534.0 L276.0 534.0 L275.0 534.0 L275.0 543.1 L274.0 543.1 L274.0 552.2 L273.0 552.2 L273.0 552.2 L272.0 552.2 L272.0 552.2 L271.0 552.2 L271.0 552.2 L270.0 552.2 L270.0 552.2 L269.0 552.2 L269.0 552.2 L268.0 552.2 L268.0 534.0 L267.0 534.0 L267.0 534.0 L266.0 534.0 L266.0 547.3 L265.0 547.3 L265.0 560.6 L264.0 560.6 L264.0 560.6 L263.0 560.6 L263.0 560.6 L262.0 560.6 L262.0 553.6 L261.0 553.6 L261.0 546.6 L260.0 546.6 L260.0 546.6 L259.0 546.6 L259.0 546.6 L258.0 546.6 L258.0 542.4 L257.0 542.4 L257.0 542.4 L256.0 542.4 L256.0 542.4 L255.0 542.4 L255.0 542.4 L254.0 542.4 L254.0 545.9 L253.0 545.9 L253.0 549.4 L252.0 549.4 L252.0 549.4 L251.0 549.4 L251.0 534.0 L250.0 534.0 L250.0 534.0 L249.0 534.0 L249.0 541.2 L248.0 541.2 L248.0 548.5 L247.0 548.5 L247.0 555.7 L246.0 555.7 L246.0 555.7 L245.0 555.7 L245.0 552.5 L244.0 552.5 L244.0 549.4 L243.0 549.4 L243.0 549.4 L242.0 549.4 L242.0 549.4 L241.0 549.4 L241.0 541.7 L240.0 541.7 L240.0 534.0 L239.0 534.0 L239.0 534.0 L238.0 534.0 L238.0 534.0 L237.0 534.0 L237.0 559.9 L236.0 559.9 L236.0 559.9 L235.0 559.9 L235.0 553.6 L234.0 553.6 L234.0 553.6 L233.0 553.6 L233.0 553.6 L232.0 553.6 L232.0 543.1 L231.0 543.1 L231.0 532.6 L230.0 532.6 L230.0 532.6 L229.0 532.6 L229.0 541.0 L228.0 541.0 L228.0 549.4 L227.0 549.4 L227.0 549.4 L226.0 549.4 L226.0 549.4 L225.0 549.4 L225.0 549.4 L224.0 549.4 L224.0 542.4 L223.0 542.4 L223.0 542.4 L222.0 542.4 L222.0 542.4 L221.0 542.4 L221.0 550.8 L220.0 550.8 L220.0 550.8 L219.0 550.8 L219.0 557.5 L218.0 557.5 L218.0 564.1 L217.0 564.1 L217.0 564.1 L216.0 564.1 L216.0 551.2 L215.0 551.2 L215.0 538.2 L214.0 538.2 L214.0 538.2 L213.0 538.2 L213.0 538.2 L212.0 538.2 L212.0 542.4 L211.0 542.4 L211.0 542.4 L210.0 542.4 L210.0 542.4 L209.0 542.4 L209.0 555.7 L208.0 555.7 L208.0 555.7 L207.0 555.7 L207.0 551.9 L206.0 551.9 L206.0 548.0 L205.0 548.0 L205.0 548.0 L204.0 548.0 L204.0 544.1 L203.0 544.1 L203.0 540.3 L202.0 540.3 L202.0 540.3 L201.0 540.3 L201.0 540.3 L200.0 540.3 L200.0 555.0 L199.0 555.0 L199.0 555.0 L198.0 555.0 L198.0 555.0 L197.0 555.0 L197.0 545.2 L196.0 545.2 L196.0 545.2 L195.0 545.2 L195.0 541.0 L194.0 541.0 L194.0 536.8 L193.0 536.8 L193.0 536.8 L192.0 536.8 L192.0 548.0 L191.0 548.0 L191.0 559.2 L190.0 559.2 L190.0 559.2 L189.0 559.2 L189.0 554.3 L188.0 554.3 L188.0 549.4 L187.0 549.4 L187.0 549.4 L186.0 549.4 L186.0 545.9 L185.0 545.9 L185.0 542.4 L184.0 542.4 L184.0 542.4 L183.0 542.4 L183.0 549.8 L182.0 549.8 L182.0 557.1 L181.0 557.1 L181.0 557.1 L180.0 557.1 L180.0 542.4 L179.0 542.4 L179.0 542.4 L178.0 542.4 L178.0 537.5 L177.0 537.5 L177.0 532.6 L176.0 532.6 L176.0 532.6 L175.0 532.6 L175.0 553.6 L174.0 553.6 L174.0 553.6 L173.0 553.6 L173.0 565.5 L172.0 565.5 L172.0 565.5 L171.0 565.5 L171.0 552.2 L170.0 552.2 L170.0 552.2 L169.0 552.2 L169.0 552.2 L168.0 552.2 L168.0 548.7 L167.0 548.7 L167.0 545.2 L166.0 545.2 L166.0 545.2 L165.0 545.2 L165.0 553.6 L164.0 553.6 L164.0 553.6 L163.0 553.6 L163.0 553.6 L162.0 553.6 L162.0 553.6 L161.0 553.6 L161.0 553.6 L160.0 553.6 L160.0 553.6 L159.0 553.6 L159.0 544.5 L158.0 544.5 L158.0 535.4 L157.0 535.4 L157.0 535.4 L156.0 535.4 L156.0 535.4 L155.0 535.4 L155.0 546.2 L154.0 546.2 L154.0 557.1 L153.0 557.1 L153.0 557.1 L152.0 557.1 L152.0 557.1 L151.0 557.1 L151.0 542.4 L150.0 542.4 L150.0 542.4 L149.0 542.4 L149.0 541.0 L148.0 541.0 L148.0 539.6 L147.0 539.6 L147.0 539.6 L146.0 539.6 L146.0 539.6 L145.0 539.6 L145.0 545.9 L144.0 545.9 L144.0 552.2 L143.0 552.2 L143.0 552.2 L142.0 552.2 L142.0 552.2 L141.0 552.2 L141.0 544.5 L140.0 544.5 L140.0 536.8 L139.0 536.8 L139.0 536.8 L138.0 536.8 L138.0 545.2 L137.0 545.2 L137.0 553.6 L136.0 553.6 L136.0 553.6 L135.0 553.6 L135.0 553.6 L134.0 553.6 L134.0 553.6 L133.0 553.6 L133.0 553.6 L132.0 553.6 L132.0 534.0 L131.0 534.0 L131.0 534.0 L130.0 534.0 L130.0 545.9 L129.0 545.9 L129.0 545.9 L128.0 545.9 L128.0 550.8 L127.0 550.8 L127.0 550.8 L126.0 550.8 L126.0 550.8 L125.0 550.8Z" fill="#1f77b4"/>
<rect x="125" y="663.37" width="775" height="2.08" fill="#1f77b4"/>
<rect x="125" y="822.68" width="775" height="2.08" fill="#1f77b4"/>
<rect x="125.5" y="120.5" width="775" height="133.0" fill="none" stroke="#000" stroke-width="1.11"/>
<rect x="125.5" y="279.5" width="775" height="133.0" fill="none" stroke="#000" stroke-width="1.11"/>
<rect x="125.5" y="438.5" width="775" height="133.0" fill="none" stroke="#000" stroke-width="1.11"/>
<rect x="125.5" y="597.5" width="775" height="134.0" fill="none" stroke="#000" stroke-width="1.11"/>
<rect x="125.5" y="757.5" width="775" height="133.0" fill="none" stroke="#000" stroke-width="1.11"/>
<path d="M125.5 253.50v4.86 M171.5 253.50v4.86 M216.5 253.50v2.78 M262.5 253.50v4.86 M307.5 253.50v2.78 M353.5 253.50v4.86 M399.5 253.50v2.78 M444.5 253.50v4.86 M490.5 253.50v2.78 M535.5 253.50v4.86 M581.5 253.50v2.78 M626.5 253.50v4.86 M672.5 253.50v2.78 M718.5 253.50v4.86 M763.5 253.50v2.78 M809.5 253.50v4.86 M854.5 253.50v2.78 M900.5 253.50v4.86 M125.5 412.50v4.86 M171.5 412.50v4.86 M216.5 412.50v2.78 M262.5 412.50v4.86 M307.5 412.50v2.78 M353.5 412.50v4.86 M399.5 412.50v2.78 M444.5 412.50v4.86 M490.5 412.50v2.78 M535.5 412.50v4.86 M581.5 412.50v2.78 M626.5 412.50v4.86 M672.5 412.50v2.78 M718.5 412.50v4.86 M763.5 412.50v2.78 M809.5 412.50v4.86 M854.5 412.50v2.78 M900.5 412.50v4.86 M125.5 571.50v4.86 M171.5 571.50v4.86 M216.5 571.50v2.78 M262.5 571.50v4.86 M307.5 571.50v2.78 M353.5 571.50v4.86 M399.5 571.50v2.78 M444.5 571.50v4.86 M490.5 571.50v2.78 M535.5 571.50v4.86 M581.5 571.50v2.78 M626.5 571.50v4.86 M672.5 571.50v2.78 M718.5 571.50v4.86 M763.5 571.50v2.78 M809.5 571.50v4.86 M854.5 571.50v2.78 M900.5 571.50v4.86 M125.5 731.50v4.86 M171.5 731.50v4.86 M216.5 731.50v2.78 M262.5 731.50v4.86 M307.5 731.50v2.78 M353.5 731.50v4.86 M399.5 731.50v2.78 M444.5 731.50v4.86 M490.5 731.50v2.78 M535.5 731.50v4.86 M581.5 731.50v2.78 M626.5 731.50v4.86 M672.5 731.50v2.78 M718.5 731.50v4.86 M763.5 731.50v2.78 M809.5 731.50v4.86 M854.5 731.50v2.78 M900.5 731.50v4.86 M125.5 890.50v4.86 M171.5 890.50v4.86 M216.5 890.50v2.78 M262.5 890.50v4.86 M307.5 890.50v2.78 M353.5 890.50v4.86 M399.5 890.50v2.78 M444.5 890.50v4.86 M490.5 890.50v2.78 M535.5 890.50v4.86 M581.5 890.50v2.78 M626.5 890.50v4.86 M672.5 890.50v2.78 M718.5 890.50v4.86 M763.5 890.50v2.78 M809.5 890.50v4.86 M854.5 890.50v2.78 M900.5 890.50v4.86 M125.5 245.5h-4.86 M125.5 209.5h-4.86 M125.5 173.5h-4.86 M125.5 137.5h-4.86 M125.5 392.5h-4.86 M125.5 351.5h-4.86 M125.5 310.5h-4.86 M125.5 548.5h-4.86 M125.5 508.5h-4.86 M125.5 468.5h-4.86 M125.5 725.5h-4.86 M125.5 664.5h-4.86 M125.5 604.5h-4.86 M125.5 884.5h-4.86 M125.5 824.5h-4.86 M125.5 763.5h-4.86" stroke="#000" stroke-width="1.11" fill="none"/>
<g style="will-change:transform"><text x="170.69" y="273.00" font-size="13.89" text-anchor="middle" textLength="33.50" lengthAdjust="spacingAndGlyphs">2020</text>
<text x="261.87" y="273.00" font-size="13.89" text-anchor="middle" textLength="33.50" lengthAdjust="spacingAndGlyphs">2030</text>
<text x="353.05" y="273.00" font-size="13.89" text-anchor="middle" textLength="33.50" lengthAdjust="spacingAndGlyphs">2040</text>
<text x="444.23" y="273.00" font-size="13.89" text-anchor="middle" textLength="33.50" lengthAdjust="spacingAndGlyphs">2050</text>
<text x="535.41" y="273.00" font-size="13.89" text-anchor="middle" textLength="33.50" lengthAdjust="spacingAndGlyphs">2060</text>
<text x="626.59" y="273.00" font-size="13.89" text-anchor="middle" textLength="33.50" lengthAdjust="spacingAndGlyphs">2070</text>
<text x="717.77" y="273.00" font-size="13.89" text-anchor="middle" textLength="33.50" lengthAdjust="spacingAndGlyphs">2080</text>
<text x="808.95" y="273.00" font-size="13.89" text-anchor="middle" textLength="33.50" lengthAdjust="spacingAndGlyphs">2090</text>
<text x="170.69" y="433.00" font-size="13.89" text-anchor="middle" textLength="33.50" lengthAdjust="spacingAndGlyphs">2020</text>
<text x="261.87" y="433.00" font-size="13.89" text-anchor="middle" textLength="33.50" lengthAdjust="spacingAndGlyphs">2030</text>
<text x="353.05" y="433.00" font-size="13.89" text-anchor="middle" textLength="33.50" lengthAdjust="spacingAndGlyphs">2040</text>
<text x="444.23" y="433.00" font-size="13.89" text-anchor="middle" textLength="33.50" lengthAdjust="spacingAndGlyphs">2050</text>
<text x="535.41" y="433.00" font-size="13.89" text-anchor="middle" textLength="33.50" lengthAdjust="spacingAndGlyphs">2060</text>
<text x="626.59" y="433.00" font-size="13.89" text-anchor="middle" textLength="33.50" lengthAdjust="spacingAndGlyphs">2070</text>
<text x="717.77" y="433.00" font-size="13.89" text-anchor="middle" textLength="33.50" lengthAdjust="spacingAndGlyphs">2080</text>
<text x="808.95" y="433.00" font-size="13.89" text-anchor="middle" textLength="33.50" lengthAdjust="spacingAndGlyphs">2090</text>
<text x="170.69" y="592.00" font-size="13.89" text-anchor="middle" textLength="33.50" lengthAdjust="spacingAndGlyphs">2020</text>
<text x="261.87" y="592.00" font-size="13.89" text-anchor="middle" textLength="33.50" lengthAdjust="spacingAndGlyphs">2030</text>
<text x="353.05" y="592.00" font-size="13.89" text-anchor="middle" textLength="33.50" lengthAdjust="spacingAndGlyphs">2040</text>
<text x="444.23" y="592.00" font-size="13.89" text-anchor="middle" textLength="33.50" lengthAdjust="spacingAndGlyphs">2050</text>
<text x="535.41" y="592.00" font-size="13.89" text-anchor="middle" textLength="33.50" lengthAdjust="spacingAndGlyphs">2060</text>
<text x="626.59" y="592.00" font-size="13.89" text-anchor="middle" textLength="33.50" lengthAdjust="spacingAndGlyphs">2070</text>
<text x="717.77" y="592.00" font-size="13.89" text-anchor="middle" textLength="33.50" lengthAdjust="spacingAndGlyphs">2080</text>
<text x="808.95" y="592.00" font-size="13.89" text-anchor="middle" textLength="33.50" lengthAdjust="spacingAndGlyphs">2090</text>
<text x="170.69" y="751.00" font-size="13.89" text-anchor="middle" textLength="33.50" lengthAdjust="spacingAndGlyphs">2020</text>
<text x="261.87" y="751.00" font-size="13.89" text-anchor="middle" textLength="33.50" lengthAdjust="spacingAndGlyphs">2030</text>
<text x="353.05" y="751.00" font-size="13.89" text-anchor="middle" textLength="33.50" lengthAdjust="spacingAndGlyphs">2040</text>
<text x="444.23" y="751.00" font-size="13.89" text-anchor="middle" textLength="33.50" lengthAdjust="spacingAndGlyphs">2050</text>
<text x="535.41" y="751.00" font-size="13.89" text-anchor="middle" textLength="33.50" lengthAdjust="spacingAndGlyphs">2060</text>
<text x="626.59" y="751.00" font-size="13.89" text-anchor="middle" textLength="33.50" lengthAdjust="spacingAndGlyphs">2070</text>
<text x="717.77" y="751.00" font-size="13.89" text-anchor="middle" textLength="33.50" lengthAdjust="spacingAndGlyphs">2080</text>
<text x="808.95" y="751.00" font-size="13.89" text-anchor="middle" textLength="33.50" lengthAdjust="spacingAndGlyphs">2090</text>
<text x="170.69" y="911.00" font-size="13.89" text-anchor="middle" textLength="33.50" lengthAdjust="spacingAndGlyphs">2020</text>
<text x="261.87" y="911.00" font-size="13.89" text-anchor="middle" textLength="33.50" lengthAdjust="spacingAndGlyphs">2030</text>
<text x="353.05" y="911.00" font-size="13.89" text-anchor="middle" textLength="33.50" lengthAdjust="spacingAndGlyphs">2040</text>
<text x="444.23" y="911.00" font-size="13.89" text-anchor="middle" textLength="33.50" lengthAdjust="spacingAndGlyphs">2050</text>
<text x="535.41" y="911.00" font-size="13.89" text-anchor="middle" textLength="33.50" lengthAdjust="spacingAndGlyphs">2060</text>
<text x="626.59" y="911.00" font-size="13.89" text-anchor="middle" textLength="33.50" lengthAdjust="spacingAndGlyphs">2070</text>
<text x="717.77" y="911.00" font-size="13.89" text-anchor="middle" textLength="33.50" lengthAdjust="spacingAndGlyphs">2080</text>
<text x="808.95" y="911.00" font-size="13.89" text-anchor="middle" textLength="33.50" lengthAdjust="spacingAndGlyphs">2090</text>
<text x="115.30" y="250.29" font-size="13.89" text-anchor="end">5</text>
<text x="115.60" y="214.39" font-size="13.89" text-anchor="end" textLength="16.30" lengthAdjust="spacingAndGlyphs">10</text>
<text x="115.60" y="178.49" font-size="13.89" text-anchor="end" textLength="16.30" lengthAdjust="spacingAndGlyphs">15</text>
<text x="115.60" y="142.59" font-size="13.89" text-anchor="end" textLength="16.30" lengthAdjust="spacingAndGlyphs">20</text>
<text x="114.10" y="397.70" font-size="13.89" text-anchor="end" textLength="27.30" lengthAdjust="spacingAndGlyphs">−60</text>
<text x="114.10" y="356.70" font-size="13.89" text-anchor="end" textLength="27.30" lengthAdjust="spacingAndGlyphs">−40</text>
<text x="114.10" y="315.70" font-size="13.89" text-anchor="end" textLength="27.30" lengthAdjust="spacingAndGlyphs">−20</text>
<text x="115.60" y="553.71" font-size="13.89" text-anchor="end" textLength="16.30" lengthAdjust="spacingAndGlyphs">50</text>
<text x="115.60" y="513.71" font-size="13.89" text-anchor="end" textLength="16.30" lengthAdjust="spacingAndGlyphs">75</text>
<text x="114.10" y="473.71" font-size="13.89" text-anchor="end" textLength="23.80" lengthAdjust="spacingAndGlyphs">100</text>
<text x="115.60" y="730.16" font-size="13.89" text-anchor="end" textLength="40.20" lengthAdjust="spacingAndGlyphs">−0.05</text>
<text x="115.60" y="669.81" font-size="13.89" text-anchor="end" textLength="29.00" lengthAdjust="spacingAndGlyphs">0.00</text>
<text x="115.60" y="609.47" font-size="13.89" text-anchor="end" textLength="29.00" lengthAdjust="spacingAndGlyphs">0.05</text>
<text x="115.60" y="889.47" font-size="13.89" text-anchor="end" textLength="40.20" lengthAdjust="spacingAndGlyphs">−0.05</text>
<text x="115.60" y="829.12" font-size="13.89" text-anchor="end" textLength="29.00" lengthAdjust="spacingAndGlyphs">0.00</text>
<text x="115.60" y="768.78" font-size="13.89" text-anchor="end" textLength="29.00" lengthAdjust="spacingAndGlyphs">0.05</text>
<text x="512.50" y="111.50" font-size="17.80" text-anchor="middle" textLength="423.00" lengthAdjust="spacingAndGlyphs">ua300, lev=0, 20150101T0000 to 20991231T1800</text>
<text x="512.00" y="930.00" font-size="13.89" text-anchor="middle" textLength="63.00" lengthAdjust="spacingAndGlyphs">validtime</text>
<text x="88.00" y="188.50" font-size="13.89" text-anchor="middle" textLength="67.00" lengthAdjust="spacingAndGlyphs" transform="rotate(-90 88.00 188.50)">fieldmean</text>
<text x="77.00" y="348.00" font-size="13.89" text-anchor="middle" textLength="54.00" lengthAdjust="spacingAndGlyphs" transform="rotate(-90 77.00 348.00)">fieldmin</text>
<text x="80.00" y="506.50" font-size="13.89" text-anchor="middle" textLength="59.00" lengthAdjust="spacingAndGlyphs" transform="rotate(-90 80.00 506.50)">fieldmax</text>
<text x="65.00" y="667.00" font-size="13.89" text-anchor="middle" textLength="82.00" lengthAdjust="spacingAndGlyphs" transform="rotate(-90 65.00 667.00)">nummasked</text>
<text x="65.00" y="826.00" font-size="13.89" text-anchor="middle" textLength="54.00" lengthAdjust="spacingAndGlyphs" transform="rotate(-90 65.00 826.00)">numnan</text></g>
</svg></body></html>
